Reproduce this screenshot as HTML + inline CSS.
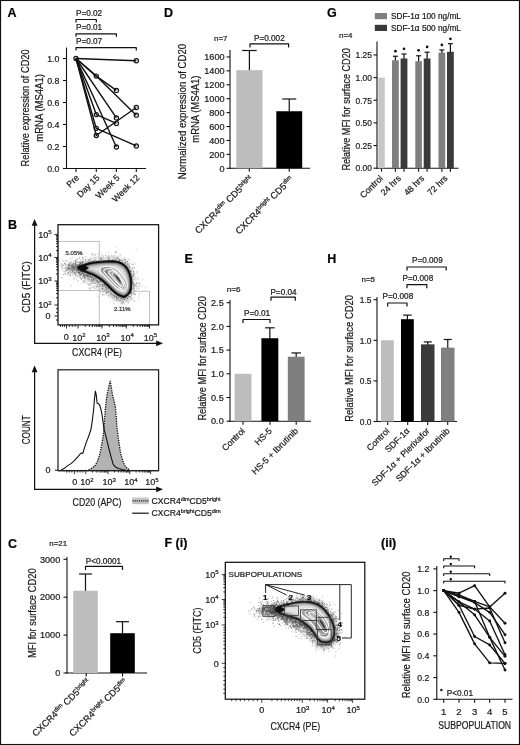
<!DOCTYPE html>
<html><head><meta charset="utf-8"><title>Figure</title>
<style>html,body{margin:0;padding:0;background:#fff;}svg{display:block;font-family:"Liberation Sans",sans-serif;filter:grayscale(1);}text{stroke:#1a1a1a;stroke-width:.22px;}</style>
</head><body>
<svg width="520" height="745" viewBox="0 0 520 745">
<rect x="0" y="0" width="520" height="745" fill="#fff"/>
<rect x="0.55" y="0.5" width="518.9" height="744" fill="none" stroke="#111" stroke-width="1.1"/>
<text transform="translate(7.50,17.20)" font-size="12.5" text-anchor="start" font-weight="bold" fill="#000" >A</text>
<text transform="translate(164.00,16.60)" font-size="12.5" text-anchor="start" font-weight="bold" fill="#000" >D</text>
<text transform="translate(327.00,17.00)" font-size="12.5" text-anchor="start" font-weight="bold" fill="#000" >G</text>
<text transform="translate(8.00,229.00)" font-size="12.5" text-anchor="start" font-weight="bold" fill="#000" >B</text>
<text transform="translate(184.50,263.30)" font-size="12.5" text-anchor="start" font-weight="bold" fill="#000" >E</text>
<text transform="translate(327.30,263.30)" font-size="12.5" text-anchor="start" font-weight="bold" fill="#000" >H</text>
<text transform="translate(8.00,547.50)" font-size="12.5" text-anchor="start" font-weight="bold" fill="#000" >C</text>
<text transform="translate(164.50,547.20)" font-size="12.5" text-anchor="start" font-weight="bold" fill="#000" >F (i)</text>
<text transform="translate(381.00,547.00)" font-size="12.5" text-anchor="start" font-weight="bold" fill="#000" >(ii)</text>
<line x1="66.50" y1="47.50" x2="66.50" y2="169.05" stroke="#111" stroke-width="1.1" stroke-linecap="butt"/>
<line x1="63.00" y1="168.50" x2="66.50" y2="168.50" stroke="#111" stroke-width="1.1" stroke-linecap="butt"/>
<text transform="translate(59.40,171.78) scale(0.97,1)" font-size="9.1" text-anchor="end" font-weight="normal" fill="#1a1a1a" >0.0</text>
<line x1="63.00" y1="146.50" x2="66.50" y2="146.50" stroke="#111" stroke-width="1.1" stroke-linecap="butt"/>
<text transform="translate(59.40,149.78) scale(0.97,1)" font-size="9.1" text-anchor="end" font-weight="normal" fill="#1a1a1a" >0.2</text>
<line x1="63.00" y1="124.50" x2="66.50" y2="124.50" stroke="#111" stroke-width="1.1" stroke-linecap="butt"/>
<text transform="translate(59.40,127.78) scale(0.97,1)" font-size="9.1" text-anchor="end" font-weight="normal" fill="#1a1a1a" >0.4</text>
<line x1="63.00" y1="102.50" x2="66.50" y2="102.50" stroke="#111" stroke-width="1.1" stroke-linecap="butt"/>
<text transform="translate(59.40,105.78) scale(0.97,1)" font-size="9.1" text-anchor="end" font-weight="normal" fill="#1a1a1a" >0.6</text>
<line x1="63.00" y1="80.50" x2="66.50" y2="80.50" stroke="#111" stroke-width="1.1" stroke-linecap="butt"/>
<text transform="translate(59.40,83.78) scale(0.97,1)" font-size="9.1" text-anchor="end" font-weight="normal" fill="#1a1a1a" >0.8</text>
<line x1="63.00" y1="58.50" x2="66.50" y2="58.50" stroke="#111" stroke-width="1.1" stroke-linecap="butt"/>
<text transform="translate(59.40,61.78) scale(0.97,1)" font-size="9.1" text-anchor="end" font-weight="normal" fill="#1a1a1a" >1.0</text>
<line x1="65.85" y1="168.50" x2="146.00" y2="168.50" stroke="#111" stroke-width="1.1" stroke-linecap="butt"/>
<line x1="76.00" y1="168.50" x2="76.00" y2="172.00" stroke="#111" stroke-width="1.1" stroke-linecap="butt"/>
<line x1="96.30" y1="168.50" x2="96.30" y2="172.00" stroke="#111" stroke-width="1.1" stroke-linecap="butt"/>
<line x1="116.40" y1="168.50" x2="116.40" y2="172.00" stroke="#111" stroke-width="1.1" stroke-linecap="butt"/>
<line x1="136.30" y1="168.50" x2="136.30" y2="172.00" stroke="#111" stroke-width="1.1" stroke-linecap="butt"/>
<text transform="translate(29.00,166.40) rotate(-90)" font-size="10.5" text-anchor="start" font-weight="normal" fill="#1a1a1a"  textLength="117" lengthAdjust="spacingAndGlyphs">Relative expression of CD20</text>
<text transform="translate(42.60,141.70) rotate(-90)" font-size="10.5" text-anchor="start" font-weight="normal" fill="#1a1a1a"  textLength="67.6" lengthAdjust="spacingAndGlyphs">mRNA (MS4A1)</text>
<text transform="translate(79.80,178.30) rotate(-45)" font-size="8.8" text-anchor="end" font-weight="normal" fill="#1a1a1a" >Pre</text>
<text transform="translate(100.10,178.30) rotate(-45)" font-size="8.8" text-anchor="end" font-weight="normal" fill="#1a1a1a" >Day 15</text>
<text transform="translate(120.20,178.30) rotate(-45)" font-size="8.8" text-anchor="end" font-weight="normal" fill="#1a1a1a" >Week 5</text>
<text transform="translate(140.10,178.30) rotate(-45)" font-size="8.8" text-anchor="end" font-weight="normal" fill="#1a1a1a" >Week 12</text>
<polyline points="76.00,58.50 136.30,60.70" fill="none" stroke="#111" stroke-width="1.4" stroke-linejoin="round" />
<polyline points="76.00,58.50 96.30,76.10 116.40,90.40" fill="none" stroke="#111" stroke-width="1.4" stroke-linejoin="round" />
<polyline points="76.00,58.50 96.30,76.10 136.30,115.15" fill="none" stroke="#111" stroke-width="1.4" stroke-linejoin="round" />
<polyline points="76.00,58.50 116.40,117.90" fill="none" stroke="#111" stroke-width="1.4" stroke-linejoin="round" />
<polyline points="76.00,58.50 96.30,114.60 116.40,123.40" fill="none" stroke="#111" stroke-width="1.4" stroke-linejoin="round" />
<polyline points="76.00,58.50 96.30,135.50 136.30,107.45" fill="none" stroke="#111" stroke-width="1.4" stroke-linejoin="round" />
<polyline points="76.00,58.50 96.30,128.35 136.30,145.95" fill="none" stroke="#111" stroke-width="1.4" stroke-linejoin="round" />
<polyline points="76.00,58.50 116.40,147.05" fill="none" stroke="#111" stroke-width="1.4" stroke-linejoin="round" />
<circle cx="76.00" cy="58.50" r="2.1" fill="none" stroke="#111" stroke-width="1.2"/>
<circle cx="136.30" cy="60.70" r="2.1" fill="none" stroke="#111" stroke-width="1.2"/>
<circle cx="96.30" cy="76.10" r="2.1" fill="none" stroke="#111" stroke-width="1.2"/>
<circle cx="116.40" cy="90.40" r="2.1" fill="none" stroke="#111" stroke-width="1.2"/>
<circle cx="136.30" cy="115.15" r="2.1" fill="none" stroke="#111" stroke-width="1.2"/>
<circle cx="116.40" cy="117.90" r="2.1" fill="none" stroke="#111" stroke-width="1.2"/>
<circle cx="96.30" cy="114.60" r="2.1" fill="none" stroke="#111" stroke-width="1.2"/>
<circle cx="116.40" cy="123.40" r="2.1" fill="none" stroke="#111" stroke-width="1.2"/>
<circle cx="96.30" cy="135.50" r="2.1" fill="none" stroke="#111" stroke-width="1.2"/>
<circle cx="136.30" cy="107.45" r="2.1" fill="none" stroke="#111" stroke-width="1.2"/>
<circle cx="96.30" cy="128.35" r="2.1" fill="none" stroke="#111" stroke-width="1.2"/>
<circle cx="136.30" cy="145.95" r="2.1" fill="none" stroke="#111" stroke-width="1.2"/>
<circle cx="116.40" cy="147.05" r="2.1" fill="none" stroke="#111" stroke-width="1.2"/>
<polyline points="76.00,22.40 76.00,19.50 96.30,19.50 96.30,22.40" fill="none" stroke="#111" stroke-width="1.2" stroke-linejoin="round" />
<text transform="translate(76.00,15.90)" font-size="8.2" text-anchor="start" font-weight="normal" fill="#1a1a1a" >P=0.02</text>
<polyline points="76.00,36.70 76.00,33.80 116.40,33.80 116.40,36.70" fill="none" stroke="#111" stroke-width="1.2" stroke-linejoin="round" />
<text transform="translate(76.00,30.20)" font-size="8.2" text-anchor="start" font-weight="normal" fill="#1a1a1a" >P=0.01</text>
<polyline points="76.00,50.60 76.00,47.70 136.30,47.70 136.30,50.60" fill="none" stroke="#111" stroke-width="1.2" stroke-linejoin="round" />
<text transform="translate(76.00,44.10)" font-size="8.2" text-anchor="start" font-weight="normal" fill="#1a1a1a" >P=0.07</text>
<line x1="230.00" y1="50.00" x2="230.00" y2="168.85" stroke="#111" stroke-width="1.1" stroke-linecap="butt"/>
<line x1="226.50" y1="168.30" x2="230.00" y2="168.30" stroke="#111" stroke-width="1.1" stroke-linecap="butt"/>
<text transform="translate(224.50,171.58) scale(1.0,1)" font-size="9.1" text-anchor="end" font-weight="normal" fill="#1a1a1a" >0</text>
<line x1="226.50" y1="154.38" x2="230.00" y2="154.38" stroke="#111" stroke-width="1.1" stroke-linecap="butt"/>
<text transform="translate(224.50,157.66) scale(1.0,1)" font-size="9.1" text-anchor="end" font-weight="normal" fill="#1a1a1a" >200</text>
<line x1="226.50" y1="140.46" x2="230.00" y2="140.46" stroke="#111" stroke-width="1.1" stroke-linecap="butt"/>
<text transform="translate(224.50,143.74) scale(1.0,1)" font-size="9.1" text-anchor="end" font-weight="normal" fill="#1a1a1a" >400</text>
<line x1="226.50" y1="126.54" x2="230.00" y2="126.54" stroke="#111" stroke-width="1.1" stroke-linecap="butt"/>
<text transform="translate(224.50,129.82) scale(1.0,1)" font-size="9.1" text-anchor="end" font-weight="normal" fill="#1a1a1a" >600</text>
<line x1="226.50" y1="112.62" x2="230.00" y2="112.62" stroke="#111" stroke-width="1.1" stroke-linecap="butt"/>
<text transform="translate(224.50,115.90) scale(1.0,1)" font-size="9.1" text-anchor="end" font-weight="normal" fill="#1a1a1a" >800</text>
<line x1="226.50" y1="98.70" x2="230.00" y2="98.70" stroke="#111" stroke-width="1.1" stroke-linecap="butt"/>
<text transform="translate(224.50,101.98) scale(1.0,1)" font-size="9.1" text-anchor="end" font-weight="normal" fill="#1a1a1a" >1000</text>
<line x1="226.50" y1="84.78" x2="230.00" y2="84.78" stroke="#111" stroke-width="1.1" stroke-linecap="butt"/>
<text transform="translate(224.50,88.06) scale(1.0,1)" font-size="9.1" text-anchor="end" font-weight="normal" fill="#1a1a1a" >1200</text>
<line x1="226.50" y1="70.86" x2="230.00" y2="70.86" stroke="#111" stroke-width="1.1" stroke-linecap="butt"/>
<text transform="translate(224.50,74.14) scale(1.0,1)" font-size="9.1" text-anchor="end" font-weight="normal" fill="#1a1a1a" >1400</text>
<line x1="226.50" y1="56.94" x2="230.00" y2="56.94" stroke="#111" stroke-width="1.1" stroke-linecap="butt"/>
<text transform="translate(224.50,60.22) scale(1.0,1)" font-size="9.1" text-anchor="end" font-weight="normal" fill="#1a1a1a" >1600</text>
<line x1="229.35" y1="168.30" x2="310.00" y2="168.30" stroke="#111" stroke-width="1.1" stroke-linecap="butt"/>
<line x1="249.30" y1="168.30" x2="249.30" y2="171.80" stroke="#111" stroke-width="1.1" stroke-linecap="butt"/>
<line x1="289.20" y1="168.30" x2="289.20" y2="171.80" stroke="#111" stroke-width="1.1" stroke-linecap="butt"/>
<line x1="249.40" y1="50.50" x2="249.40" y2="71.16" stroke="#111" stroke-width="1.2" stroke-linecap="butt"/>
<line x1="242.15" y1="50.50" x2="256.65" y2="50.50" stroke="#111" stroke-width="1.2" stroke-linecap="butt"/>
<rect x="236.30" y="70.16" width="26.20" height="98.14" fill="#bdbdbd" stroke="none" stroke-width="1"/>
<line x1="289.25" y1="99.00" x2="289.25" y2="112.23" stroke="#111" stroke-width="1.2" stroke-linecap="butt"/>
<line x1="282.25" y1="99.00" x2="296.25" y2="99.00" stroke="#111" stroke-width="1.2" stroke-linecap="butt"/>
<rect x="276.30" y="111.23" width="25.90" height="57.07" fill="#000" stroke="none" stroke-width="1"/>
<text transform="translate(185.80,179.20) rotate(-90)" font-size="10.5" text-anchor="start" font-weight="normal" fill="#1a1a1a"  textLength="135.3" lengthAdjust="spacingAndGlyphs">Normalized expression of CD20</text>
<text transform="translate(198.80,142.70) rotate(-90)" font-size="10.5" text-anchor="start" font-weight="normal" fill="#1a1a1a"  textLength="67.2" lengthAdjust="spacingAndGlyphs">mRNA (MS4A1)</text>
<text transform="translate(214.00,41.00)" font-size="7.9" text-anchor="start" font-weight="normal" fill="#1a1a1a" >n=7</text>
<text transform="translate(254.00,41.00)" font-size="8.2" text-anchor="start" font-weight="normal" fill="#1a1a1a" >P=0.002</text>
<polyline points="250.00,47.40 250.00,43.80 288.60,43.80 288.60,47.40" fill="none" stroke="#111" stroke-width="1.2" stroke-linejoin="round" />
<text transform="translate(253.50,179.50) rotate(-45)" font-size="9.3" text-anchor="end" font-weight="normal" fill="#1a1a1a" >CXCR4<tspan font-size="6" dy="-3.2">dim</tspan><tspan dy="3.2"> CD5</tspan><tspan font-size="6" dy="-3.2">bright</tspan></text>
<text transform="translate(294.00,180.00) rotate(-45)" font-size="9.3" text-anchor="end" font-weight="normal" fill="#1a1a1a" >CXCR4<tspan font-size="6" dy="-3.2">bright</tspan><tspan dy="3.2"> CD5</tspan><tspan font-size="6" dy="-3.2">dim</tspan></text>
<line x1="377.00" y1="41.50" x2="377.00" y2="168.75" stroke="#111" stroke-width="1.1" stroke-linecap="butt"/>
<line x1="373.50" y1="168.20" x2="377.00" y2="168.20" stroke="#111" stroke-width="1.1" stroke-linecap="butt"/>
<text transform="translate(372.00,171.48) scale(0.93,1)" font-size="9.1" text-anchor="end" font-weight="normal" fill="#1a1a1a" >0.00</text>
<line x1="373.50" y1="145.55" x2="377.00" y2="145.55" stroke="#111" stroke-width="1.1" stroke-linecap="butt"/>
<text transform="translate(372.00,148.83) scale(0.93,1)" font-size="9.1" text-anchor="end" font-weight="normal" fill="#1a1a1a" >0.25</text>
<line x1="373.50" y1="122.90" x2="377.00" y2="122.90" stroke="#111" stroke-width="1.1" stroke-linecap="butt"/>
<text transform="translate(372.00,126.18) scale(0.93,1)" font-size="9.1" text-anchor="end" font-weight="normal" fill="#1a1a1a" >0.50</text>
<line x1="373.50" y1="100.25" x2="377.00" y2="100.25" stroke="#111" stroke-width="1.1" stroke-linecap="butt"/>
<text transform="translate(372.00,103.53) scale(0.93,1)" font-size="9.1" text-anchor="end" font-weight="normal" fill="#1a1a1a" >0.75</text>
<line x1="373.50" y1="77.60" x2="377.00" y2="77.60" stroke="#111" stroke-width="1.1" stroke-linecap="butt"/>
<text transform="translate(372.00,80.88) scale(0.93,1)" font-size="9.1" text-anchor="end" font-weight="normal" fill="#1a1a1a" >1.00</text>
<line x1="373.50" y1="54.95" x2="377.00" y2="54.95" stroke="#111" stroke-width="1.1" stroke-linecap="butt"/>
<text transform="translate(372.00,58.23) scale(0.93,1)" font-size="9.1" text-anchor="end" font-weight="normal" fill="#1a1a1a" >1.25</text>
<line x1="376.35" y1="168.20" x2="458.50" y2="168.20" stroke="#111" stroke-width="1.1" stroke-linecap="butt"/>
<line x1="381.50" y1="168.20" x2="381.50" y2="171.70" stroke="#111" stroke-width="1.1" stroke-linecap="butt"/>
<line x1="395.40" y1="168.20" x2="395.40" y2="171.70" stroke="#111" stroke-width="1.1" stroke-linecap="butt"/>
<line x1="404.00" y1="168.20" x2="404.00" y2="171.70" stroke="#111" stroke-width="1.1" stroke-linecap="butt"/>
<line x1="418.60" y1="168.20" x2="418.60" y2="171.70" stroke="#111" stroke-width="1.1" stroke-linecap="butt"/>
<line x1="427.10" y1="168.20" x2="427.10" y2="171.70" stroke="#111" stroke-width="1.1" stroke-linecap="butt"/>
<line x1="441.90" y1="168.20" x2="441.90" y2="171.70" stroke="#111" stroke-width="1.1" stroke-linecap="butt"/>
<line x1="450.40" y1="168.20" x2="450.40" y2="171.70" stroke="#111" stroke-width="1.1" stroke-linecap="butt"/>
<rect x="378.30" y="77.60" width="6.50" height="90.60" fill="#c6c6c6" stroke="none" stroke-width="1"/>
<line x1="395.40" y1="56.25" x2="395.40" y2="61.28" stroke="#111" stroke-width="1.2" stroke-linecap="butt"/>
<line x1="392.90" y1="56.25" x2="397.90" y2="56.25" stroke="#111" stroke-width="1.2" stroke-linecap="butt"/>
<rect x="392.00" y="60.28" width="6.80" height="107.92" fill="#7f7f7f" stroke="none" stroke-width="1"/>
<circle cx="395.40" cy="51.20" r="1.35" fill="#111"/>
<line x1="404.00" y1="54.01" x2="404.00" y2="59.49" stroke="#111" stroke-width="1.2" stroke-linecap="butt"/>
<line x1="401.50" y1="54.01" x2="406.50" y2="54.01" stroke="#111" stroke-width="1.2" stroke-linecap="butt"/>
<rect x="400.60" y="58.49" width="6.80" height="109.71" fill="#3a3a3a" stroke="none" stroke-width="1"/>
<circle cx="404.00" cy="48.80" r="1.35" fill="#111"/>
<line x1="418.60" y1="55.80" x2="418.60" y2="62.18" stroke="#111" stroke-width="1.2" stroke-linecap="butt"/>
<line x1="416.10" y1="55.80" x2="421.10" y2="55.80" stroke="#111" stroke-width="1.2" stroke-linecap="butt"/>
<rect x="415.30" y="61.18" width="6.60" height="107.02" fill="#7f7f7f" stroke="none" stroke-width="1"/>
<circle cx="418.60" cy="50.30" r="1.35" fill="#111"/>
<line x1="427.10" y1="52.22" x2="427.10" y2="59.49" stroke="#111" stroke-width="1.2" stroke-linecap="butt"/>
<line x1="424.60" y1="52.22" x2="429.60" y2="52.22" stroke="#111" stroke-width="1.2" stroke-linecap="butt"/>
<rect x="423.70" y="58.49" width="6.80" height="109.71" fill="#3a3a3a" stroke="none" stroke-width="1"/>
<circle cx="427.10" cy="46.90" r="1.35" fill="#111"/>
<line x1="441.85" y1="49.98" x2="441.85" y2="53.66" stroke="#111" stroke-width="1.2" stroke-linecap="butt"/>
<line x1="439.35" y1="49.98" x2="444.35" y2="49.98" stroke="#111" stroke-width="1.2" stroke-linecap="butt"/>
<rect x="438.50" y="52.66" width="6.70" height="115.54" fill="#7f7f7f" stroke="none" stroke-width="1"/>
<circle cx="441.85" cy="44.90" r="1.35" fill="#111"/>
<line x1="450.40" y1="43.70" x2="450.40" y2="52.77" stroke="#111" stroke-width="1.2" stroke-linecap="butt"/>
<line x1="447.90" y1="43.70" x2="452.90" y2="43.70" stroke="#111" stroke-width="1.2" stroke-linecap="butt"/>
<rect x="447.00" y="51.77" width="6.80" height="116.43" fill="#3a3a3a" stroke="none" stroke-width="1"/>
<circle cx="450.40" cy="38.80" r="1.35" fill="#111"/>
<text transform="translate(350.00,170.60) rotate(-90)" font-size="10.5" text-anchor="start" font-weight="normal" fill="#1a1a1a"  textLength="122.4" lengthAdjust="spacingAndGlyphs">Relative MFI for surface CD20</text>
<text transform="translate(339.00,38.00)" font-size="7.9" text-anchor="start" font-weight="normal" fill="#1a1a1a" >n=4</text>
<rect x="374.80" y="13.00" width="12.20" height="6.20" fill="#7f7f7f" stroke="none" stroke-width="1"/>
<text transform="translate(391.00,19.30)" font-size="8.25" text-anchor="start" font-weight="normal" fill="#1a1a1a" >SDF-1α 100 ng/mL</text>
<rect x="374.80" y="24.80" width="12.20" height="6.20" fill="#3a3a3a" stroke="none" stroke-width="1"/>
<text transform="translate(391.00,31.00)" font-size="8.25" text-anchor="start" font-weight="normal" fill="#1a1a1a" >SDF-1α 500 ng/mL</text>
<text transform="translate(383.50,178.80) rotate(-45)" font-size="8.8" text-anchor="end" font-weight="normal" fill="#1a1a1a" >Control</text>
<text transform="translate(401.50,178.80) rotate(-45)" font-size="8.8" text-anchor="end" font-weight="normal" fill="#1a1a1a" >24 hrs</text>
<text transform="translate(424.80,178.80) rotate(-45)" font-size="8.8" text-anchor="end" font-weight="normal" fill="#1a1a1a" >48 hrs</text>
<text transform="translate(448.10,178.80) rotate(-45)" font-size="8.8" text-anchor="end" font-weight="normal" fill="#1a1a1a" >72 hrs</text>
<line x1="230.00" y1="300.00" x2="230.00" y2="421.75" stroke="#111" stroke-width="1.1" stroke-linecap="butt"/>
<line x1="226.50" y1="421.20" x2="230.00" y2="421.20" stroke="#111" stroke-width="1.1" stroke-linecap="butt"/>
<text transform="translate(223.70,424.48) scale(1.0,1)" font-size="9.1" text-anchor="end" font-weight="normal" fill="#1a1a1a" >0.0</text>
<line x1="226.50" y1="397.50" x2="230.00" y2="397.50" stroke="#111" stroke-width="1.1" stroke-linecap="butt"/>
<text transform="translate(223.70,400.78) scale(1.0,1)" font-size="9.1" text-anchor="end" font-weight="normal" fill="#1a1a1a" >0.5</text>
<line x1="226.50" y1="373.80" x2="230.00" y2="373.80" stroke="#111" stroke-width="1.1" stroke-linecap="butt"/>
<text transform="translate(223.70,377.08) scale(1.0,1)" font-size="9.1" text-anchor="end" font-weight="normal" fill="#1a1a1a" >1.0</text>
<line x1="226.50" y1="350.10" x2="230.00" y2="350.10" stroke="#111" stroke-width="1.1" stroke-linecap="butt"/>
<text transform="translate(223.70,353.38) scale(1.0,1)" font-size="9.1" text-anchor="end" font-weight="normal" fill="#1a1a1a" >1.5</text>
<line x1="226.50" y1="326.40" x2="230.00" y2="326.40" stroke="#111" stroke-width="1.1" stroke-linecap="butt"/>
<text transform="translate(223.70,329.68) scale(1.0,1)" font-size="9.1" text-anchor="end" font-weight="normal" fill="#1a1a1a" >2.0</text>
<line x1="226.50" y1="302.70" x2="230.00" y2="302.70" stroke="#111" stroke-width="1.1" stroke-linecap="butt"/>
<text transform="translate(223.70,305.98) scale(1.0,1)" font-size="9.1" text-anchor="end" font-weight="normal" fill="#1a1a1a" >2.5</text>
<line x1="229.35" y1="421.20" x2="311.00" y2="421.20" stroke="#111" stroke-width="1.1" stroke-linecap="butt"/>
<line x1="243.00" y1="421.20" x2="243.00" y2="424.70" stroke="#111" stroke-width="1.1" stroke-linecap="butt"/>
<line x1="270.00" y1="421.20" x2="270.00" y2="424.70" stroke="#111" stroke-width="1.1" stroke-linecap="butt"/>
<line x1="296.20" y1="421.20" x2="296.20" y2="424.70" stroke="#111" stroke-width="1.1" stroke-linecap="butt"/>
<rect x="234.60" y="373.80" width="16.90" height="47.40" fill="#bdbdbd" stroke="none" stroke-width="1"/>
<line x1="269.85" y1="327.82" x2="269.85" y2="339.25" stroke="#111" stroke-width="1.2" stroke-linecap="butt"/>
<line x1="265.10" y1="327.82" x2="274.60" y2="327.82" stroke="#111" stroke-width="1.2" stroke-linecap="butt"/>
<rect x="261.40" y="338.25" width="16.90" height="82.95" fill="#000" stroke="none" stroke-width="1"/>
<line x1="296.20" y1="352.94" x2="296.20" y2="357.74" stroke="#111" stroke-width="1.2" stroke-linecap="butt"/>
<line x1="291.45" y1="352.94" x2="300.95" y2="352.94" stroke="#111" stroke-width="1.2" stroke-linecap="butt"/>
<rect x="287.80" y="356.74" width="16.80" height="64.46" fill="#7f7f7f" stroke="none" stroke-width="1"/>
<text transform="translate(206.20,420.60) rotate(-90)" font-size="10.5" text-anchor="start" font-weight="normal" fill="#1a1a1a"  textLength="124.5" lengthAdjust="spacingAndGlyphs">Relative MFI for surface CD20</text>
<text transform="translate(226.80,291.50)" font-size="8.1" text-anchor="start" font-weight="normal" fill="#1a1a1a" >n=6</text>
<text transform="translate(270.40,294.50)" font-size="8.2" text-anchor="start" font-weight="normal" fill="#1a1a1a" >P=0.04</text>
<polyline points="271.00,300.80 271.00,297.20 295.30,297.20 295.30,300.80" fill="none" stroke="#111" stroke-width="1.2" stroke-linejoin="round" />
<text transform="translate(244.00,316.20)" font-size="8.2" text-anchor="start" font-weight="normal" fill="#1a1a1a" >P=0.01</text>
<polyline points="243.00,323.10 243.00,319.50 270.00,319.50 270.00,323.10" fill="none" stroke="#111" stroke-width="1.2" stroke-linejoin="round" />
<text transform="translate(245.50,431.50) rotate(-45)" font-size="8.8" text-anchor="end" font-weight="normal" fill="#1a1a1a" >Control</text>
<text transform="translate(272.50,431.50) rotate(-45)" font-size="8.8" text-anchor="end" font-weight="normal" fill="#1a1a1a" >HS-5</text>
<text transform="translate(298.70,431.50) rotate(-45)" font-size="8.8" text-anchor="end" font-weight="normal" fill="#1a1a1a" >HS-5 + Ibrutinib</text>
<line x1="377.00" y1="297.00" x2="377.00" y2="422.05" stroke="#111" stroke-width="1.1" stroke-linecap="butt"/>
<line x1="373.50" y1="421.50" x2="377.00" y2="421.50" stroke="#111" stroke-width="1.1" stroke-linecap="butt"/>
<text transform="translate(371.50,424.78) scale(0.93,1)" font-size="9.1" text-anchor="end" font-weight="normal" fill="#1a1a1a" >0.0</text>
<line x1="373.50" y1="380.90" x2="377.00" y2="380.90" stroke="#111" stroke-width="1.1" stroke-linecap="butt"/>
<text transform="translate(371.50,384.18) scale(0.93,1)" font-size="9.1" text-anchor="end" font-weight="normal" fill="#1a1a1a" >0.5</text>
<line x1="373.50" y1="340.30" x2="377.00" y2="340.30" stroke="#111" stroke-width="1.1" stroke-linecap="butt"/>
<text transform="translate(371.50,343.58) scale(0.93,1)" font-size="9.1" text-anchor="end" font-weight="normal" fill="#1a1a1a" >1.0</text>
<line x1="373.50" y1="299.70" x2="377.00" y2="299.70" stroke="#111" stroke-width="1.1" stroke-linecap="butt"/>
<text transform="translate(371.50,302.98) scale(0.93,1)" font-size="9.1" text-anchor="end" font-weight="normal" fill="#1a1a1a" >1.5</text>
<line x1="376.35" y1="421.50" x2="457.00" y2="421.50" stroke="#111" stroke-width="1.1" stroke-linecap="butt"/>
<line x1="387.70" y1="421.50" x2="387.70" y2="425.00" stroke="#111" stroke-width="1.1" stroke-linecap="butt"/>
<line x1="407.70" y1="421.50" x2="407.70" y2="425.00" stroke="#111" stroke-width="1.1" stroke-linecap="butt"/>
<line x1="427.70" y1="421.50" x2="427.70" y2="425.00" stroke="#111" stroke-width="1.1" stroke-linecap="butt"/>
<line x1="447.70" y1="421.50" x2="447.70" y2="425.00" stroke="#111" stroke-width="1.1" stroke-linecap="butt"/>
<rect x="381.00" y="340.30" width="12.80" height="81.20" fill="#bdbdbd" stroke="none" stroke-width="1"/>
<line x1="407.40" y1="315.13" x2="407.40" y2="320.19" stroke="#111" stroke-width="1.2" stroke-linecap="butt"/>
<line x1="403.15" y1="315.13" x2="411.65" y2="315.13" stroke="#111" stroke-width="1.2" stroke-linecap="butt"/>
<rect x="401.00" y="319.19" width="12.80" height="102.31" fill="#000" stroke="none" stroke-width="1"/>
<line x1="427.75" y1="341.92" x2="427.75" y2="345.36" stroke="#111" stroke-width="1.2" stroke-linecap="butt"/>
<line x1="423.75" y1="341.92" x2="431.75" y2="341.92" stroke="#111" stroke-width="1.2" stroke-linecap="butt"/>
<rect x="421.00" y="344.36" width="13.50" height="77.14" fill="#3a3a3a" stroke="none" stroke-width="1"/>
<line x1="447.75" y1="339.49" x2="447.75" y2="348.61" stroke="#111" stroke-width="1.2" stroke-linecap="butt"/>
<line x1="443.75" y1="339.49" x2="451.75" y2="339.49" stroke="#111" stroke-width="1.2" stroke-linecap="butt"/>
<rect x="441.00" y="347.61" width="13.50" height="73.89" fill="#7f7f7f" stroke="none" stroke-width="1"/>
<text transform="translate(352.50,421.70) rotate(-90)" font-size="10.5" text-anchor="start" font-weight="normal" fill="#1a1a1a"  textLength="126.7" lengthAdjust="spacingAndGlyphs">Relative MFI for surface CD20</text>
<text transform="translate(361.50,282.30)" font-size="7.9" text-anchor="start" font-weight="normal" fill="#1a1a1a" >n=5</text>
<text transform="translate(412.00,262.50)" font-size="8.2" text-anchor="start" font-weight="normal" fill="#1a1a1a" >P=0.009</text>
<polyline points="407.00,270.60 407.00,267.00 446.20,267.00 446.20,270.60" fill="none" stroke="#111" stroke-width="1.2" stroke-linejoin="round" />
<text transform="translate(402.50,280.50)" font-size="8.2" text-anchor="start" font-weight="normal" fill="#1a1a1a" >P=0.008</text>
<polyline points="407.00,288.30 407.00,284.70 426.80,284.70 426.80,288.30" fill="none" stroke="#111" stroke-width="1.2" stroke-linejoin="round" />
<text transform="translate(382.50,299.00)" font-size="8.2" text-anchor="start" font-weight="normal" fill="#1a1a1a" >P=0.008</text>
<polyline points="387.70,306.60 387.70,303.00 407.00,303.00 407.00,306.60" fill="none" stroke="#111" stroke-width="1.2" stroke-linejoin="round" />
<text transform="translate(390.20,431.50) rotate(-45)" font-size="8.8" text-anchor="end" font-weight="normal" fill="#1a1a1a" >Control</text>
<text transform="translate(410.20,431.50) rotate(-45)" font-size="8.8" text-anchor="end" font-weight="normal" fill="#1a1a1a" >SDF-1α</text>
<text transform="translate(430.20,431.50) rotate(-45)" font-size="8.8" text-anchor="end" font-weight="normal" fill="#1a1a1a" >SDF-1α + Plerixafor</text>
<text transform="translate(450.20,431.50) rotate(-45)" font-size="8.8" text-anchor="end" font-weight="normal" fill="#1a1a1a" >SDF-1α + Ibrutinib</text>
<line x1="67.00" y1="557.00" x2="67.00" y2="673.55" stroke="#111" stroke-width="1.1" stroke-linecap="butt"/>
<line x1="63.50" y1="673.00" x2="67.00" y2="673.00" stroke="#111" stroke-width="1.1" stroke-linecap="butt"/>
<text transform="translate(60.20,676.28) scale(1.0,1)" font-size="9.1" text-anchor="end" font-weight="normal" fill="#1a1a1a" >0</text>
<line x1="63.50" y1="635.10" x2="67.00" y2="635.10" stroke="#111" stroke-width="1.1" stroke-linecap="butt"/>
<text transform="translate(60.20,638.38) scale(1.0,1)" font-size="9.1" text-anchor="end" font-weight="normal" fill="#1a1a1a" >1000</text>
<line x1="63.50" y1="597.20" x2="67.00" y2="597.20" stroke="#111" stroke-width="1.1" stroke-linecap="butt"/>
<text transform="translate(60.20,600.48) scale(1.0,1)" font-size="9.1" text-anchor="end" font-weight="normal" fill="#1a1a1a" >2000</text>
<line x1="63.50" y1="559.30" x2="67.00" y2="559.30" stroke="#111" stroke-width="1.1" stroke-linecap="butt"/>
<text transform="translate(60.20,562.58) scale(1.0,1)" font-size="9.1" text-anchor="end" font-weight="normal" fill="#1a1a1a" >3000</text>
<line x1="66.35" y1="673.00" x2="147.00" y2="673.00" stroke="#111" stroke-width="1.1" stroke-linecap="butt"/>
<line x1="86.20" y1="673.00" x2="86.20" y2="676.50" stroke="#111" stroke-width="1.1" stroke-linecap="butt"/>
<line x1="122.50" y1="673.00" x2="122.50" y2="676.50" stroke="#111" stroke-width="1.1" stroke-linecap="butt"/>
<line x1="85.50" y1="574.00" x2="85.50" y2="591.76" stroke="#111" stroke-width="1.2" stroke-linecap="butt"/>
<line x1="79.00" y1="574.00" x2="92.00" y2="574.00" stroke="#111" stroke-width="1.2" stroke-linecap="butt"/>
<rect x="73.20" y="590.76" width="24.60" height="82.24" fill="#bdbdbd" stroke="none" stroke-width="1"/>
<line x1="122.50" y1="621.70" x2="122.50" y2="634.21" stroke="#111" stroke-width="1.2" stroke-linecap="butt"/>
<line x1="116.00" y1="621.70" x2="129.00" y2="621.70" stroke="#111" stroke-width="1.2" stroke-linecap="butt"/>
<rect x="110.20" y="633.21" width="24.60" height="39.79" fill="#000" stroke="none" stroke-width="1"/>
<text transform="translate(36.20,658.10) rotate(-90)" font-size="10.5" text-anchor="start" font-weight="normal" fill="#1a1a1a"  textLength="89.8" lengthAdjust="spacingAndGlyphs">MFI for surface CD20</text>
<text transform="translate(49.30,546.00)" font-size="7.9" text-anchor="start" font-weight="normal" fill="#1a1a1a" >n=21</text>
<text transform="translate(85.80,564.00)" font-size="8.2" text-anchor="start" font-weight="normal" fill="#1a1a1a" >P&lt;0.0001</text>
<polyline points="85.50,569.90 85.50,566.30 122.50,566.30 122.50,569.90" fill="none" stroke="#111" stroke-width="1.2" stroke-linejoin="round" />
<text transform="translate(90.80,682.30) rotate(-45)" font-size="9.3" text-anchor="end" font-weight="normal" fill="#1a1a1a" >CXCR4<tspan font-size="6" dy="-3.2">dim</tspan><tspan dy="3.2"> CD5</tspan><tspan font-size="6" dy="-3.2">bright</tspan></text>
<text transform="translate(127.80,682.30) rotate(-45)" font-size="9.3" text-anchor="end" font-weight="normal" fill="#1a1a1a" >CXCR4<tspan font-size="6" dy="-3.2">bright</tspan><tspan dy="3.2"> CD5</tspan><tspan font-size="6" dy="-3.2">dim</tspan></text>
<line x1="436.80" y1="566.00" x2="436.80" y2="699.85" stroke="#111" stroke-width="1.1" stroke-linecap="butt"/>
<line x1="433.30" y1="699.30" x2="436.80" y2="699.30" stroke="#111" stroke-width="1.1" stroke-linecap="butt"/>
<text transform="translate(429.40,702.58) scale(0.96,1)" font-size="9.1" text-anchor="end" font-weight="normal" fill="#1a1a1a" >0.0</text>
<line x1="433.30" y1="677.56" x2="436.80" y2="677.56" stroke="#111" stroke-width="1.1" stroke-linecap="butt"/>
<text transform="translate(429.40,680.84) scale(0.96,1)" font-size="9.1" text-anchor="end" font-weight="normal" fill="#1a1a1a" >0.2</text>
<line x1="433.30" y1="655.82" x2="436.80" y2="655.82" stroke="#111" stroke-width="1.1" stroke-linecap="butt"/>
<text transform="translate(429.40,659.10) scale(0.96,1)" font-size="9.1" text-anchor="end" font-weight="normal" fill="#1a1a1a" >0.4</text>
<line x1="433.30" y1="634.08" x2="436.80" y2="634.08" stroke="#111" stroke-width="1.1" stroke-linecap="butt"/>
<text transform="translate(429.40,637.36) scale(0.96,1)" font-size="9.1" text-anchor="end" font-weight="normal" fill="#1a1a1a" >0.6</text>
<line x1="433.30" y1="612.34" x2="436.80" y2="612.34" stroke="#111" stroke-width="1.1" stroke-linecap="butt"/>
<text transform="translate(429.40,615.62) scale(0.96,1)" font-size="9.1" text-anchor="end" font-weight="normal" fill="#1a1a1a" >0.8</text>
<line x1="433.30" y1="590.60" x2="436.80" y2="590.60" stroke="#111" stroke-width="1.1" stroke-linecap="butt"/>
<text transform="translate(429.40,593.88) scale(0.96,1)" font-size="9.1" text-anchor="end" font-weight="normal" fill="#1a1a1a" >1.0</text>
<line x1="433.30" y1="568.86" x2="436.80" y2="568.86" stroke="#111" stroke-width="1.1" stroke-linecap="butt"/>
<text transform="translate(429.40,572.14) scale(0.96,1)" font-size="9.1" text-anchor="end" font-weight="normal" fill="#1a1a1a" >1.2</text>
<line x1="436.15" y1="699.30" x2="512.50" y2="699.30" stroke="#111" stroke-width="1.1" stroke-linecap="butt"/>
<line x1="443.70" y1="699.30" x2="443.70" y2="702.80" stroke="#111" stroke-width="1.1" stroke-linecap="butt"/>
<line x1="459.00" y1="699.30" x2="459.00" y2="702.80" stroke="#111" stroke-width="1.1" stroke-linecap="butt"/>
<line x1="474.60" y1="699.30" x2="474.60" y2="702.80" stroke="#111" stroke-width="1.1" stroke-linecap="butt"/>
<line x1="489.70" y1="699.30" x2="489.70" y2="702.80" stroke="#111" stroke-width="1.1" stroke-linecap="butt"/>
<line x1="505.00" y1="699.30" x2="505.00" y2="702.80" stroke="#111" stroke-width="1.1" stroke-linecap="butt"/>
<text transform="translate(443.70,714.80)" font-size="9.5" text-anchor="middle" font-weight="normal" fill="#1a1a1a" >1</text>
<text transform="translate(459.00,714.80)" font-size="9.5" text-anchor="middle" font-weight="normal" fill="#1a1a1a" >2</text>
<text transform="translate(474.60,714.80)" font-size="9.5" text-anchor="middle" font-weight="normal" fill="#1a1a1a" >3</text>
<text transform="translate(489.70,714.80)" font-size="9.5" text-anchor="middle" font-weight="normal" fill="#1a1a1a" >4</text>
<text transform="translate(505.00,714.80)" font-size="9.5" text-anchor="middle" font-weight="normal" fill="#1a1a1a" >5</text>
<text transform="translate(474.70,728.50) scale(0.765,1)" font-size="11.3" text-anchor="middle" font-weight="normal" fill="#1a1a1a" >SUBPOPULATION</text>
<text transform="translate(409.70,698.20) rotate(-90)" font-size="10.5" text-anchor="start" font-weight="normal" fill="#1a1a1a"  textLength="126.7" lengthAdjust="spacingAndGlyphs">Relative MFI for surface CD20</text>
<polyline points="443.70,590.60 459.00,593.21 474.60,585.71 489.70,606.90 505.00,593.21" fill="none" stroke="#111" stroke-width="1.35" stroke-linejoin="round" />
<circle cx="443.70" cy="590.60" r="1.45" fill="#111"/>
<circle cx="459.00" cy="593.21" r="1.45" fill="#111"/>
<circle cx="474.60" cy="585.71" r="1.45" fill="#111"/>
<circle cx="489.70" cy="606.90" r="1.45" fill="#111"/>
<circle cx="505.00" cy="593.21" r="1.45" fill="#111"/>
<polyline points="443.70,590.60 459.00,594.95 474.60,601.47 489.70,606.90 505.00,623.21" fill="none" stroke="#111" stroke-width="1.35" stroke-linejoin="round" />
<circle cx="443.70" cy="590.60" r="1.45" fill="#111"/>
<circle cx="459.00" cy="594.95" r="1.45" fill="#111"/>
<circle cx="474.60" cy="601.47" r="1.45" fill="#111"/>
<circle cx="489.70" cy="606.90" r="1.45" fill="#111"/>
<circle cx="505.00" cy="623.21" r="1.45" fill="#111"/>
<polyline points="443.70,590.60 459.00,596.69 474.60,602.56 489.70,612.34 505.00,634.73" fill="none" stroke="#111" stroke-width="1.35" stroke-linejoin="round" />
<circle cx="443.70" cy="590.60" r="1.45" fill="#111"/>
<circle cx="459.00" cy="596.69" r="1.45" fill="#111"/>
<circle cx="474.60" cy="602.56" r="1.45" fill="#111"/>
<circle cx="489.70" cy="612.34" r="1.45" fill="#111"/>
<circle cx="505.00" cy="634.73" r="1.45" fill="#111"/>
<polyline points="443.70,590.60 459.00,601.90 474.60,609.08 489.70,607.99 505.00,642.78" fill="none" stroke="#111" stroke-width="1.35" stroke-linejoin="round" />
<circle cx="443.70" cy="590.60" r="1.45" fill="#111"/>
<circle cx="459.00" cy="601.90" r="1.45" fill="#111"/>
<circle cx="474.60" cy="609.08" r="1.45" fill="#111"/>
<circle cx="489.70" cy="607.99" r="1.45" fill="#111"/>
<circle cx="505.00" cy="642.78" r="1.45" fill="#111"/>
<polyline points="443.70,590.60 459.00,605.27 474.60,609.08 489.70,621.04 505.00,654.73" fill="none" stroke="#111" stroke-width="1.35" stroke-linejoin="round" />
<circle cx="443.70" cy="590.60" r="1.45" fill="#111"/>
<circle cx="459.00" cy="605.27" r="1.45" fill="#111"/>
<circle cx="474.60" cy="609.08" r="1.45" fill="#111"/>
<circle cx="489.70" cy="621.04" r="1.45" fill="#111"/>
<circle cx="505.00" cy="654.73" r="1.45" fill="#111"/>
<polyline points="443.70,590.60 459.00,601.90 474.60,614.84 489.70,637.34 505.00,656.36" fill="none" stroke="#111" stroke-width="1.35" stroke-linejoin="round" />
<circle cx="443.70" cy="590.60" r="1.45" fill="#111"/>
<circle cx="459.00" cy="601.90" r="1.45" fill="#111"/>
<circle cx="474.60" cy="614.84" r="1.45" fill="#111"/>
<circle cx="489.70" cy="637.34" r="1.45" fill="#111"/>
<circle cx="505.00" cy="656.36" r="1.45" fill="#111"/>
<polyline points="443.70,590.60 459.00,605.27 474.60,636.47 489.70,644.95 505.00,663.43" fill="none" stroke="#111" stroke-width="1.35" stroke-linejoin="round" />
<circle cx="443.70" cy="590.60" r="1.45" fill="#111"/>
<circle cx="459.00" cy="605.27" r="1.45" fill="#111"/>
<circle cx="474.60" cy="636.47" r="1.45" fill="#111"/>
<circle cx="489.70" cy="644.95" r="1.45" fill="#111"/>
<circle cx="505.00" cy="663.43" r="1.45" fill="#111"/>
<polyline points="443.70,590.60 459.00,612.34 474.60,643.86 489.70,662.89 505.00,663.43" fill="none" stroke="#111" stroke-width="1.35" stroke-linejoin="round" />
<circle cx="443.70" cy="590.60" r="1.45" fill="#111"/>
<circle cx="459.00" cy="612.34" r="1.45" fill="#111"/>
<circle cx="474.60" cy="643.86" r="1.45" fill="#111"/>
<circle cx="489.70" cy="662.89" r="1.45" fill="#111"/>
<circle cx="505.00" cy="663.43" r="1.45" fill="#111"/>
<polyline points="443.70,590.60 459.00,596.69 474.60,601.47 489.70,637.34 505.00,669.95" fill="none" stroke="#111" stroke-width="1.35" stroke-linejoin="round" />
<circle cx="443.70" cy="590.60" r="1.45" fill="#111"/>
<circle cx="459.00" cy="596.69" r="1.45" fill="#111"/>
<circle cx="474.60" cy="601.47" r="1.45" fill="#111"/>
<circle cx="489.70" cy="637.34" r="1.45" fill="#111"/>
<circle cx="505.00" cy="669.95" r="1.45" fill="#111"/>
<polyline points="443.70,561.00 443.70,558.80 459.00,558.80 459.00,561.00" fill="none" stroke="#111" stroke-width="1.1" stroke-linejoin="round" />
<circle cx="450.80" cy="556.70" r="1.2" fill="#111"/>
<polyline points="443.70,568.20 443.70,566.00 474.60,566.00 474.60,568.20" fill="none" stroke="#111" stroke-width="1.1" stroke-linejoin="round" />
<circle cx="450.80" cy="563.90" r="1.2" fill="#111"/>
<polyline points="443.70,576.00 443.70,573.80 489.70,573.80 489.70,576.00" fill="none" stroke="#111" stroke-width="1.1" stroke-linejoin="round" />
<circle cx="450.80" cy="571.70" r="1.2" fill="#111"/>
<polyline points="443.70,583.50 443.70,581.30 505.00,581.30 505.00,583.50" fill="none" stroke="#111" stroke-width="1.1" stroke-linejoin="round" />
<circle cx="450.80" cy="579.20" r="1.2" fill="#111"/>
<circle cx="441.40" cy="690.00" r="1.2" fill="#111"/>
<text transform="translate(446.80,696.20)" font-size="8.2" text-anchor="start" font-weight="normal" fill="#1a1a1a" >P&lt;0.01</text>
<defs><filter id="bl3" x="-30%" y="-30%" width="160%" height="160%"><feGaussianBlur stdDeviation="2.2"/></filter></defs>
<line x1="34.60" y1="343.90" x2="34.60" y2="224.00" stroke="#111" stroke-width="1.25" stroke-linecap="butt"/>
<line x1="34.00" y1="343.30" x2="158.00" y2="343.30" stroke="#111" stroke-width="1.25" stroke-linecap="butt"/>
<polygon points="34.6,219 31.700000000000003,225.8 37.5,225.8" fill="#111"/>
<polygon points="163,343.3 156.2,340.40000000000003 156.2,346.2" fill="#111"/>
<g filter="url(#bl3)" opacity="0.5"><ellipse cx="73" cy="267.8" rx="7" ry="3.6" fill="#666"/><path d="M80,271 L92,277.5 L103,285 L112,294 L120,299 L127,298" fill="none" stroke="#888" stroke-width="5"/><path d="M92,260.5 L106,259 L119,259.5 L128,265 L133,276 L134,288" fill="none" stroke="#aaa" stroke-width="3"/></g>
<path d="M80.6,274.0h.7M73.8,264.0h.7M120.6,262.4h.7M131.8,264.5h.7M105.9,288.4h.7M96.8,278.0h.7M124.2,262.8h.7M123.7,296.9h.7M99.9,291.2h.7M133.9,288.1h.7M91.2,262.4h.7M91.7,253.0h.7M129.6,259.8h.7M114.0,297.3h.7M92.8,261.8h.7M122.2,261.0h.7M94.8,276.6h.7M83.3,273.2h.7M78.8,265.0h.7M115.9,293.9h.7M136.1,289.3h.7M121.5,298.4h.7M108.3,258.3h.7M80.3,265.9h.7M82.9,257.4h.7M133.2,271.6h.7M119.0,259.4h.7M80.3,264.0h.7M118.7,296.3h.7M110.8,260.9h.7M104.0,284.6h.7M107.4,288.0h.7M131.5,281.0h.7M69.3,266.0h.7M119.0,260.0h.7M133.4,286.3h.7M75.0,267.6h.7M138.6,278.5h.7M92.6,275.3h.7M89.4,274.4h.7M114.9,251.5h.7M104.1,283.5h.7M132.1,298.7h.7M105.0,287.9h.7M93.8,261.1h.7M112.5,260.8h.7M129.0,268.2h.7M81.2,270.3h.7M91.8,256.1h.7M115.8,296.8h.7M76.4,272.5h.7M122.1,300.8h.7M77.5,265.7h.7M127.7,298.6h.7M127.1,266.3h.7M131.1,278.4h.7M106.2,287.5h.7M118.3,295.2h.7M127.6,295.6h.7M76.6,271.8h.7M102.1,284.2h.7M126.7,259.3h.7M78.5,268.9h.7M99.4,279.5h.7M99.4,281.4h.7M111.2,255.8h.7M117.8,259.0h.7M114.4,257.9h.7M90.2,260.2h.7M95.3,278.5h.7M85.7,264.0h.7M97.1,261.6h.7M92.0,274.9h.7M136.8,286.6h.7M94.7,282.1h.7M122.2,260.9h.7M82.8,261.5h.7M115.6,247.0h.7M101.9,284.5h.7M92.8,260.7h.7M89.9,261.6h.7M122.9,260.6h.7M110.2,289.1h.7M120.1,300.7h.7M131.2,279.6h.7M82.2,273.4h.7M126.9,261.5h.7M117.1,257.7h.7M77.7,266.4h.7M117.0,295.0h.7M89.3,262.8h.7M90.0,276.8h.7M92.8,277.1h.7M92.7,282.7h.7M79.9,273.5h.7M105.7,260.3h.7M93.1,279.0h.7M82.3,271.7h.7M78.2,269.3h.7M133.1,272.7h.7M116.5,296.0h.7M129.9,296.6h.7M118.0,300.2h.7M77.4,265.9h.7M125.3,260.1h.7M85.2,272.3h.7M115.0,293.8h.7M72.6,266.5h.7M112.8,260.7h.7M118.8,261.1h.7M127.1,298.4h.7M131.3,289.5h.7M85.0,256.7h.7M90.0,262.5h.7M120.9,297.7h.7M97.8,256.3h.7M102.3,284.7h.7M99.3,280.5h.7M81.0,273.7h.7M130.8,273.1h.7M132.4,275.8h.7M80.3,263.4h.7M106.6,285.7h.7M118.0,261.5h.7M114.1,293.6h.7M101.8,293.8h.7M81.0,271.5h.7M126.1,297.3h.7M105.0,260.5h.7M134.5,293.8h.7M122.6,297.2h.7M99.1,282.0h.7M133.7,300.6h.7M141.7,286.2h.7M135.2,291.0h.7M124.0,299.5h.7M133.6,276.7h.7M77.5,281.0h.7M83.3,271.4h.7M107.4,257.0h.7M111.0,290.7h.7M79.8,262.6h.7M122.2,299.1h.7M108.0,289.8h.7M124.8,297.6h.7M132.7,274.8h.7M131.2,299.7h.7M127.9,296.8h.7M83.9,264.4h.7M80.2,262.8h.7M77.3,264.3h.7M106.7,289.3h.7M116.7,294.3h.7M123.5,299.6h.7M130.6,274.4h.7M114.9,296.5h.7M72.8,264.3h.7M90.0,275.3h.7M85.2,275.2h.7M136.5,283.2h.7M128.9,267.3h.7M127.1,295.7h.7M86.3,272.8h.7M133.3,293.6h.7M88.7,284.7h.7M137.4,279.3h.7M116.6,299.4h.7M106.7,291.3h.7M114.8,259.3h.7M98.2,289.5h.7M84.3,263.8h.7M80.7,271.4h.7M119.2,262.2h.7M133.5,274.8h.7M95.5,261.5h.7M131.0,291.9h.7M123.4,297.2h.7M94.1,276.8h.7M74.5,272.3h.7M123.7,298.3h.7M108.6,257.2h.7M117.6,295.1h.7M94.5,278.1h.7M123.1,297.0h.7M80.3,265.2h.7M113.8,258.9h.7M108.2,260.5h.7M133.2,271.5h.7M105.5,287.1h.7M110.0,293.9h.7M124.2,299.8h.7M127.1,298.4h.7M78.2,270.0h.7M131.5,289.8h.7M107.5,259.1h.7M95.0,254.3h.7M81.0,270.9h.7M124.6,297.5h.7M127.7,263.3h.7M123.7,297.0h.7M135.4,277.8h.7M76.3,268.4h.7M94.1,258.0h.7M118.0,258.2h.7M130.8,276.1h.7M128.7,265.9h.7M116.3,252.6h.7M123.5,263.7h.7M106.9,286.5h.7M83.5,272.3h.7M142.4,279.7h.7M121.2,297.7h.7M80.6,265.8h.7M120.0,296.6h.7M78.7,265.5h.7M76.1,269.5h.7M89.5,280.9h.7M126.0,265.8h.7M102.1,286.4h.7M81.9,262.9h.7M122.1,297.9h.7M88.1,259.4h.7M78.7,270.5h.7M85.3,277.9h.7M130.5,293.8h.7M77.2,265.1h.7M79.4,269.7h.7M116.0,301.1h.7M94.8,255.4h.7M77.9,270.2h.7M75.0,265.4h.7M92.1,262.2h.7M89.4,262.9h.7M81.8,265.2h.7M108.0,252.2h.7M131.0,275.1h.7M109.9,289.5h.7M114.6,296.0h.7M96.7,280.4h.7M98.5,278.7h.7M103.0,291.9h.7M112.6,294.5h.7M79.4,271.4h.7M81.0,270.8h.7M123.6,296.9h.7M82.3,261.7h.7M134.5,286.4h.7M82.6,264.5h.7M132.0,282.4h.7M77.9,268.1h.7M128.2,259.1h.7M114.8,293.6h.7M100.8,257.1h.7M119.9,255.1h.7M88.6,263.2h.7M77.5,269.3h.7M83.4,275.9h.7M83.2,276.1h.7M131.9,277.0h.7M104.7,286.0h.7M76.2,271.1h.7M102.4,255.5h.7M125.7,265.3h.7M131.9,293.4h.7M86.9,260.8h.7M130.4,271.0h.7M97.5,261.2h.7M99.4,284.5h.7M106.6,285.2h.7M104.4,283.7h.7M76.9,266.8h.7M89.0,259.8h.7M93.1,278.1h.7M109.6,288.5h.7M79.0,264.8h.7M100.2,280.7h.7M120.3,260.6h.7M124.0,299.0h.7M105.1,286.2h.7M107.4,291.8h.7M117.7,259.2h.7M119.7,260.3h.7M129.3,293.3h.7M81.3,270.8h.7M119.8,297.1h.7M129.0,271.3h.7M82.6,258.0h.7M82.7,264.1h.7M92.9,275.4h.7M117.6,295.5h.7M133.6,291.0h.7M121.5,262.4h.7M78.5,270.0h.7M103.9,282.8h.7M121.8,262.3h.7M130.7,272.6h.7M94.6,261.1h.7M126.1,300.3h.7M95.4,259.9h.7M113.1,291.6h.7M80.2,272.0h.7M93.2,279.1h.7M121.6,296.9h.7M108.1,258.6h.7M113.3,295.4h.7M95.0,278.8h.7M116.2,259.1h.7M103.9,260.2h.7M126.9,266.7h.7M110.7,289.7h.7M77.0,270.8h.7M116.0,257.5h.7M126.9,298.2h.7M104.6,260.9h.7M99.6,252.3h.7M100.6,289.9h.7M131.0,288.9h.7M119.7,297.9h.7M81.4,265.4h.7M100.2,281.5h.7M117.7,261.3h.7M92.0,261.3h.7M89.1,262.9h.7M88.1,263.4h.7M88.9,273.8h.7M100.6,280.7h.7M79.2,269.8h.7M111.0,289.5h.7M130.6,292.9h.7M107.6,287.3h.7M119.1,260.0h.7M88.7,259.7h.7M84.5,273.0h.7M90.9,276.6h.7M138.4,284.0h.7M115.3,258.0h.7M96.6,261.2h.7M78.9,269.0h.7M130.7,273.2h.7M116.5,298.9h.7M112.5,291.4h.7M119.5,261.2h.7M74.0,270.0h.7M71.1,285.4h.7M123.9,297.4h.7M86.6,275.7h.7M101.4,281.3h.7M78.8,272.3h.7M123.5,297.0h.7M136.7,272.7h.7M97.4,254.2h.7M90.1,258.1h.7M87.0,280.0h.7M80.7,271.1h.7M131.5,290.7h.7M139.1,285.1h.7M130.5,271.5h.7M84.7,263.0h.7M132.0,279.2h.7M77.4,270.1h.7M79.3,265.7h.7M94.3,260.3h.7M118.0,297.3h.7M78.6,270.3h.7M116.8,260.4h.7M130.4,273.1h.7M89.9,275.5h.7M80.3,270.6h.7M125.2,259.8h.7M97.4,284.7h.7M105.2,295.3h.7M134.1,294.1h.7M127.1,261.6h.7M81.1,265.4h.7M86.7,263.6h.7M131.3,295.1h.7M83.3,273.1h.7M108.0,260.0h.7M82.0,263.3h.7M122.9,296.9h.7M131.0,292.9h.7M89.4,288.0h.7M115.6,294.5h.7M104.4,289.5h.7M132.7,297.2h.7M91.5,277.8h.7M87.6,276.2h.7M76.3,265.1h.7M131.3,277.3h.7M74.8,263.8h.7M85.6,272.5h.7M79.2,274.5h.7M111.4,293.8h.7M92.7,279.5h.7M124.7,298.4h.7M103.2,261.1h.7M78.5,266.6h.7M114.4,260.5h.7M95.8,277.2h.7M101.7,261.1h.7M127.8,302.9h.7M103.6,283.0h.7M108.3,287.9h.7M111.4,294.6h.7M133.3,268.0h.7M116.5,296.5h.7M122.1,262.6h.7M123.2,297.4h.7M101.0,258.4h.7M110.4,291.7h.7M113.7,256.0h.7M78.1,268.2h.7M99.8,260.0h.7M81.6,262.9h.7M118.3,296.4h.7M105.9,287.6h.7M88.0,262.1h.7M105.2,286.7h.7M81.1,260.9h.7M121.9,296.7h.7M134.3,273.6h.7M112.3,259.5h.7M103.3,283.4h.7M129.4,264.0h.7M91.6,274.9h.7M108.2,255.7h.7M78.4,266.5h.7M74.9,268.9h.7M106.4,292.5h.7M78.7,264.7h.7M100.7,281.1h.7M100.1,260.7h.7M100.8,260.0h.7M86.4,263.7h.7M90.1,274.8h.7M91.7,258.7h.7M125.2,262.4h.7M121.5,301.9h.7M119.7,259.9h.7M83.8,264.2h.7M77.7,268.1h.7M77.8,265.5h.7M81.0,271.8h.7M131.0,289.1h.7M120.4,303.9h.7M102.0,281.8h.7M94.6,260.5h.7M114.7,295.7h.7M124.7,263.4h.7M86.4,257.3h.7M127.9,266.9h.7M106.3,290.1h.7M115.0,261.1h.7M75.4,273.5h.7M120.8,299.0h.7M125.8,261.6h.7M118.3,297.6h.7M122.8,296.8h.7M87.5,261.7h.7M129.7,271.2h.7M117.9,298.6h.7M72.7,272.7h.7M97.3,287.8h.7M125.2,298.4h.7M94.5,257.7h.7M82.0,272.5h.7M131.0,274.9h.7M92.7,254.4h.7M108.1,260.2h.7M121.7,303.2h.7M106.2,293.8h.7M130.7,293.3h.7M78.3,270.5h.7M72.9,272.9h.7M129.0,296.3h.7M126.7,302.0h.7M102.4,284.5h.7M91.2,261.2h.7M121.6,260.0h.7M78.0,267.5h.7M92.3,261.6h.7M124.2,304.0h.7M108.8,260.1h.7M116.9,258.8h.7M106.0,257.4h.7M134.0,289.9h.7M134.1,268.1h.7M80.1,265.7h.7M134.9,295.4h.7M88.5,263.1h.7M83.5,259.6h.7M112.9,303.5h.7M121.0,263.1h.7M112.5,294.7h.7M87.2,273.4h.7M137.9,288.1h.7M108.6,291.9h.7M129.8,271.0h.7M87.2,273.2h.7M76.4,267.1h.7M98.2,260.9h.7M87.1,273.4h.7M79.6,264.2h.7M128.2,296.1h.7M110.6,293.3h.7M93.5,262.1h.7M127.7,268.8h.7M120.2,262.0h.7M87.7,274.4h.7M80.5,271.4h.7M90.4,262.3h.7M133.5,288.3h.7M134.3,291.1h.7M84.1,276.8h.7M113.1,293.0h.7M130.3,297.2h.7M115.2,259.8h.7M78.1,267.7h.7M107.2,292.9h.7M130.8,276.3h.7M106.3,288.8h.7M89.1,262.5h.7M139.0,287.0h.7M96.0,261.4h.7M89.4,274.1h.7M113.9,261.0h.7M115.5,298.1h.7M78.2,269.9h.7M110.9,260.6h.7M130.5,271.5h.7M116.1,296.0h.7M98.0,279.4h.7M114.0,300.3h.7M111.9,290.9h.7M97.1,278.1h.7M84.7,263.8h.7M89.5,261.9h.7M82.4,261.9h.7M127.9,266.0h.7M133.9,284.3h.7M124.5,297.9h.7M76.8,268.8h.7M124.4,301.1h.7M75.3,262.8h.7M112.0,260.8h.7M111.7,297.6h.7M100.4,281.6h.7M108.1,291.3h.7M132.3,289.0h.7M79.4,261.4h.7M125.7,265.5h.7M144.7,287.8h.7M101.6,284.2h.7M113.1,255.8h.7M126.1,296.8h.7M133.3,284.0h.7M124.1,259.9h.7M88.7,274.5h.7M113.7,292.8h.7M90.6,259.3h.7M77.0,275.6h.7M133.1,273.5h.7M128.4,268.3h.7M81.8,263.8h.7M90.5,276.5h.7M82.7,264.4h.7M91.2,281.1h.7M80.4,265.7h.7M128.0,295.9h.7M138.8,283.2h.7M132.7,284.0h.7M91.6,281.3h.7M109.7,302.3h.7M96.6,286.8h.7M132.8,283.0h.7M123.3,302.2h.7M81.1,265.5h.7M82.5,260.8h.7M112.7,260.6h.7M132.9,281.6h.7M105.3,255.4h.7M115.2,293.4h.7M110.2,290.9h.7M127.4,261.7h.7M132.8,290.2h.7M80.9,278.2h.7M131.2,269.8h.7M75.7,264.1h.7M104.3,283.8h.7M108.0,292.3h.7M76.7,259.2h.7M128.8,269.6h.7M70.5,272.8h.7M78.7,270.1h.7M128.2,301.8h.7M88.0,260.1h.7M81.3,274.6h.7M128.4,264.5h.7M101.0,254.7h.7M79.3,264.5h.7M133.0,286.6h.7M125.0,297.6h.7M79.6,269.8h.7M132.1,289.2h.7M121.8,263.5h.7M128.2,299.1h.7M118.7,261.2h.7M97.9,261.1h.7M87.1,276.6h.7M90.2,261.5h.7M103.7,285.7h.7M99.1,285.0h.7M91.5,278.6h.7M85.3,274.7h.7M117.8,294.9h.7M131.7,282.0h.7M97.1,281.7h.7M70.8,265.6h.7M129.3,271.3h.7M130.4,269.9h.7M132.3,279.4h.7M89.2,263.0h.7M81.3,263.4h.7M76.9,264.6h.7M131.4,270.9h.7M113.4,292.0h.7M77.6,269.5h.7M83.8,275.6h.7M92.6,261.6h.7M103.3,260.1h.7M83.9,274.4h.7M82.7,262.2h.7M116.6,250.9h.7M73.4,268.8h.7M78.7,264.8h.7M98.3,261.2h.7M87.4,276.1h.7M129.3,266.7h.7M108.0,295.4h.7M127.6,295.3h.7M131.2,273.6h.7M112.5,260.2h.7M130.2,296.6h.7M109.4,257.6h.7M123.2,296.8h.7M131.9,277.7h.7M119.6,254.6h.7M122.0,297.4h.7M79.4,264.6h.7M135.8,249.1h.7M79.8,264.4h.7M125.5,263.2h.7M82.2,271.7h.7M130.6,293.3h.7M102.0,288.5h.7M100.3,281.0h.7M133.3,264.5h.7M96.0,278.1h.7M117.7,257.3h.7M89.5,277.3h.7M95.1,277.7h.7M81.8,262.9h.7M130.4,294.0h.7M130.4,294.1h.7M129.2,299.5h.7M109.7,290.6h.7M136.0,286.2h.7M131.9,292.2h.7M117.6,295.2h.7M114.7,260.9h.7M107.7,287.8h.7M115.7,294.6h.7M80.3,274.6h.7M126.8,297.6h.7M113.5,257.9h.7M135.2,285.5h.7M132.8,275.4h.7M93.0,259.9h.7M88.1,278.2h.7M109.9,290.3h.7M95.7,288.5h.7M113.2,292.4h.7M132.3,280.3h.7M138.8,294.7h.7M117.3,299.4h.7M120.4,262.8h.7M105.6,292.6h.7M79.6,272.2h.7M77.9,272.3h.7M82.6,273.1h.7M123.2,297.3h.7M124.3,259.1h.7M131.2,277.3h.7M103.2,282.6h.7M77.3,265.7h.7M122.7,302.2h.7M76.0,276.8h.7M86.0,262.8h.7M123.9,297.0h.7M108.9,256.5h.7M95.6,257.7h.7M78.7,266.5h.7M91.5,282.3h.7M133.8,291.5h.7M133.4,294.4h.7M119.8,296.9h.7M107.7,260.5h.7M126.5,263.7h.7M127.2,295.6h.7M134.1,301.8h.7M100.6,258.4h.7M121.3,296.7h.7M104.8,284.0h.7M101.6,282.1h.7M123.2,298.7h.7M105.1,260.4h.7M112.6,291.9h.7M74.8,261.1h.7M119.4,260.6h.7M98.5,261.6h.7M92.2,276.6h.7M115.6,293.9h.7M127.5,263.9h.7M110.3,259.1h.7M125.2,262.3h.7M89.3,275.0h.7M75.9,272.1h.7M102.2,286.6h.7M74.2,278.7h.7M103.0,261.1h.7M83.4,263.9h.7M96.7,277.6h.7M108.2,287.4h.7M105.9,284.7h.7M121.2,298.3h.7M80.6,265.0h.7M121.8,262.9h.7M115.7,252.9h.7M133.1,271.1h.7M96.9,284.6h.7M131.4,288.4h.7M87.9,262.5h.7M100.9,258.8h.7M117.4,297.0h.7M126.8,264.8h.7M131.0,292.5h.7M132.5,289.2h.7M91.5,277.9h.7M123.1,299.3h.7M133.0,284.4h.7M92.8,261.7h.7M115.3,293.6h.7M78.7,269.1h.7M98.1,278.9h.7M109.2,260.8h.7M101.7,260.9h.7M131.4,287.9h.7M126.1,300.6h.7M133.3,276.6h.7M135.1,264.0h.7M85.3,259.7h.7M139.6,293.4h.7M133.6,274.7h.7M80.3,260.9h.7M73.0,261.9h.7M104.3,285.3h.7M80.0,271.7h.7M107.5,290.3h.7M78.8,262.4h.7M130.6,271.6h.7M79.2,263.7h.7M105.3,285.8h.7M108.5,287.2h.7M74.1,270.8h.7M78.0,276.4h.7M128.6,267.9h.7M130.4,292.4h.7M104.5,284.2h.7M129.3,293.5h.7M90.4,277.0h.7M133.5,287.3h.7M108.9,296.1h.7M102.0,288.9h.7M129.3,269.8h.7M131.8,283.4h.7M85.4,263.3h.7M121.8,302.6h.7M113.7,296.6h.7M81.8,272.0h.7M120.2,298.8h.7M120.9,306.2h.7M110.5,294.8h.7M116.4,300.3h.7M100.2,260.1h.7M114.8,293.0h.7M84.9,261.2h.7M125.4,262.4h.7M100.8,261.0h.7M77.9,269.5h.7M88.7,261.4h.7M119.5,306.0h.7M89.0,262.9h.7M84.0,272.5h.7M112.2,298.9h.7M121.2,296.7h.7M78.5,271.8h.7M78.4,265.7h.7M92.8,254.7h.7M129.6,271.0h.7M73.7,268.5h.7M90.9,254.4h.7M100.8,258.7h.7M126.8,299.4h.7M130.3,271.5h.7M97.0,280.9h.7M110.8,289.7h.7M83.3,276.1h.7M116.2,298.0h.7M87.5,262.3h.7M103.5,257.9h.7M139.5,282.8h.7M106.5,285.4h.7M99.0,281.7h.7M105.8,285.1h.7M92.8,280.1h.7M130.8,293.5h.7M132.3,267.6h.7M96.9,282.5h.7M74.8,275.9h.7M119.8,300.4h.7M80.3,272.9h.7M134.2,285.8h.7M100.7,258.4h.7M85.6,262.8h.7M76.1,264.7h.7M136.8,271.6h.7M130.2,300.7h.7M80.0,270.0h.7M75.5,262.2h.7M81.8,265.1h.7M119.5,296.9h.7M98.0,278.4h.7M85.1,260.7h.7M136.4,282.8h.7M113.0,260.9h.7M113.9,295.8h.7M138.0,297.3h.7M119.8,262.5h.7M117.8,297.3h.7M78.1,268.0h.7M97.3,261.2h.7M94.0,280.1h.7M74.1,274.6h.7M124.3,257.8h.7M101.6,282.1h.7M88.1,260.8h.7M77.1,259.1h.7M108.6,287.7h.7M88.2,276.5h.7M78.7,269.7h.7M82.5,262.6h.7M136.1,284.0h.7M133.7,284.0h.7M130.9,295.7h.7M123.1,297.0h.7M77.4,268.8h.7M69.3,268.4h.7M118.7,260.0h.7M131.1,291.9h.7M124.7,263.8h.7M80.1,263.8h.7M79.1,258.3h.7M111.6,296.2h.7M132.0,268.3h.7M74.2,265.9h.7M111.7,290.4h.7M109.3,288.2h.7M85.0,272.8h.7M96.9,280.5h.7M126.2,266.6h.7M131.1,299.1h.7M83.0,271.4h.7M113.7,297.7h.7M117.2,256.1h.7M102.5,259.7h.7M76.8,268.9h.7M82.2,259.3h.7M77.9,273.4h.7M79.7,265.9h.7M125.0,297.7h.7M129.2,295.9h.7M129.4,266.8h.7M95.7,260.4h.7M106.7,286.4h.7M81.5,265.2h.7M133.4,286.9h.7M90.1,262.4h.7M124.3,262.3h.7M132.6,283.1h.7M87.6,262.4h.7M107.9,258.7h.7M133.8,279.6h.7M134.2,284.7h.7M75.9,259.0h.7M83.5,281.6h.7M77.6,265.8h.7M84.8,277.5h.7M78.1,267.6h.7M84.0,263.7h.7M101.1,258.8h.7M133.6,288.8h.7M109.3,259.8h.7M80.5,262.5h.7M131.3,297.8h.7M113.6,295.5h.7M121.3,297.5h.7M75.4,265.6h.7M99.1,280.9h.7M126.0,264.9h.7M135.2,293.7h.7M75.5,267.5h.7M126.6,265.1h.7M132.5,262.6h.7M85.0,259.4h.7M111.4,291.0h.7M138.1,288.3h.7M114.9,252.5h.7M91.4,261.6h.7M119.1,261.4h.7M81.5,264.7h.7M131.3,294.9h.7M122.4,263.3h.7M119.3,300.5h.7M129.4,267.8h.7M119.2,262.3h.7M96.5,281.5h.7M86.4,261.7h.7M127.4,296.7h.7M115.5,294.0h.7M107.0,285.8h.7M94.0,283.5h.7M85.5,274.6h.7M103.1,285.5h.7M84.8,261.4h.7M101.0,281.1h.7M122.0,302.3h.7M129.9,297.7h.7M127.2,298.7h.7M111.8,259.5h.7M89.1,279.4h.7M124.1,259.6h.7M111.8,256.9h.7M100.4,258.4h.7M83.1,262.5h.7M85.9,262.9h.7M116.2,297.3h.7M132.1,281.2h.7M116.8,298.0h.7M116.3,260.3h.7M101.0,281.3h.7M133.5,294.0h.7M93.3,261.6h.7M75.4,262.9h.7M102.9,256.9h.7M118.9,261.3h.7M81.0,265.0h.7M129.2,297.6h.7M77.5,267.8h.7M110.8,292.7h.7M132.4,278.0h.7M80.1,270.1h.7M121.2,259.9h.7M89.6,275.6h.7M132.0,275.3h.7M126.8,264.1h.7M96.8,261.5h.7M79.8,271.0h.7M110.4,289.7h.7M122.8,303.2h.7M91.4,277.4h.7M102.6,288.4h.7M116.8,294.4h.7M129.3,296.4h.7M87.9,263.3h.7M79.8,274.5h.7M121.6,297.3h.7M74.8,266.0h.7M129.4,271.1h.7M124.7,265.0h.7M91.3,261.1h.7M120.7,299.7h.7M122.5,296.9h.7M127.9,297.3h.7M133.2,288.4h.7M86.6,274.2h.7M134.7,285.0h.7M83.4,271.7h.7M85.4,276.9h.7M82.6,264.4h.7M133.4,292.7h.7M68.4,273.6h.7M74.1,266.4h.7M72.8,275.8h.7M67.4,268.9h.7M72.4,271.0h.7M68.4,265.4h.7M68.1,267.9h.7M67.7,268.3h.7M61.0,266.9h.7M70.4,268.9h.7M68.9,264.9h.7M74.5,268.6h.7M72.3,257.4h.7M68.7,274.1h.7M80.5,262.2h.7M78.1,269.2h.7M76.2,267.7h.7M83.6,275.2h.7M75.4,268.0h.7M80.7,253.5h.7M63.4,271.7h.7M79.0,262.7h.7M69.2,263.7h.7M85.8,275.2h.7M71.9,271.8h.7M74.1,260.5h.7M71.4,269.2h.7M75.0,273.2h.7M82.3,272.0h.7M71.7,266.3h.7M71.2,263.0h.7M71.7,271.3h.7M64.9,273.8h.7M81.3,273.5h.7M73.6,263.6h.7M69.4,267.8h.7M79.2,273.0h.7M77.8,270.6h.7M64.2,263.6h.7M67.9,268.9h.7M79.7,263.2h.7M75.6,260.5h.7M75.8,261.5h.7M73.9,268.3h.7M71.8,267.0h.7M83.4,274.3h.7M75.3,263.8h.7M65.1,264.8h.7M71.1,272.7h.7M90.5,261.0h.7M78.3,272.4h.7M80.7,262.8h.7M77.8,266.5h.7M66.8,267.8h.7M61.9,277.7h.7M68.6,272.6h.7M75.6,262.7h.7M76.1,274.7h.7M73.7,277.7h.7M66.3,270.8h.7M71.6,266.9h.7M86.7,259.5h.7M79.1,257.7h.7M68.2,266.5h.7M78.3,271.1h.7M72.7,268.4h.7M63.9,268.5h.7M67.2,273.1h.7M68.0,265.2h.7M77.5,270.1h.7M83.0,264.4h.7M71.8,269.9h.7M73.7,270.4h.7M69.5,268.8h.7M84.0,278.9h.7M78.4,273.3h.7M77.6,270.1h.7M71.7,267.2h.7M81.8,262.1h.7M77.6,262.1h.7M64.9,274.2h.7M82.1,276.2h.7M79.7,277.2h.7M74.2,268.6h.7M68.5,268.6h.7M75.1,266.4h.7M74.3,273.6h.7M61.8,269.6h.7M63.5,261.5h.7M64.6,271.4h.7M75.0,266.4h.7M69.7,263.2h.7M82.7,262.4h.7M73.1,266.9h.7M69.6,271.7h.7M65.1,270.6h.7M74.5,266.6h.7M76.2,266.7h.7M72.8,263.2h.7M72.1,264.6h.7M72.6,270.2h.7M67.9,267.8h.7M67.7,273.1h.7M72.4,265.0h.7M62.0,260.6h.7M74.0,268.6h.7M65.0,264.1h.7M66.6,268.6h.7M65.3,274.0h.7M73.6,264.9h.7M70.0,258.6h.7M73.7,265.7h.7M66.0,270.4h.7M77.1,265.7h.7M80.2,270.0h.7M73.2,270.2h.7M79.2,272.9h.7M77.6,267.4h.7M77.3,272.1h.7M77.9,269.9h.7M74.9,272.2h.7M79.9,263.0h.7M62.3,264.3h.7M62.5,265.7h.7M70.0,261.1h.7M68.0,264.7h.7M78.5,266.3h.7M66.3,269.4h.7M82.7,257.8h.7M77.9,266.4h.7M65.0,262.8h.7M76.2,269.2h.7M73.9,264.1h.7M60.8,277.5h.7M83.2,272.0h.7M82.3,273.2h.7M66.0,260.6h.7M68.3,264.1h.7M71.6,265.2h.7M72.1,264.2h.7M81.2,272.1h.7M76.3,264.8h.7M69.9,275.8h.7M74.1,273.1h.7M70.1,264.8h.7M62.2,268.2h.7M79.0,274.6h.7M80.3,264.8h.7M59.3,261.0h.7M68.5,268.2h.7M79.5,272.0h.7M63.1,274.8h.7M78.2,266.3h.7M64.4,272.1h.7M73.3,266.8h.7M70.5,274.3h.7M81.0,273.9h.7M75.6,261.8h.7M77.8,266.6h.7M67.8,264.8h.7M77.2,275.9h.7M70.1,265.7h.7M78.3,262.4h.7M65.3,267.6h.7M74.8,260.4h.7M69.5,265.9h.7M82.8,274.8h.7M72.3,272.0h.7M68.3,272.5h.7M72.1,274.6h.7M70.6,269.7h.7M79.2,269.6h.7M70.1,275.1h.7M62.8,265.5h.7M78.8,272.9h.7M68.0,270.1h.7M80.1,264.0h.7M72.5,265.9h.7M79.5,270.2h.7M85.2,274.3h.7M78.9,264.4h.7M64.2,263.5h.7M70.8,267.5h.7M72.9,269.1h.7M70.8,266.0h.7M71.2,264.6h.7M78.7,272.7h.7M73.0,279.8h.7M70.4,270.3h.7M69.1,270.9h.7M69.3,275.6h.7M73.4,267.8h.7M62.3,267.6h.7M63.6,274.5h.7M71.9,268.8h.7M66.9,267.4h.7M67.5,269.0h.7M72.4,271.4h.7M71.5,268.5h.7M61.3,264.8h.7M66.1,265.2h.7M63.8,254.7h.7M69.3,263.6h.7M63.5,264.9h.7M73.5,266.9h.7M79.9,274.2h.7M77.3,262.5h.7M74.6,269.2h.7M72.0,267.3h.7M67.4,270.6h.7M67.2,275.1h.7M72.8,267.1h.7M70.6,262.2h.7M61.3,266.1h.7M64.7,260.3h.7M78.1,271.9h.7M68.2,264.9h.7M73.0,266.8h.7M76.2,268.3h.7M67.3,261.6h.7M60.6,263.5h.7M88.7,275.1h.7M88.5,276.6h.7M108.3,288.2h.7M84.4,280.0h.7M79.7,270.9h.7M87.4,275.6h.7M93.8,278.3h.7M93.3,280.6h.7M84.6,276.1h.7M86.8,275.8h.7M91.8,276.3h.7M72.8,266.6h.7M99.6,279.9h.7M78.0,280.9h.7M93.4,286.7h.7M99.3,290.1h.7M102.0,289.2h.7M84.2,277.7h.7M83.9,276.4h.7M83.0,280.7h.7M93.1,279.7h.7M88.1,275.7h.7M99.9,284.5h.7M102.9,290.3h.7M99.4,282.1h.7M100.8,288.9h.7M92.4,286.1h.7M104.9,290.1h.7M101.8,288.7h.7M90.6,279.8h.7M83.7,274.6h.7M83.6,275.5h.7M82.1,277.3h.7M96.3,282.7h.7M93.5,278.4h.7M98.4,286.5h.7M91.1,280.1h.7M87.8,284.4h.7M103.6,286.9h.7M87.6,278.2h.7M95.8,279.2h.7M77.7,272.6h.7M86.0,275.5h.7M98.0,282.1h.7M80.7,278.8h.7M105.8,284.8h.7M84.0,281.2h.7M83.1,273.7h.7M96.2,280.1h.7M73.3,267.4h.7M86.7,278.8h.7M108.6,287.6h.7M94.4,287.0h.7M76.3,270.7h.7M74.1,272.6h.7M102.8,294.9h.7M79.6,277.8h.7M103.7,283.6h.7M105.8,293.1h.7M94.5,279.9h.7M75.3,274.9h.7M109.2,288.2h.7M87.0,274.2h.7M94.8,288.4h.7M88.6,283.5h.7M80.1,270.6h.7M104.2,284.5h.7M88.1,279.6h.7M87.8,288.0h.7M83.4,282.4h.7M127.6,301.1h.7M82.2,281.2h.7M87.6,275.6h.7M87.8,279.3h.7M99.5,286.9h.7M90.1,289.9h.7M91.7,287.5h.7M103.6,294.5h.7M75.3,270.7h.7M75.9,274.1h.7M81.7,283.3h.7M95.9,278.8h.7M84.0,277.6h.7M80.4,275.9h.7M95.8,285.7h.7M103.9,285.0h.7M79.9,275.6h.7M76.4,270.3h.7M85.7,283.1h.7M89.1,288.2h.7M84.9,275.9h.7M86.9,275.4h.7M102.1,295.0h.7M65.0,268.9h.7M89.1,274.8h.7M102.4,289.0h.7M90.2,284.0h.7M86.6,277.3h.7M85.3,276.4h.7M97.5,281.2h.7M84.9,273.8h.7M83.6,274.9h.7M80.7,279.8h.7M88.7,285.4h.7M93.3,277.0h.7M92.4,280.1h.7M79.2,273.0h.7M87.7,276.9h.7M91.1,283.9h.7M97.7,286.0h.7M78.0,267.8h.7M96.6,286.8h.7M101.5,286.3h.7M85.3,279.9h.7M90.6,281.5h.7M86.7,274.6h.7M98.4,282.3h.7M99.9,279.8h.7M89.4,281.2h.7M98.4,283.0h.7M86.8,283.2h.7M101.4,286.8h.7M81.3,270.6h.7M90.0,276.2h.7M107.6,289.1h.7M91.6,279.6h.7M93.3,288.1h.7M80.9,278.4h.7M86.4,281.1h.7M80.5,275.4h.7M89.7,288.7h.7M81.1,279.0h.7M88.4,280.9h.7M86.5,275.0h.7M91.7,276.8h.7M91.6,281.4h.7M91.8,283.5h.7M80.9,270.8h.7M89.9,285.8h.7M100.4,285.1h.7M92.8,281.6h.7M93.7,283.0h.7M98.6,282.2h.7M103.2,282.3h.7M83.4,278.2h.7M88.2,273.9h.7M95.6,280.4h.7M88.1,274.6h.7M75.1,263.8h.7M98.5,296.5h.7M79.2,275.5h.7M90.3,278.0h.7M89.1,273.9h.7M102.7,285.0h.7M89.6,283.7h.7M76.5,279.1h.7M82.4,278.0h.7M84.6,282.5h.7M89.4,277.1h.7M92.8,290.6h.7M77.5,268.7h.7M95.3,283.2h.7M95.7,286.9h.7M104.4,290.7h.7M98.4,280.0h.7M81.9,273.1h.7" stroke="#333" stroke-width="0.7" fill="none" opacity="0.6"/>
<rect x="58.00" y="241.30" width="41.20" height="49.20" fill="none" stroke="#aaaaaa" stroke-width="0.75"/>
<rect x="99.20" y="291.20" width="50.40" height="33.70" fill="none" stroke="#aaaaaa" stroke-width="0.75"/>
<defs><filter id="bl" x="-20%" y="-20%" width="140%" height="140%"><feGaussianBlur stdDeviation="0.7"/></filter><filter id="bl2" x="-20%" y="-20%" width="140%" height="140%"><feGaussianBlur stdDeviation="0.45"/></filter></defs>
<path d="M77.70,267.00 C78.52,266.13 82.00,265.10 84.50,264.30 C87.00,263.50 89.15,262.77 92.70,262.20 C96.25,261.63 101.72,261.05 105.80,260.90 C109.88,260.75 113.93,260.55 117.20,261.30 C120.47,262.05 123.22,263.35 125.40,265.40 C127.58,267.45 129.22,270.47 130.30,273.60 C131.38,276.73 131.90,281.07 131.90,284.20 C131.90,287.33 131.38,290.27 130.30,292.40 C129.22,294.53 127.03,296.32 125.40,297.00 C123.77,297.68 122.42,297.27 120.50,296.50 C118.58,295.73 116.08,294.17 113.90,292.40 C111.72,290.63 109.57,287.95 107.40,285.90 C105.23,283.85 103.35,281.88 100.90,280.10 C98.45,278.32 95.43,276.55 92.70,275.20 C89.97,273.85 86.68,272.95 84.50,272.00 C82.32,271.05 80.73,270.33 79.60,269.50 C78.47,268.67 76.88,267.87 77.70,267.00Z" fill="#0a0a0a" stroke="#0a0a0a" stroke-width="0.9"/>
<clipPath id="clipB"><path d="M77.70,267.00 C78.52,266.13 82.00,265.10 84.50,264.30 C87.00,263.50 89.15,262.77 92.70,262.20 C96.25,261.63 101.72,261.05 105.80,260.90 C109.88,260.75 113.93,260.55 117.20,261.30 C120.47,262.05 123.22,263.35 125.40,265.40 C127.58,267.45 129.22,270.47 130.30,273.60 C131.38,276.73 131.90,281.07 131.90,284.20 C131.90,287.33 131.38,290.27 130.30,292.40 C129.22,294.53 127.03,296.32 125.40,297.00 C123.77,297.68 122.42,297.27 120.50,296.50 C118.58,295.73 116.08,294.17 113.90,292.40 C111.72,290.63 109.57,287.95 107.40,285.90 C105.23,283.85 103.35,281.88 100.90,280.10 C98.45,278.32 95.43,276.55 92.70,275.20 C89.97,273.85 86.68,272.95 84.50,272.00 C82.32,271.05 80.73,270.33 79.60,269.50 C78.47,268.67 76.88,267.87 77.70,267.00Z"/></clipPath>
<g clip-path="url(#clipB)"><g filter="url(#bl)">
<path d="M77.70,267.00 C78.52,266.13 82.00,265.10 84.50,264.30 C87.00,263.50 89.15,262.77 92.70,262.20 C96.25,261.63 101.72,261.05 105.80,260.90 C109.88,260.75 113.93,260.55 117.20,261.30 C120.47,262.05 123.22,263.35 125.40,265.40 C127.58,267.45 129.22,270.47 130.30,273.60 C131.38,276.73 131.90,281.07 131.90,284.20 C131.90,287.33 131.38,290.27 130.30,292.40 C129.22,294.53 127.03,296.32 125.40,297.00 C123.77,297.68 122.42,297.27 120.50,296.50 C118.58,295.73 116.08,294.17 113.90,292.40 C111.72,290.63 109.57,287.95 107.40,285.90 C105.23,283.85 103.35,281.88 100.90,280.10 C98.45,278.32 95.43,276.55 92.70,275.20 C89.97,273.85 86.68,272.95 84.50,272.00 C82.32,271.05 80.73,270.33 79.60,269.50 C78.47,268.67 76.88,267.87 77.70,267.00Z" fill="#e4e4e4"/>
<path d="M77.70,267.00 C78.52,266.13 82.00,265.10 84.50,264.30 C87.00,263.50 89.15,262.77 92.70,262.20 C96.25,261.63 101.72,261.05 105.80,260.90 C109.88,260.75 113.93,260.55 117.20,261.30 C120.47,262.05 123.22,263.35 125.40,265.40 C127.58,267.45 129.22,270.47 130.30,273.60 C131.38,276.73 131.90,281.07 131.90,284.20 C131.90,287.33 131.38,290.27 130.30,292.40 C129.22,294.53 127.03,296.32 125.40,297.00 C123.77,297.68 122.42,297.27 120.50,296.50 C118.58,295.73 116.08,294.17 113.90,292.40 C111.72,290.63 109.57,287.95 107.40,285.90 C105.23,283.85 103.35,281.88 100.90,280.10 C98.45,278.32 95.43,276.55 92.70,275.20 C89.97,273.85 86.68,272.95 84.50,272.00 C82.32,271.05 80.73,270.33 79.60,269.50 C78.47,268.67 76.88,267.87 77.70,267.00Z" fill="none" stroke="#dcdcdc" stroke-width="13" stroke-linejoin="round"/>
<path d="M77.70,267.00 C78.52,266.13 82.00,265.10 84.50,264.30 C87.00,263.50 89.15,262.77 92.70,262.20 C96.25,261.63 101.72,261.05 105.80,260.90 C109.88,260.75 113.93,260.55 117.20,261.30 C120.47,262.05 123.22,263.35 125.40,265.40 C127.58,267.45 129.22,270.47 130.30,273.60 C131.38,276.73 131.90,281.07 131.90,284.20 C131.90,287.33 131.38,290.27 130.30,292.40 C129.22,294.53 127.03,296.32 125.40,297.00 C123.77,297.68 122.42,297.27 120.50,296.50 C118.58,295.73 116.08,294.17 113.90,292.40 C111.72,290.63 109.57,287.95 107.40,285.90 C105.23,283.85 103.35,281.88 100.90,280.10 C98.45,278.32 95.43,276.55 92.70,275.20 C89.97,273.85 86.68,272.95 84.50,272.00 C82.32,271.05 80.73,270.33 79.60,269.50 C78.47,268.67 76.88,267.87 77.70,267.00Z" fill="none" stroke="#c8c8c8" stroke-width="10" stroke-linejoin="round"/>
<path d="M77.70,267.00 C78.52,266.13 82.00,265.10 84.50,264.30 C87.00,263.50 89.15,262.77 92.70,262.20 C96.25,261.63 101.72,261.05 105.80,260.90 C109.88,260.75 113.93,260.55 117.20,261.30 C120.47,262.05 123.22,263.35 125.40,265.40 C127.58,267.45 129.22,270.47 130.30,273.60 C131.38,276.73 131.90,281.07 131.90,284.20 C131.90,287.33 131.38,290.27 130.30,292.40 C129.22,294.53 127.03,296.32 125.40,297.00 C123.77,297.68 122.42,297.27 120.50,296.50 C118.58,295.73 116.08,294.17 113.90,292.40 C111.72,290.63 109.57,287.95 107.40,285.90 C105.23,283.85 103.35,281.88 100.90,280.10 C98.45,278.32 95.43,276.55 92.70,275.20 C89.97,273.85 86.68,272.95 84.50,272.00 C82.32,271.05 80.73,270.33 79.60,269.50 C78.47,268.67 76.88,267.87 77.70,267.00Z" fill="none" stroke="#a8a8a8" stroke-width="7.4" stroke-linejoin="round"/>
<path d="M77.70,267.00 C78.52,266.13 82.00,265.10 84.50,264.30 C87.00,263.50 89.15,262.77 92.70,262.20 C96.25,261.63 101.72,261.05 105.80,260.90 C109.88,260.75 113.93,260.55 117.20,261.30 C120.47,262.05 123.22,263.35 125.40,265.40 C127.58,267.45 129.22,270.47 130.30,273.60 C131.38,276.73 131.90,281.07 131.90,284.20 C131.90,287.33 131.38,290.27 130.30,292.40 C129.22,294.53 127.03,296.32 125.40,297.00 C123.77,297.68 122.42,297.27 120.50,296.50 C118.58,295.73 116.08,294.17 113.90,292.40 C111.72,290.63 109.57,287.95 107.40,285.90 C105.23,283.85 103.35,281.88 100.90,280.10 C98.45,278.32 95.43,276.55 92.70,275.20 C89.97,273.85 86.68,272.95 84.50,272.00 C82.32,271.05 80.73,270.33 79.60,269.50 C78.47,268.67 76.88,267.87 77.70,267.00Z" fill="none" stroke="#707070" stroke-width="5.2" stroke-linejoin="round"/>
</g>
<path d="M77.70,267.00 C78.52,266.13 82.00,265.10 84.50,264.30 C87.00,263.50 89.15,262.77 92.70,262.20 C96.25,261.63 101.72,261.05 105.80,260.90 C109.88,260.75 113.93,260.55 117.20,261.30 C120.47,262.05 123.22,263.35 125.40,265.40 C127.58,267.45 129.22,270.47 130.30,273.60 C131.38,276.73 131.90,281.07 131.90,284.20 C131.90,287.33 131.38,290.27 130.30,292.40 C129.22,294.53 127.03,296.32 125.40,297.00 C123.77,297.68 122.42,297.27 120.50,296.50 C118.58,295.73 116.08,294.17 113.90,292.40 C111.72,290.63 109.57,287.95 107.40,285.90 C105.23,283.85 103.35,281.88 100.90,280.10 C98.45,278.32 95.43,276.55 92.70,275.20 C89.97,273.85 86.68,272.95 84.50,272.00 C82.32,271.05 80.73,270.33 79.60,269.50 C78.47,268.67 76.88,267.87 77.70,267.00Z" fill="none" stroke="#0a0a0a" stroke-width="3.2" stroke-linejoin="round"/>
</g>
<g filter="url(#bl2)">
<path d="M100.60,267.90 C101.33,267.28 103.07,266.85 104.50,266.60 C105.93,266.35 107.65,266.20 109.20,266.40 C110.75,266.60 112.35,267.15 113.80,267.80 C115.25,268.45 116.53,269.13 117.90,270.30 C119.27,271.47 120.72,273.20 122.00,274.80 C123.28,276.40 124.73,278.37 125.60,279.90 C126.47,281.43 126.97,282.72 127.20,284.00 C127.43,285.28 127.32,286.62 127.00,287.60 C126.68,288.58 126.02,289.42 125.30,289.90 C124.58,290.38 123.70,290.55 122.70,290.50 C121.70,290.45 120.42,290.08 119.30,289.60 C118.18,289.12 117.13,288.47 116.00,287.60 C114.87,286.73 113.63,285.53 112.50,284.40 C111.37,283.27 110.32,281.97 109.20,280.80 C108.08,279.63 106.92,278.52 105.80,277.40 C104.68,276.28 103.37,275.00 102.50,274.10 C101.63,273.20 101.00,272.63 100.60,272.00 C100.20,271.37 100.10,270.98 100.10,270.30 C100.10,269.62 99.87,268.52 100.60,267.90Z" fill="#9c9c9c" stroke="#ffffff" stroke-width="1.05"/>
<path d="M104.40,269.80 C105.00,269.40 106.37,268.97 107.50,268.80 C108.63,268.63 109.92,268.43 111.20,268.80 C112.48,269.17 113.93,270.12 115.20,271.00 C116.47,271.88 117.70,272.93 118.80,274.10 C119.90,275.27 120.92,276.72 121.80,278.00 C122.68,279.28 123.53,280.67 124.10,281.80 C124.67,282.93 125.03,283.92 125.20,284.80 C125.37,285.68 125.32,286.47 125.10,287.10 C124.88,287.73 124.38,288.28 123.90,288.60 C123.42,288.92 122.93,289.15 122.20,289.00 C121.47,288.85 120.38,288.25 119.50,287.70 C118.62,287.15 117.82,286.50 116.90,285.70 C115.98,284.90 114.95,283.87 114.00,282.90 C113.05,281.93 112.17,280.93 111.20,279.90 C110.23,278.87 109.17,277.75 108.20,276.70 C107.23,275.65 106.07,274.33 105.40,273.60 C104.73,272.87 104.45,272.70 104.20,272.30 C103.95,271.90 103.87,271.62 103.90,271.20 C103.93,270.78 103.80,270.20 104.40,269.80Z" fill="#858585" stroke="#ffffff" stroke-width="1.05"/>
<path d="M108.80,271.20 C109.25,270.93 110.43,270.70 111.30,270.70 C112.17,270.70 113.05,270.68 114.00,271.20 C114.95,271.72 116.03,272.83 117.00,273.80 C117.97,274.77 119.00,275.97 119.80,277.00 C120.60,278.03 121.23,279.03 121.80,280.00 C122.37,280.97 122.85,282.00 123.20,282.80 C123.55,283.60 123.82,284.25 123.90,284.80 C123.98,285.35 123.87,285.75 123.70,286.10 C123.53,286.45 123.23,286.73 122.90,286.90 C122.57,287.07 122.23,287.30 121.70,287.10 C121.17,286.90 120.33,286.27 119.70,285.70 C119.07,285.13 118.60,284.45 117.90,283.70 C117.20,282.95 116.30,282.08 115.50,281.20 C114.70,280.32 113.85,279.27 113.10,278.40 C112.35,277.53 111.65,276.80 111.00,276.00 C110.35,275.20 109.60,274.22 109.20,273.60 C108.80,272.98 108.67,272.70 108.60,272.30 C108.53,271.90 108.35,271.47 108.80,271.20Z" fill="#a8a8a8" stroke="#ffffff" stroke-width="1.05"/>
<path d="M112.60,273.20 C112.87,272.92 113.63,272.83 114.20,272.90 C114.77,272.97 115.32,273.08 116.00,273.60 C116.68,274.12 117.58,275.12 118.30,276.00 C119.02,276.88 119.75,277.98 120.30,278.90 C120.85,279.82 121.28,280.70 121.60,281.50 C121.92,282.30 122.13,283.15 122.20,283.70 C122.27,284.25 122.15,284.55 122.00,284.80 C121.85,285.05 121.63,285.28 121.30,285.20 C120.97,285.12 120.42,284.70 120.00,284.30 C119.58,283.90 119.33,283.43 118.80,282.80 C118.27,282.17 117.43,281.30 116.80,280.50 C116.17,279.70 115.55,278.72 115.00,278.00 C114.45,277.28 113.90,276.77 113.50,276.20 C113.10,275.63 112.75,275.10 112.60,274.60 C112.45,274.10 112.33,273.48 112.60,273.20Z" fill="#7c7c7c" stroke="#ffffff" stroke-width="0.8"/>
<path d="M115.60,275.60 C115.87,275.50 116.63,275.57 117.20,276.00 C117.77,276.43 118.43,277.37 119.00,278.20 C119.57,279.03 120.27,280.27 120.60,281.00 C120.93,281.73 121.07,282.33 121.00,282.60 C120.93,282.87 120.60,282.90 120.20,282.60 C119.80,282.30 119.17,281.50 118.60,280.80 C118.03,280.10 117.30,279.10 116.80,278.40 C116.30,277.70 115.80,277.07 115.60,276.60 C115.40,276.13 115.33,275.70 115.60,275.60Z" fill="#2e2e2e" stroke="#bbb" stroke-width="0.4"/>
</g>
<path d="M77.3,267 L83.5,264.8 L86,266 L89,267.7 L86,270 L83.5,271.2 L79.4,269.6 Z" fill="#0a0a0a" filter="url(#bl2)"/>
<rect x="58.00" y="224.70" width="100.60" height="100.20" fill="none" stroke="#111" stroke-width="1.25"/>
<line x1="66.50" y1="324.90" x2="66.50" y2="328.50" stroke="#111" stroke-width="0.9" stroke-linecap="butt"/>
<line x1="78.00" y1="324.90" x2="78.00" y2="328.50" stroke="#111" stroke-width="0.9" stroke-linecap="butt"/>
<line x1="102.00" y1="324.90" x2="102.00" y2="328.50" stroke="#111" stroke-width="0.9" stroke-linecap="butt"/>
<line x1="126.30" y1="324.90" x2="126.30" y2="328.50" stroke="#111" stroke-width="0.9" stroke-linecap="butt"/>
<line x1="149.50" y1="324.90" x2="149.50" y2="328.50" stroke="#111" stroke-width="0.9" stroke-linecap="butt"/>
<line x1="85.22" y1="324.90" x2="85.22" y2="326.90" stroke="#111" stroke-width="0.9" stroke-linecap="butt"/>
<line x1="89.45" y1="324.90" x2="89.45" y2="326.90" stroke="#111" stroke-width="0.9" stroke-linecap="butt"/>
<line x1="92.45" y1="324.90" x2="92.45" y2="326.90" stroke="#111" stroke-width="0.9" stroke-linecap="butt"/>
<line x1="94.78" y1="324.90" x2="94.78" y2="326.90" stroke="#111" stroke-width="0.9" stroke-linecap="butt"/>
<line x1="96.68" y1="324.90" x2="96.68" y2="326.90" stroke="#111" stroke-width="0.9" stroke-linecap="butt"/>
<line x1="98.28" y1="324.90" x2="98.28" y2="326.90" stroke="#111" stroke-width="0.9" stroke-linecap="butt"/>
<line x1="99.67" y1="324.90" x2="99.67" y2="326.90" stroke="#111" stroke-width="0.9" stroke-linecap="butt"/>
<line x1="100.90" y1="324.90" x2="100.90" y2="326.90" stroke="#111" stroke-width="0.9" stroke-linecap="butt"/>
<line x1="109.32" y1="324.90" x2="109.32" y2="326.90" stroke="#111" stroke-width="0.9" stroke-linecap="butt"/>
<line x1="113.59" y1="324.90" x2="113.59" y2="326.90" stroke="#111" stroke-width="0.9" stroke-linecap="butt"/>
<line x1="116.63" y1="324.90" x2="116.63" y2="326.90" stroke="#111" stroke-width="0.9" stroke-linecap="butt"/>
<line x1="118.98" y1="324.90" x2="118.98" y2="326.90" stroke="#111" stroke-width="0.9" stroke-linecap="butt"/>
<line x1="120.91" y1="324.90" x2="120.91" y2="326.90" stroke="#111" stroke-width="0.9" stroke-linecap="butt"/>
<line x1="122.54" y1="324.90" x2="122.54" y2="326.90" stroke="#111" stroke-width="0.9" stroke-linecap="butt"/>
<line x1="123.95" y1="324.90" x2="123.95" y2="326.90" stroke="#111" stroke-width="0.9" stroke-linecap="butt"/>
<line x1="125.19" y1="324.90" x2="125.19" y2="326.90" stroke="#111" stroke-width="0.9" stroke-linecap="butt"/>
<line x1="133.28" y1="324.90" x2="133.28" y2="326.90" stroke="#111" stroke-width="0.9" stroke-linecap="butt"/>
<line x1="137.37" y1="324.90" x2="137.37" y2="326.90" stroke="#111" stroke-width="0.9" stroke-linecap="butt"/>
<line x1="140.27" y1="324.90" x2="140.27" y2="326.90" stroke="#111" stroke-width="0.9" stroke-linecap="butt"/>
<line x1="142.52" y1="324.90" x2="142.52" y2="326.90" stroke="#111" stroke-width="0.9" stroke-linecap="butt"/>
<line x1="144.35" y1="324.90" x2="144.35" y2="326.90" stroke="#111" stroke-width="0.9" stroke-linecap="butt"/>
<line x1="145.91" y1="324.90" x2="145.91" y2="326.90" stroke="#111" stroke-width="0.9" stroke-linecap="butt"/>
<line x1="147.25" y1="324.90" x2="147.25" y2="326.90" stroke="#111" stroke-width="0.9" stroke-linecap="butt"/>
<line x1="148.44" y1="324.90" x2="148.44" y2="326.90" stroke="#111" stroke-width="0.9" stroke-linecap="butt"/>
<line x1="69.38" y1="324.90" x2="69.38" y2="326.90" stroke="#111" stroke-width="0.9" stroke-linecap="butt"/>
<line x1="64.49" y1="324.90" x2="64.49" y2="326.90" stroke="#111" stroke-width="0.9" stroke-linecap="butt"/>
<line x1="72.25" y1="324.90" x2="72.25" y2="326.90" stroke="#111" stroke-width="0.9" stroke-linecap="butt"/>
<line x1="62.48" y1="324.90" x2="62.48" y2="326.90" stroke="#111" stroke-width="0.9" stroke-linecap="butt"/>
<line x1="75.12" y1="324.90" x2="75.12" y2="326.90" stroke="#111" stroke-width="0.9" stroke-linecap="butt"/>
<line x1="60.46" y1="324.90" x2="60.46" y2="326.90" stroke="#111" stroke-width="0.9" stroke-linecap="butt"/>
<line x1="58.00" y1="234.60" x2="54.40" y2="234.60" stroke="#111" stroke-width="0.9" stroke-linecap="butt"/>
<line x1="58.00" y1="257.50" x2="54.40" y2="257.50" stroke="#111" stroke-width="0.9" stroke-linecap="butt"/>
<line x1="58.00" y1="281.00" x2="54.40" y2="281.00" stroke="#111" stroke-width="0.9" stroke-linecap="butt"/>
<line x1="58.00" y1="305.00" x2="54.40" y2="305.00" stroke="#111" stroke-width="0.9" stroke-linecap="butt"/>
<line x1="58.00" y1="316.00" x2="54.40" y2="316.00" stroke="#111" stroke-width="0.9" stroke-linecap="butt"/>
<line x1="58.00" y1="297.78" x2="56.00" y2="297.78" stroke="#111" stroke-width="0.9" stroke-linecap="butt"/>
<line x1="58.00" y1="293.55" x2="56.00" y2="293.55" stroke="#111" stroke-width="0.9" stroke-linecap="butt"/>
<line x1="58.00" y1="290.55" x2="56.00" y2="290.55" stroke="#111" stroke-width="0.9" stroke-linecap="butt"/>
<line x1="58.00" y1="288.22" x2="56.00" y2="288.22" stroke="#111" stroke-width="0.9" stroke-linecap="butt"/>
<line x1="58.00" y1="286.32" x2="56.00" y2="286.32" stroke="#111" stroke-width="0.9" stroke-linecap="butt"/>
<line x1="58.00" y1="284.72" x2="56.00" y2="284.72" stroke="#111" stroke-width="0.9" stroke-linecap="butt"/>
<line x1="58.00" y1="283.33" x2="56.00" y2="283.33" stroke="#111" stroke-width="0.9" stroke-linecap="butt"/>
<line x1="58.00" y1="282.10" x2="56.00" y2="282.10" stroke="#111" stroke-width="0.9" stroke-linecap="butt"/>
<line x1="58.00" y1="273.93" x2="56.00" y2="273.93" stroke="#111" stroke-width="0.9" stroke-linecap="butt"/>
<line x1="58.00" y1="269.79" x2="56.00" y2="269.79" stroke="#111" stroke-width="0.9" stroke-linecap="butt"/>
<line x1="58.00" y1="266.85" x2="56.00" y2="266.85" stroke="#111" stroke-width="0.9" stroke-linecap="butt"/>
<line x1="58.00" y1="264.57" x2="56.00" y2="264.57" stroke="#111" stroke-width="0.9" stroke-linecap="butt"/>
<line x1="58.00" y1="262.71" x2="56.00" y2="262.71" stroke="#111" stroke-width="0.9" stroke-linecap="butt"/>
<line x1="58.00" y1="261.14" x2="56.00" y2="261.14" stroke="#111" stroke-width="0.9" stroke-linecap="butt"/>
<line x1="58.00" y1="259.78" x2="56.00" y2="259.78" stroke="#111" stroke-width="0.9" stroke-linecap="butt"/>
<line x1="58.00" y1="258.58" x2="56.00" y2="258.58" stroke="#111" stroke-width="0.9" stroke-linecap="butt"/>
<line x1="58.00" y1="250.61" x2="56.00" y2="250.61" stroke="#111" stroke-width="0.9" stroke-linecap="butt"/>
<line x1="58.00" y1="246.57" x2="56.00" y2="246.57" stroke="#111" stroke-width="0.9" stroke-linecap="butt"/>
<line x1="58.00" y1="243.71" x2="56.00" y2="243.71" stroke="#111" stroke-width="0.9" stroke-linecap="butt"/>
<line x1="58.00" y1="241.49" x2="56.00" y2="241.49" stroke="#111" stroke-width="0.9" stroke-linecap="butt"/>
<line x1="58.00" y1="239.68" x2="56.00" y2="239.68" stroke="#111" stroke-width="0.9" stroke-linecap="butt"/>
<line x1="58.00" y1="238.15" x2="56.00" y2="238.15" stroke="#111" stroke-width="0.9" stroke-linecap="butt"/>
<line x1="58.00" y1="236.82" x2="56.00" y2="236.82" stroke="#111" stroke-width="0.9" stroke-linecap="butt"/>
<line x1="58.00" y1="235.65" x2="56.00" y2="235.65" stroke="#111" stroke-width="0.9" stroke-linecap="butt"/>
<line x1="58.00" y1="312.37" x2="56.00" y2="312.37" stroke="#111" stroke-width="0.9" stroke-linecap="butt"/>
<line x1="58.00" y1="308.74" x2="56.00" y2="308.74" stroke="#111" stroke-width="0.9" stroke-linecap="butt"/>
<line x1="58.00" y1="320.00" x2="56.00" y2="320.00" stroke="#111" stroke-width="0.9" stroke-linecap="butt"/>
<text transform="translate(51.60,238.00)" font-size="9" text-anchor="end" fill="#1a1a1a">10<tspan font-size="6" dy="-3.6">5</tspan></text>
<text transform="translate(51.60,260.90)" font-size="9" text-anchor="end" fill="#1a1a1a">10<tspan font-size="6" dy="-3.6">4</tspan></text>
<text transform="translate(51.60,284.40)" font-size="9" text-anchor="end" fill="#1a1a1a">10<tspan font-size="6" dy="-3.6">3</tspan></text>
<text transform="translate(51.60,308.40)" font-size="9" text-anchor="end" fill="#1a1a1a">10<tspan font-size="6" dy="-3.6">2</tspan></text>
<text transform="translate(50.50,319.40)" font-size="9" text-anchor="end" font-weight="normal" fill="#1a1a1a" >0</text>
<text transform="translate(66.30,340.30)" font-size="9" text-anchor="middle" font-weight="normal" fill="#1a1a1a" >0</text>
<text transform="translate(78.90,340.50)" font-size="9" text-anchor="middle" fill="#1a1a1a">10<tspan font-size="6" dy="-3.6">2</tspan></text>
<text transform="translate(102.90,340.50)" font-size="9" text-anchor="middle" fill="#1a1a1a">10<tspan font-size="6" dy="-3.6">3</tspan></text>
<text transform="translate(127.20,340.50)" font-size="9" text-anchor="middle" fill="#1a1a1a">10<tspan font-size="6" dy="-3.6">4</tspan></text>
<text transform="translate(150.40,340.50)" font-size="9" text-anchor="middle" fill="#1a1a1a">10<tspan font-size="6" dy="-3.6">5</tspan></text>
<text transform="translate(30.30,312.70) rotate(-90)" font-size="11" text-anchor="start" font-weight="normal" fill="#1a1a1a"  textLength="51.5" lengthAdjust="spacingAndGlyphs">CD5 (FITC)</text>
<text transform="translate(97.00,356.30) scale(0.8,1)" font-size="11" text-anchor="middle" font-weight="normal" fill="#1a1a1a" >CXCR4 (PE)</text>
<text transform="translate(65.50,255.30)" font-size="6" text-anchor="start" font-weight="normal" fill="#444" stroke="none">5.05%</text>
<text transform="translate(114.00,310.50)" font-size="6" text-anchor="start" font-weight="normal" fill="#444" stroke="none">2.11%</text>
<line x1="34.60" y1="489.90" x2="34.60" y2="370.40" stroke="#111" stroke-width="1.25" stroke-linecap="butt"/>
<line x1="34.00" y1="489.30" x2="158.00" y2="489.30" stroke="#111" stroke-width="1.25" stroke-linecap="butt"/>
<polygon points="34.6,365.4 31.700000000000003,372.2 37.5,372.2" fill="#111"/>
<polygon points="163,489.3 156.2,486.40000000000003 156.2,492.2" fill="#111"/>
<polygon points="88.70,470.00 92.00,468.10 95.40,465.20 97.80,460.60 99.80,454.10 101.50,445.60 103.10,436.40 104.20,423.60 105.30,409.80 106.20,400.60 107.10,394.40 108.60,387.60 110.20,381.10 111.20,386.60 112.40,394.40 114.00,400.60 115.30,406.50 116.20,416.60 117.00,427.60 118.80,441.60 120.80,454.10 123.00,461.60 125.20,466.30 127.50,468.60 129.60,470.00" fill="#b3b3b3" stroke="none" stroke-width="0" stroke-linejoin="round" />
<polyline points="88.70,470.00 92.00,468.10 95.40,465.20 97.80,460.60 99.80,454.10 101.50,445.60 103.10,436.40 104.20,423.60 105.30,409.80 106.20,400.60 107.10,394.40 108.60,387.60 110.20,381.10 111.20,386.60 112.40,394.40 114.00,400.60 115.30,406.50 116.20,416.60 117.00,427.60 118.80,441.60 120.80,454.10 123.00,461.60 125.20,466.30 127.50,468.60 129.60,470.00" fill="none" stroke="#111" stroke-width="1.3" stroke-linejoin="round" stroke-dasharray="1.3,1.1"/>
<polyline points="61.00,470.00 64.00,468.60 67.70,465.60 71.00,463.60 74.30,460.70 78.00,456.60 81.00,453.00 82.70,453.60 84.50,447.60 86.50,441.90 88.50,436.60 90.90,429.80 92.30,420.60 93.60,409.80 94.50,398.60 95.40,391.00 96.20,394.60 97.10,403.20 98.50,403.60 99.80,405.40 101.00,409.60 102.00,414.30 103.00,421.60 104.20,429.80 106.50,438.60 108.60,447.50 111.00,456.60 113.10,464.10 115.50,467.10 118.60,468.50 122.00,469.60 125.20,470.00" fill="none" stroke="#111" stroke-width="1.1" stroke-linejoin="round" />
<line x1="58.00" y1="470.60" x2="158.60" y2="470.60" stroke="#111" stroke-width="1.2" stroke-linecap="butt"/>
<rect x="58.00" y="369.80" width="100.60" height="100.80" fill="none" stroke="#222" stroke-width="1.25"/>
<line x1="74.40" y1="470.60" x2="74.40" y2="474.20" stroke="#111" stroke-width="0.8" stroke-linecap="butt"/>
<line x1="85.80" y1="470.60" x2="85.80" y2="474.20" stroke="#111" stroke-width="0.8" stroke-linecap="butt"/>
<line x1="108.00" y1="470.60" x2="108.00" y2="474.20" stroke="#111" stroke-width="0.8" stroke-linecap="butt"/>
<line x1="129.80" y1="470.60" x2="129.80" y2="474.20" stroke="#111" stroke-width="0.8" stroke-linecap="butt"/>
<line x1="150.60" y1="470.60" x2="150.60" y2="474.20" stroke="#111" stroke-width="0.8" stroke-linecap="butt"/>
<line x1="92.48" y1="470.60" x2="92.48" y2="472.60" stroke="#111" stroke-width="0.8" stroke-linecap="butt"/>
<line x1="96.39" y1="470.60" x2="96.39" y2="472.60" stroke="#111" stroke-width="0.8" stroke-linecap="butt"/>
<line x1="99.17" y1="470.60" x2="99.17" y2="472.60" stroke="#111" stroke-width="0.8" stroke-linecap="butt"/>
<line x1="101.32" y1="470.60" x2="101.32" y2="472.60" stroke="#111" stroke-width="0.8" stroke-linecap="butt"/>
<line x1="103.07" y1="470.60" x2="103.07" y2="472.60" stroke="#111" stroke-width="0.8" stroke-linecap="butt"/>
<line x1="104.56" y1="470.60" x2="104.56" y2="472.60" stroke="#111" stroke-width="0.8" stroke-linecap="butt"/>
<line x1="105.85" y1="470.60" x2="105.85" y2="472.60" stroke="#111" stroke-width="0.8" stroke-linecap="butt"/>
<line x1="106.98" y1="470.60" x2="106.98" y2="472.60" stroke="#111" stroke-width="0.8" stroke-linecap="butt"/>
<line x1="114.56" y1="470.60" x2="114.56" y2="472.60" stroke="#111" stroke-width="0.8" stroke-linecap="butt"/>
<line x1="118.40" y1="470.60" x2="118.40" y2="472.60" stroke="#111" stroke-width="0.8" stroke-linecap="butt"/>
<line x1="121.12" y1="470.60" x2="121.12" y2="472.60" stroke="#111" stroke-width="0.8" stroke-linecap="butt"/>
<line x1="123.24" y1="470.60" x2="123.24" y2="472.60" stroke="#111" stroke-width="0.8" stroke-linecap="butt"/>
<line x1="124.96" y1="470.60" x2="124.96" y2="472.60" stroke="#111" stroke-width="0.8" stroke-linecap="butt"/>
<line x1="126.42" y1="470.60" x2="126.42" y2="472.60" stroke="#111" stroke-width="0.8" stroke-linecap="butt"/>
<line x1="127.69" y1="470.60" x2="127.69" y2="472.60" stroke="#111" stroke-width="0.8" stroke-linecap="butt"/>
<line x1="128.80" y1="470.60" x2="128.80" y2="472.60" stroke="#111" stroke-width="0.8" stroke-linecap="butt"/>
<line x1="136.06" y1="470.60" x2="136.06" y2="472.60" stroke="#111" stroke-width="0.8" stroke-linecap="butt"/>
<line x1="139.72" y1="470.60" x2="139.72" y2="472.60" stroke="#111" stroke-width="0.8" stroke-linecap="butt"/>
<line x1="142.32" y1="470.60" x2="142.32" y2="472.60" stroke="#111" stroke-width="0.8" stroke-linecap="butt"/>
<line x1="144.34" y1="470.60" x2="144.34" y2="472.60" stroke="#111" stroke-width="0.8" stroke-linecap="butt"/>
<line x1="145.99" y1="470.60" x2="145.99" y2="472.60" stroke="#111" stroke-width="0.8" stroke-linecap="butt"/>
<line x1="147.38" y1="470.60" x2="147.38" y2="472.60" stroke="#111" stroke-width="0.8" stroke-linecap="butt"/>
<line x1="148.58" y1="470.60" x2="148.58" y2="472.60" stroke="#111" stroke-width="0.8" stroke-linecap="butt"/>
<line x1="149.65" y1="470.60" x2="149.65" y2="472.60" stroke="#111" stroke-width="0.8" stroke-linecap="butt"/>
<line x1="77.25" y1="470.60" x2="77.25" y2="472.60" stroke="#111" stroke-width="0.8" stroke-linecap="butt"/>
<line x1="71.84" y1="470.60" x2="71.84" y2="472.60" stroke="#111" stroke-width="0.8" stroke-linecap="butt"/>
<line x1="80.10" y1="470.60" x2="80.10" y2="472.60" stroke="#111" stroke-width="0.8" stroke-linecap="butt"/>
<line x1="69.27" y1="470.60" x2="69.27" y2="472.60" stroke="#111" stroke-width="0.8" stroke-linecap="butt"/>
<line x1="82.95" y1="470.60" x2="82.95" y2="472.60" stroke="#111" stroke-width="0.8" stroke-linecap="butt"/>
<line x1="66.71" y1="470.60" x2="66.71" y2="472.60" stroke="#111" stroke-width="0.8" stroke-linecap="butt"/>
<line x1="54.80" y1="470.20" x2="58.00" y2="470.20" stroke="#111" stroke-width="1.0" stroke-linecap="butt"/>
<text transform="translate(50.50,473.40)" font-size="9" text-anchor="end" font-weight="normal" fill="#1a1a1a" >0</text>
<text transform="translate(74.80,485.00)" font-size="9" text-anchor="middle" font-weight="normal" fill="#1a1a1a" >0</text>
<text transform="translate(87.00,485.20)" font-size="9" text-anchor="middle" fill="#1a1a1a">10<tspan font-size="6" dy="-3.6">2</tspan></text>
<text transform="translate(109.20,485.20)" font-size="9" text-anchor="middle" fill="#1a1a1a">10<tspan font-size="6" dy="-3.6">3</tspan></text>
<text transform="translate(131.00,485.20)" font-size="9" text-anchor="middle" fill="#1a1a1a">10<tspan font-size="6" dy="-3.6">4</tspan></text>
<text transform="translate(151.80,485.20)" font-size="9" text-anchor="middle" fill="#1a1a1a">10<tspan font-size="6" dy="-3.6">5</tspan></text>
<text transform="translate(29.70,444.30) rotate(-90)" font-size="11" text-anchor="start" font-weight="normal" fill="#1a1a1a"  textLength="29" lengthAdjust="spacingAndGlyphs">COUNT</text>
<text transform="translate(97.00,506.00) scale(0.8,1)" font-size="11" text-anchor="middle" font-weight="normal" fill="#1a1a1a" >CD20 (APC)</text>
<rect x="132.20" y="497.60" width="16.60" height="6.60" fill="#c4c4c4" stroke="none" stroke-width="1"/>
<line x1="132.60" y1="500.90" x2="148.60" y2="500.90" stroke="#222" stroke-width="1.3" stroke-linecap="butt" stroke-dasharray="1.2,0.9"/>
<line x1="132.20" y1="513.20" x2="148.80" y2="513.20" stroke="#111" stroke-width="1.2" stroke-linecap="butt"/>
<text transform="translate(151.60,504.30)" font-size="8.6" text-anchor="start" font-weight="normal" fill="#1a1a1a" >CXCR4<tspan font-size="5.5" dy="-3.2">dim</tspan><tspan dy="3.2">CD5</tspan><tspan font-size="5.5" dy="-3.2">bright</tspan></text>
<text transform="translate(151.60,516.00)" font-size="8.6" text-anchor="start" font-weight="normal" fill="#1a1a1a" >CXCR4<tspan font-size="5.5" dy="-3.2">bright</tspan><tspan dy="3.2">CD5</tspan><tspan font-size="5.5" dy="-3.2">dim</tspan></text>
<g filter="url(#bl3)" opacity="0.55"><ellipse cx="270" cy="610.5" rx="8" ry="3.6" fill="#555"/><path d="M278,614 L296,621 L308,629 L317,642 L322,646 L330,645" fill="none" stroke="#777" stroke-width="5"/><path d="M290,602 L305,600 L318,602 L328,610 L335,622 L337,634" fill="none" stroke="#999" stroke-width="3"/></g>
<path d="M324.0,644.9h.7M298.1,625.8h.7M272.9,611.2h.7M311.0,633.5h.7M286.6,602.7h.7M282.9,604.4h.7M333.2,640.8h.7M298.6,620.8h.7M307.3,626.5h.7M298.0,620.3h.7M307.2,600.4h.7M335.4,641.2h.7M284.6,604.3h.7M305.9,630.6h.7M277.3,618.8h.7M296.4,597.7h.7M290.0,598.4h.7M287.2,624.2h.7M282.8,617.8h.7M287.9,598.6h.7M322.1,605.6h.7M279.3,615.9h.7M291.3,618.0h.7M328.5,651.3h.7M335.1,637.6h.7M281.3,616.0h.7M309.9,629.1h.7M273.9,616.1h.7M328.8,644.4h.7M316.5,642.4h.7M330.1,641.9h.7M271.6,617.0h.7M279.5,615.0h.7M319.2,603.7h.7M335.8,618.8h.7M326.8,610.1h.7M281.1,604.2h.7M312.2,641.0h.7M274.1,609.2h.7M300.6,599.5h.7M296.7,619.7h.7M310.7,630.7h.7M285.7,622.1h.7M274.6,609.1h.7M312.1,636.2h.7M273.4,611.4h.7M277.5,607.0h.7M309.8,629.3h.7M272.8,611.8h.7M323.1,607.2h.7M327.3,642.5h.7M325.2,644.2h.7M288.1,601.5h.7M274.7,615.6h.7M319.0,603.7h.7M277.0,606.5h.7M337.7,635.6h.7M297.6,600.7h.7M335.3,639.9h.7M272.6,604.8h.7M269.1,612.0h.7M274.3,610.9h.7M303.4,634.7h.7M326.5,610.6h.7M338.7,627.8h.7M271.9,619.6h.7M320.2,642.3h.7M316.9,603.1h.7M275.2,609.1h.7M340.9,629.5h.7M291.6,602.4h.7M278.8,606.0h.7M303.3,601.1h.7M313.3,636.8h.7M285.4,604.4h.7M330.3,614.4h.7M273.8,612.3h.7M276.2,612.3h.7M309.0,634.7h.7M324.1,608.8h.7M306.6,632.6h.7M313.6,602.3h.7M277.0,607.0h.7M289.7,602.5h.7M335.8,640.8h.7M313.2,602.2h.7M274.9,612.2h.7M324.5,605.1h.7M332.4,619.3h.7M288.9,617.1h.7M275.3,609.2h.7M314.5,602.7h.7M311.9,631.2h.7M294.4,618.3h.7M286.3,617.1h.7M323.9,605.1h.7M287.4,616.7h.7M292.5,601.6h.7M334.2,637.3h.7M301.6,622.7h.7M329.6,643.1h.7M335.5,632.0h.7M332.5,643.9h.7M325.6,610.0h.7M339.9,632.1h.7M281.9,604.7h.7M286.1,616.7h.7M270.7,608.6h.7M278.6,606.0h.7M329.1,644.5h.7M321.6,644.3h.7M274.1,608.1h.7M324.8,643.5h.7M293.3,600.0h.7M328.1,612.4h.7M322.6,604.2h.7M273.8,611.0h.7M279.2,613.4h.7M287.5,616.5h.7M275.8,611.4h.7M304.1,626.8h.7M312.7,636.8h.7M321.9,596.8h.7M312.8,602.2h.7M335.9,624.9h.7M294.5,618.4h.7M324.6,609.3h.7M277.6,602.5h.7M336.3,638.1h.7M311.7,631.3h.7M333.8,638.5h.7M318.1,603.7h.7M276.5,604.3h.7M335.6,634.3h.7M283.3,619.1h.7M311.0,631.6h.7M329.1,605.5h.7M321.3,606.2h.7M312.9,599.2h.7M328.3,646.1h.7M277.9,607.0h.7M327.9,613.0h.7M276.4,608.1h.7M308.8,634.0h.7M335.0,640.1h.7M295.2,619.2h.7M285.5,618.3h.7M277.0,607.5h.7M333.1,617.8h.7M317.4,603.8h.7M283.2,601.1h.7M302.2,600.9h.7M324.7,643.5h.7M326.7,607.8h.7M337.0,632.2h.7M332.1,618.6h.7M333.0,613.6h.7M338.0,634.0h.7M293.6,621.4h.7M301.4,600.6h.7M302.2,595.6h.7M283.5,603.6h.7M334.1,636.0h.7M275.1,612.3h.7M278.3,606.0h.7M306.7,627.0h.7M276.9,601.1h.7M336.9,627.5h.7M310.7,634.6h.7M320.3,641.9h.7M275.5,609.7h.7M319.8,605.1h.7M327.0,609.3h.7M277.4,618.5h.7M284.9,617.4h.7M335.3,627.0h.7M308.6,628.2h.7M287.8,616.3h.7M313.5,633.8h.7M285.8,620.3h.7M286.6,617.4h.7M320.5,643.7h.7M275.7,601.5h.7M316.1,647.7h.7M335.2,616.1h.7M322.9,607.8h.7M314.4,635.4h.7M280.8,603.3h.7M311.0,634.7h.7M299.9,621.9h.7M335.4,628.0h.7M332.1,617.1h.7M296.1,624.7h.7M304.8,601.2h.7M300.1,601.7h.7M332.1,640.6h.7M304.2,625.1h.7M286.4,621.4h.7M307.8,598.9h.7M292.1,624.0h.7M331.8,614.1h.7M334.3,640.5h.7M277.4,612.2h.7M334.5,635.7h.7M283.0,600.6h.7M317.7,641.0h.7M334.5,632.6h.7M275.9,607.2h.7M302.5,622.4h.7M321.8,645.9h.7M328.1,612.0h.7M300.8,626.8h.7M300.7,621.8h.7M297.5,625.0h.7M312.1,598.0h.7M337.6,636.4h.7M278.6,613.1h.7M294.8,620.5h.7M325.6,609.1h.7M336.0,633.6h.7M323.9,642.6h.7M335.4,626.6h.7M281.4,616.4h.7M289.8,600.5h.7M303.3,597.2h.7M337.8,633.5h.7M280.1,616.2h.7M334.9,624.9h.7M322.4,605.3h.7M333.7,638.1h.7M311.9,631.5h.7M337.4,637.5h.7M326.4,643.9h.7M321.2,604.9h.7M304.4,624.9h.7M310.3,600.9h.7M290.3,619.4h.7M278.9,616.0h.7M330.1,641.6h.7M314.3,638.3h.7M313.6,600.4h.7M310.1,631.0h.7M335.4,611.8h.7M277.9,617.6h.7M310.2,634.5h.7M330.6,646.8h.7M311.4,600.5h.7M313.8,600.7h.7M283.9,604.0h.7M324.3,608.7h.7M336.6,641.3h.7M290.6,618.5h.7M334.2,641.7h.7M276.4,613.9h.7M306.9,626.8h.7M318.2,602.9h.7M313.5,598.7h.7M304.0,601.4h.7M306.3,627.3h.7M308.8,600.5h.7M319.5,641.8h.7M307.8,600.5h.7M310.6,629.2h.7M323.9,650.0h.7M330.5,643.4h.7M310.2,601.6h.7M311.3,597.8h.7M273.0,608.4h.7M327.6,643.5h.7M271.9,612.2h.7M313.9,636.1h.7M334.8,633.0h.7M335.2,628.7h.7M275.7,614.2h.7M336.4,633.0h.7M288.9,618.2h.7M334.8,620.9h.7M334.1,640.8h.7M319.4,604.5h.7M337.1,628.8h.7M300.5,622.5h.7M276.1,611.4h.7M298.5,630.0h.7M320.2,643.8h.7M311.8,601.6h.7M335.6,621.3h.7M303.7,625.7h.7M301.5,624.0h.7M310.3,635.3h.7M278.3,614.0h.7M292.1,618.2h.7M321.9,602.0h.7M280.4,616.3h.7M317.4,601.8h.7M296.2,619.0h.7M301.6,598.2h.7M342.2,623.2h.7M298.9,599.8h.7M302.8,596.3h.7M331.6,609.0h.7M296.2,593.4h.7M311.6,598.7h.7M278.6,606.3h.7M295.4,601.1h.7M274.7,609.9h.7M333.7,615.2h.7M335.2,629.8h.7M274.7,613.6h.7M276.1,607.6h.7M326.7,643.2h.7M294.8,620.3h.7M326.1,607.9h.7M277.7,602.4h.7M309.3,599.4h.7M334.9,656.0h.7M277.8,614.9h.7M301.5,598.6h.7M298.6,623.1h.7M312.4,643.4h.7M287.2,603.8h.7M313.0,632.6h.7M337.8,627.4h.7M328.6,642.3h.7M279.8,614.1h.7M288.5,617.4h.7M327.6,645.7h.7M337.2,639.2h.7M300.9,630.2h.7M333.9,638.0h.7M307.0,599.8h.7M291.5,622.4h.7M277.2,615.0h.7M334.6,639.3h.7M323.3,644.6h.7M295.1,601.5h.7M321.3,642.2h.7M285.9,617.4h.7M285.3,620.9h.7M276.6,607.8h.7M278.5,613.5h.7M315.2,637.2h.7M324.1,646.0h.7M286.5,603.6h.7M310.0,634.8h.7M317.2,639.6h.7M310.9,630.2h.7M335.2,634.6h.7M338.5,623.8h.7M299.5,628.6h.7M329.6,644.1h.7M317.3,603.0h.7M304.2,626.4h.7M279.3,605.0h.7M286.9,618.5h.7M333.0,619.4h.7M283.4,604.0h.7M310.2,628.8h.7M294.1,621.0h.7M304.9,599.9h.7M312.6,632.4h.7M268.0,615.2h.7M321.3,644.9h.7M322.5,646.7h.7M282.0,616.8h.7M330.3,641.6h.7M305.8,596.8h.7M289.3,617.0h.7M330.0,616.0h.7M320.8,644.8h.7M317.9,602.8h.7M284.4,603.9h.7M338.8,643.1h.7M278.1,607.3h.7M331.9,640.6h.7M302.7,598.6h.7M312.3,642.1h.7M329.6,614.7h.7M305.7,626.4h.7M289.2,617.9h.7M321.5,605.7h.7M334.1,639.7h.7M319.9,603.6h.7M276.1,610.9h.7M301.8,623.5h.7M328.9,615.0h.7M273.4,609.8h.7M269.7,612.7h.7M288.1,603.7h.7M279.1,605.7h.7M320.5,642.2h.7M309.7,601.3h.7M313.0,602.1h.7M279.2,612.9h.7M290.2,618.4h.7M279.6,605.6h.7M301.3,621.6h.7M289.8,601.1h.7M314.0,601.7h.7M322.4,600.9h.7M325.7,645.3h.7M335.5,641.7h.7M337.0,637.1h.7M278.3,605.6h.7M287.1,601.9h.7M327.4,642.6h.7M340.5,633.3h.7M291.0,618.3h.7M333.7,640.0h.7M326.4,610.6h.7M321.4,645.1h.7M308.6,633.4h.7M320.3,605.7h.7M335.6,627.7h.7M277.6,606.6h.7M334.1,618.4h.7M300.4,598.0h.7M333.8,624.4h.7M307.5,601.0h.7M327.1,610.8h.7M316.0,603.0h.7M327.3,612.5h.7M287.2,603.4h.7M316.5,603.6h.7M280.6,615.9h.7M281.4,605.1h.7M270.0,610.7h.7M334.5,633.5h.7M334.7,629.6h.7M332.9,621.5h.7M289.7,616.5h.7M305.8,632.8h.7M342.3,632.2h.7M311.6,634.4h.7M292.9,618.4h.7M327.5,643.1h.7M281.8,618.9h.7M335.3,630.8h.7M339.1,619.3h.7M286.3,598.4h.7M318.7,604.8h.7M288.4,617.4h.7M309.6,598.5h.7M335.6,630.7h.7M329.6,614.6h.7M332.4,642.5h.7M308.2,599.9h.7M281.1,617.6h.7M305.1,601.3h.7M294.6,618.5h.7M279.5,614.7h.7M311.0,600.4h.7M292.2,617.3h.7M310.0,601.5h.7M276.0,612.6h.7M312.9,632.6h.7M312.9,634.8h.7M326.3,607.3h.7M334.8,627.1h.7M332.4,647.0h.7M293.4,618.7h.7M321.7,642.3h.7M334.1,626.3h.7M306.8,625.8h.7M336.9,640.1h.7M333.4,640.1h.7M314.1,636.1h.7M331.4,646.2h.7M297.1,619.9h.7M302.5,597.7h.7M336.0,636.7h.7M333.1,639.0h.7M275.7,610.0h.7M282.1,605.5h.7M337.0,629.3h.7M326.2,610.8h.7M336.6,634.9h.7M286.5,601.9h.7M332.9,639.9h.7M324.0,608.5h.7M273.8,607.3h.7M333.8,626.0h.7M337.2,629.1h.7M328.1,645.3h.7M295.6,619.8h.7M278.0,612.2h.7M337.8,641.8h.7M288.0,603.4h.7M280.6,617.1h.7M302.0,622.6h.7M331.8,641.5h.7M275.9,610.6h.7M329.3,642.2h.7M285.1,599.6h.7M327.4,642.3h.7M332.3,641.1h.7M318.7,602.6h.7M293.8,621.5h.7M335.9,621.2h.7M304.4,597.0h.7M306.1,626.7h.7M275.4,610.6h.7M284.5,615.3h.7M273.3,606.5h.7M311.7,630.9h.7M282.7,602.7h.7M328.4,642.4h.7M304.8,626.7h.7M336.7,642.7h.7M316.8,646.4h.7M330.1,642.3h.7M294.0,618.7h.7M329.9,613.9h.7M340.0,643.1h.7M325.0,643.2h.7M277.2,613.5h.7M285.0,615.6h.7M330.6,647.1h.7M276.9,614.6h.7M284.7,616.8h.7M283.5,616.4h.7M311.2,601.4h.7M309.8,632.1h.7M331.5,616.1h.7M273.9,606.5h.7M300.9,599.9h.7M306.7,629.1h.7M318.6,604.8h.7M333.4,643.2h.7M285.4,616.1h.7M287.1,619.2h.7M334.6,604.7h.7M297.4,601.8h.7M310.1,599.1h.7M334.4,638.8h.7M311.9,634.8h.7M291.4,618.4h.7M332.7,621.1h.7M322.2,642.9h.7M302.3,600.4h.7M318.8,602.1h.7M327.1,612.1h.7M307.4,630.6h.7M279.2,613.5h.7M286.6,622.1h.7M310.0,632.4h.7M317.6,603.5h.7M330.2,616.6h.7M301.8,598.9h.7M330.7,641.9h.7M276.2,611.1h.7M311.7,631.6h.7M329.4,642.8h.7M310.6,631.8h.7M337.8,610.4h.7M297.7,620.6h.7M275.3,607.7h.7M326.2,642.6h.7M298.6,622.6h.7M332.4,641.7h.7M316.4,639.0h.7M296.6,621.5h.7M330.8,641.3h.7M333.2,619.1h.7M331.4,641.1h.7M301.7,599.3h.7M334.1,635.8h.7M319.0,641.9h.7M301.7,601.6h.7M312.9,640.9h.7M336.4,625.4h.7M329.8,642.8h.7M312.1,635.2h.7M282.5,616.8h.7M323.4,642.2h.7M299.5,599.9h.7M319.0,642.9h.7M276.3,611.8h.7M304.1,631.4h.7M304.6,626.1h.7M303.5,623.1h.7M326.1,642.6h.7M318.1,645.6h.7M336.6,618.8h.7M282.7,604.0h.7M332.2,619.6h.7M328.0,648.5h.7M303.7,624.2h.7M276.1,612.3h.7M330.8,645.4h.7M338.2,619.6h.7M287.2,603.1h.7M301.2,622.8h.7M316.5,640.0h.7M306.4,628.2h.7M321.2,646.7h.7M326.1,603.8h.7M323.9,608.4h.7M331.2,615.3h.7M303.3,600.4h.7M290.7,598.6h.7M335.4,618.0h.7M297.7,627.6h.7M314.2,637.3h.7M335.0,636.2h.7M322.5,604.2h.7M290.1,620.2h.7M339.4,620.9h.7M299.0,621.8h.7M308.0,630.2h.7M320.6,643.2h.7M328.2,642.5h.7M298.5,623.2h.7M289.4,597.9h.7M307.4,601.1h.7M324.9,609.5h.7M304.1,601.2h.7M279.6,604.9h.7M281.1,614.9h.7M336.9,632.2h.7M334.4,627.7h.7M279.4,604.1h.7M310.9,596.8h.7M309.4,628.7h.7M310.2,630.2h.7M315.7,637.3h.7M319.4,600.2h.7M319.0,641.2h.7M289.3,616.5h.7M318.6,603.8h.7M278.3,605.8h.7M286.6,619.6h.7M327.7,643.5h.7M282.7,604.0h.7M296.1,595.8h.7M316.2,603.4h.7M311.6,600.3h.7M328.3,609.6h.7M302.6,631.6h.7M316.0,650.1h.7M338.9,644.8h.7M324.3,642.6h.7M286.7,617.3h.7M295.8,601.5h.7M321.0,642.6h.7M285.4,616.6h.7M276.0,604.4h.7M333.6,624.6h.7M292.0,618.1h.7M290.2,616.9h.7M326.9,642.8h.7M304.1,624.3h.7M334.0,638.0h.7M286.8,616.2h.7M289.6,598.1h.7M302.2,624.6h.7M318.0,604.3h.7M284.4,603.0h.7M329.3,643.5h.7M321.6,602.4h.7M277.1,600.9h.7M300.3,623.8h.7M277.2,606.3h.7M292.8,625.3h.7M332.7,616.7h.7M338.9,648.9h.7M331.9,619.3h.7M287.4,603.4h.7M304.5,625.0h.7M334.4,640.0h.7M296.5,623.0h.7M323.4,642.4h.7M316.3,639.1h.7M307.2,629.3h.7M290.6,620.3h.7M327.9,613.6h.7M332.1,618.9h.7M295.4,627.0h.7M306.0,601.0h.7M290.7,620.7h.7M318.9,645.1h.7M317.6,602.9h.7M322.0,643.2h.7M328.6,642.9h.7M332.0,617.0h.7M311.7,601.2h.7M333.5,623.3h.7M320.8,646.8h.7M286.0,604.0h.7M326.0,645.3h.7M328.9,641.9h.7M276.5,611.3h.7M328.9,644.9h.7M307.8,629.1h.7M302.0,597.1h.7M335.5,651.7h.7M280.1,613.9h.7M277.7,613.4h.7M310.8,629.8h.7M329.8,644.5h.7M299.8,601.7h.7M277.0,617.0h.7M304.0,601.3h.7M311.3,601.5h.7M273.8,608.0h.7M313.0,600.2h.7M316.6,644.8h.7M293.8,627.1h.7M321.9,641.9h.7M272.8,610.7h.7M310.2,601.7h.7M314.3,634.5h.7M293.3,617.9h.7M277.2,616.4h.7M310.5,633.8h.7M336.1,634.5h.7M331.4,641.1h.7M283.1,615.4h.7M321.7,645.0h.7M307.6,638.1h.7M285.1,603.2h.7M333.3,622.4h.7M336.5,633.7h.7M333.7,638.1h.7M294.6,618.2h.7M295.3,620.6h.7M308.0,627.0h.7M335.3,618.0h.7M287.1,592.1h.7M285.8,604.3h.7M312.7,602.3h.7M308.2,635.1h.7M286.2,618.8h.7M272.1,608.0h.7M319.7,605.5h.7M318.4,642.3h.7M291.8,600.4h.7M337.6,624.2h.7M316.2,601.7h.7M310.4,641.4h.7M338.8,633.0h.7M332.0,645.4h.7M317.0,602.6h.7M311.4,631.5h.7M339.0,630.2h.7M333.3,640.4h.7M284.3,604.7h.7M286.3,622.3h.7M300.0,595.7h.7M325.3,643.1h.7M298.2,623.5h.7M309.7,598.6h.7M334.5,628.3h.7M273.7,607.2h.7M271.6,612.3h.7M287.4,616.4h.7M272.9,608.7h.7M302.1,622.2h.7M328.0,643.1h.7M333.7,623.8h.7M317.6,639.1h.7M275.3,610.3h.7M291.5,602.1h.7M323.3,643.5h.7M274.9,612.8h.7M303.2,628.8h.7M332.5,619.3h.7M335.2,633.5h.7M323.5,608.1h.7M281.6,618.9h.7M282.1,615.0h.7M331.1,617.5h.7M292.9,621.4h.7M311.7,630.9h.7M334.0,626.6h.7M300.1,624.8h.7M275.7,608.4h.7M327.5,611.8h.7M308.2,627.0h.7M277.5,606.9h.7M339.4,626.6h.7M304.0,627.2h.7M291.5,617.9h.7M286.1,602.3h.7M323.2,606.3h.7M302.8,598.1h.7M328.5,644.0h.7M303.3,597.6h.7M275.7,605.2h.7M326.9,642.6h.7M299.8,630.8h.7M333.1,643.6h.7M331.4,641.6h.7M291.5,600.1h.7M335.8,616.4h.7M276.1,614.6h.7M275.6,614.4h.7M296.6,622.9h.7M276.6,612.7h.7M299.3,600.0h.7M296.7,601.6h.7M320.1,605.8h.7M328.8,643.6h.7M291.4,601.1h.7M333.8,640.1h.7M320.5,604.7h.7M283.9,616.6h.7M335.6,625.6h.7M336.7,636.3h.7M274.4,615.3h.7M336.8,629.9h.7M308.7,632.4h.7M334.4,622.7h.7M300.1,622.5h.7M287.4,601.9h.7M278.8,612.7h.7M283.5,600.3h.7M329.5,643.2h.7M335.9,635.1h.7M338.7,630.0h.7M296.3,627.1h.7M319.6,600.6h.7M332.8,647.8h.7M299.7,598.8h.7M293.4,626.2h.7M334.3,638.5h.7M278.9,606.6h.7M322.4,606.7h.7M313.2,633.2h.7M281.0,600.5h.7M295.4,619.2h.7M327.3,643.9h.7M335.5,635.2h.7M344.9,636.9h.7M338.5,637.9h.7M298.2,620.9h.7M325.1,609.9h.7M297.1,601.9h.7M331.7,641.0h.7M331.1,641.8h.7M315.5,636.8h.7M328.2,613.4h.7M321.3,605.2h.7M307.8,632.0h.7M335.0,618.9h.7M305.6,626.7h.7M287.5,603.8h.7M334.6,625.5h.7M333.4,621.0h.7M273.6,606.4h.7M279.7,605.6h.7M320.2,641.7h.7M290.6,600.2h.7M325.3,607.1h.7M294.6,600.5h.7M296.4,619.9h.7M313.6,635.1h.7M286.0,604.1h.7M308.3,600.1h.7M269.6,607.6h.7M332.4,621.1h.7M339.0,627.6h.7M322.8,602.9h.7M286.9,620.4h.7M286.2,604.0h.7M274.7,615.0h.7M330.6,615.8h.7M325.4,644.9h.7M311.3,630.7h.7M271.6,606.2h.7M273.8,613.2h.7M336.5,617.1h.7M332.4,640.0h.7M333.4,619.0h.7M309.5,639.9h.7M272.9,620.4h.7M301.9,627.6h.7M309.2,600.1h.7M314.9,598.6h.7M324.3,607.8h.7M296.4,600.7h.7M333.1,621.4h.7M274.9,605.3h.7M336.7,629.0h.7M307.5,634.1h.7M311.9,632.8h.7M318.3,640.0h.7M274.1,620.5h.7M276.3,602.0h.7M333.9,640.3h.7M334.0,621.4h.7M291.6,618.1h.7M270.5,613.5h.7M306.0,600.9h.7M270.3,609.5h.7M334.3,640.1h.7M337.7,618.4h.7M292.9,617.7h.7M319.3,604.0h.7M322.9,644.5h.7M277.1,598.8h.7M319.9,641.4h.7M341.5,629.9h.7M304.9,599.6h.7M317.2,640.2h.7M289.0,618.6h.7M302.7,622.6h.7M304.3,624.8h.7M313.2,640.2h.7M312.9,602.5h.7M322.3,603.5h.7M306.2,636.0h.7M315.0,602.9h.7M296.3,619.2h.7M337.6,640.7h.7M280.6,620.0h.7M314.0,602.6h.7M342.3,638.0h.7M290.0,617.7h.7M317.3,603.0h.7M284.0,615.1h.7M278.7,615.0h.7M335.7,618.4h.7M309.3,601.7h.7M287.7,598.8h.7M313.8,634.4h.7M289.2,619.3h.7M303.2,624.9h.7M310.7,596.8h.7M310.5,638.7h.7M334.3,612.7h.7M306.4,631.4h.7M301.8,626.9h.7M334.4,628.9h.7M302.1,625.2h.7M336.9,640.2h.7M291.1,620.7h.7M336.0,636.1h.7M325.9,642.9h.7M283.4,621.5h.7M276.2,604.3h.7M275.3,614.2h.7M276.9,606.7h.7M275.5,610.4h.7M312.2,631.5h.7M278.7,614.0h.7M340.1,637.6h.7M290.1,618.2h.7M302.9,625.0h.7M333.7,640.6h.7M300.0,622.6h.7M298.1,620.1h.7M295.3,599.4h.7M302.1,625.2h.7M305.6,628.1h.7M280.0,605.7h.7M335.7,639.5h.7M290.1,618.8h.7M327.0,642.4h.7M309.0,600.3h.7M281.2,619.5h.7M305.1,599.5h.7M292.4,601.4h.7M330.0,604.6h.7M285.8,603.7h.7M333.2,638.1h.7M326.4,642.5h.7M327.1,612.1h.7M340.7,629.8h.7M300.4,601.0h.7M315.1,645.7h.7M286.3,601.1h.7M326.7,648.0h.7M334.4,628.5h.7M310.3,631.1h.7M333.5,641.3h.7M328.4,611.0h.7M319.1,643.7h.7M310.2,631.3h.7M301.1,623.3h.7M323.8,607.9h.7M335.5,638.5h.7M323.6,646.5h.7M323.7,606.9h.7M311.0,599.8h.7M334.5,633.2h.7M282.5,602.6h.7M314.7,601.5h.7M310.5,636.1h.7M276.2,607.7h.7M276.8,607.1h.7M296.3,622.0h.7M292.6,617.9h.7M325.2,609.3h.7M299.5,620.7h.7M336.2,630.9h.7M281.9,604.9h.7M290.3,619.6h.7M332.7,621.6h.7M329.4,645.0h.7M304.8,625.2h.7M313.1,632.7h.7M283.1,615.5h.7M321.8,642.1h.7M279.2,614.4h.7M276.9,604.7h.7M331.1,616.4h.7M295.5,622.5h.7M316.0,639.3h.7M334.8,634.6h.7M275.2,610.4h.7M306.2,599.7h.7M324.5,643.0h.7M333.1,614.6h.7M283.2,615.7h.7M290.5,618.7h.7M296.2,619.9h.7M312.5,601.5h.7M318.4,604.7h.7M311.8,637.4h.7M303.8,598.9h.7M277.1,604.7h.7M303.4,624.0h.7M315.6,601.6h.7M334.6,629.3h.7M299.4,626.2h.7M289.1,622.0h.7M275.6,614.6h.7M275.1,608.8h.7M323.2,651.1h.7M280.0,614.5h.7M280.0,604.9h.7M273.2,602.9h.7M326.5,643.5h.7M310.2,629.5h.7M288.4,603.4h.7M279.9,601.8h.7M305.9,628.6h.7M299.7,599.6h.7M334.4,634.5h.7M319.2,642.2h.7M336.8,641.3h.7M317.3,602.0h.7M334.9,644.9h.7M333.6,619.5h.7M273.2,607.3h.7M301.7,596.7h.7M331.6,615.2h.7M312.5,634.8h.7M329.5,602.3h.7M273.0,610.2h.7M303.7,623.4h.7M319.2,599.8h.7M306.7,627.8h.7M330.7,615.7h.7M277.9,606.5h.7M324.2,649.5h.7M325.5,607.6h.7M280.7,605.6h.7M329.0,614.4h.7M274.8,603.9h.7M321.9,606.0h.7M296.9,598.6h.7M308.9,599.0h.7M335.5,627.5h.7M322.8,648.9h.7M300.9,621.5h.7M321.8,603.1h.7M336.9,629.1h.7M336.7,629.5h.7M275.0,607.2h.7M309.4,636.8h.7M300.9,638.9h.7M313.3,633.6h.7M322.6,607.2h.7M303.1,627.4h.7M335.7,632.2h.7M321.3,643.3h.7M300.7,601.1h.7M311.8,641.2h.7M333.6,648.5h.7M339.0,630.2h.7M273.0,605.4h.7M326.0,645.3h.7M336.0,639.5h.7M313.2,602.3h.7M278.1,606.9h.7M288.7,600.5h.7M277.9,613.0h.7M332.4,613.0h.7M283.2,604.7h.7M331.1,646.6h.7M334.3,626.5h.7M275.6,609.9h.7M304.5,601.2h.7M303.4,623.7h.7M306.4,625.4h.7M293.4,619.1h.7M280.9,602.1h.7M335.5,628.1h.7M329.4,644.1h.7M270.7,603.7h.7M316.9,638.6h.7M315.2,603.0h.7M316.7,638.3h.7M272.0,608.5h.7M291.9,602.1h.7M334.1,623.0h.7M316.7,599.9h.7M333.6,624.0h.7M334.6,635.0h.7M314.4,634.5h.7M284.0,616.9h.7M330.1,642.6h.7M333.0,638.9h.7M283.8,601.4h.7M320.6,602.5h.7M283.3,618.1h.7M338.2,630.9h.7M270.3,606.2h.7M317.2,640.6h.7M329.0,614.6h.7M319.7,641.2h.7M273.0,610.6h.7M286.2,615.7h.7M289.1,616.5h.7M290.2,603.3h.7M310.9,596.3h.7M286.4,617.8h.7M318.3,604.2h.7M332.5,640.1h.7M296.9,621.5h.7M287.8,603.9h.7M333.5,619.5h.7M318.8,603.8h.7M293.1,618.9h.7M314.9,601.6h.7M333.0,640.3h.7M299.4,601.2h.7M276.5,611.6h.7M273.2,600.3h.7M333.7,637.5h.7M303.2,599.7h.7M292.9,598.9h.7M306.9,638.5h.7M339.5,626.6h.7M314.2,600.7h.7M336.4,642.3h.7M333.9,640.8h.7M331.9,615.3h.7M308.5,600.5h.7M331.7,612.8h.7M305.6,598.4h.7M303.7,623.8h.7M326.5,642.5h.7M275.8,612.3h.7M318.8,641.7h.7M323.9,608.8h.7M298.2,600.1h.7M285.2,604.1h.7M305.6,628.4h.7M335.7,639.3h.7M297.5,601.9h.7M294.8,619.6h.7M320.0,645.3h.7M308.0,627.0h.7M298.7,626.7h.7M322.2,605.7h.7M328.2,612.8h.7M285.3,615.8h.7M334.7,635.7h.7M274.2,609.7h.7M300.2,600.8h.7M280.1,614.7h.7M313.2,596.5h.7M334.1,619.9h.7M308.9,635.3h.7M300.6,631.2h.7M278.3,602.4h.7M331.7,619.8h.7M330.1,612.0h.7M276.5,614.5h.7M329.4,614.5h.7M284.0,621.6h.7M295.1,623.0h.7M296.5,621.4h.7M326.2,610.5h.7M288.2,596.3h.7M308.6,600.9h.7M339.4,628.1h.7M275.2,620.5h.7M283.0,615.1h.7M332.3,642.4h.7M332.1,639.9h.7M274.4,606.4h.7M336.2,630.4h.7M283.8,620.7h.7M337.5,635.0h.7M319.5,604.5h.7M317.7,639.4h.7M278.3,601.7h.7M286.2,604.2h.7M327.1,604.4h.7M291.4,617.9h.7M341.7,613.3h.7M305.7,628.1h.7M332.9,641.5h.7M338.6,635.3h.7M336.3,620.7h.7M285.9,604.1h.7M324.1,603.4h.7M283.2,616.0h.7M313.0,634.1h.7M297.5,597.9h.7M324.5,643.6h.7M281.3,602.8h.7M315.6,637.1h.7M329.9,614.8h.7M317.2,639.9h.7M293.2,623.6h.7M289.6,616.7h.7M317.8,604.1h.7M337.5,634.1h.7M335.6,642.7h.7M283.2,615.7h.7M319.0,641.3h.7M280.7,618.9h.7M278.6,613.0h.7M316.5,603.5h.7M279.4,604.6h.7M288.4,597.4h.7M334.0,625.3h.7M268.2,607.9h.7M322.1,642.1h.7M275.1,610.6h.7M318.3,640.1h.7M287.3,616.3h.7M275.5,608.1h.7M278.9,603.6h.7M317.7,640.8h.7M279.3,617.2h.7M311.8,645.6h.7M292.3,596.1h.7M310.0,598.5h.7M280.9,605.3h.7M286.8,603.4h.7M327.6,643.8h.7M277.5,613.2h.7M326.9,609.8h.7M291.9,618.7h.7M326.2,644.5h.7M322.2,643.1h.7M317.0,639.9h.7M302.8,624.8h.7M275.1,614.2h.7M333.9,639.0h.7M277.6,601.9h.7M280.5,605.8h.7M333.2,621.1h.7M322.0,643.7h.7M333.2,643.2h.7M313.4,633.5h.7M310.3,600.9h.7M331.3,644.8h.7M311.4,636.8h.7M313.3,602.2h.7M332.2,642.3h.7M283.5,602.8h.7M326.0,610.8h.7M314.8,602.0h.7M306.8,630.4h.7M276.2,603.9h.7M277.8,612.1h.7M307.8,627.7h.7M272.1,616.3h.7M334.1,637.3h.7M318.5,643.3h.7M333.6,639.4h.7M277.5,607.4h.7M326.3,610.1h.7M308.8,629.3h.7M271.6,612.7h.7M284.1,593.5h.7M272.6,607.5h.7M324.3,643.8h.7M306.4,625.3h.7M315.2,601.4h.7M331.0,642.3h.7M326.1,645.3h.7M326.1,643.2h.7M316.7,603.3h.7M328.6,642.0h.7M304.3,624.2h.7M306.9,628.1h.7M310.5,630.6h.7M297.2,598.9h.7M293.8,600.7h.7M314.5,640.5h.7M334.5,637.0h.7M291.6,617.6h.7M280.1,615.1h.7M269.5,614.4h.7M264.3,607.2h.7M261.5,610.8h.7M267.7,611.2h.7M261.7,612.4h.7M272.6,612.8h.7M259.8,611.9h.7M268.4,612.1h.7M267.1,611.0h.7M265.8,614.8h.7M272.0,609.5h.7M271.0,609.2h.7M266.7,610.6h.7M272.2,613.1h.7M266.6,618.4h.7M273.0,600.7h.7M278.0,615.8h.7M269.4,611.0h.7M272.8,606.7h.7M266.7,606.8h.7M266.0,611.4h.7M275.7,607.2h.7M256.3,610.3h.7M262.6,608.7h.7M264.2,614.5h.7M273.5,606.0h.7M271.2,611.6h.7M270.3,613.7h.7M277.3,607.0h.7M270.8,612.4h.7M266.4,606.9h.7M262.2,611.1h.7M268.5,615.4h.7M267.5,603.2h.7M262.0,601.6h.7M267.1,613.2h.7M267.9,614.6h.7M254.2,608.4h.7M268.0,598.5h.7M257.8,608.7h.7M259.4,611.0h.7M269.3,607.1h.7M267.7,602.1h.7M260.5,602.8h.7M273.0,616.6h.7M275.3,611.4h.7M280.3,618.5h.7M267.9,607.7h.7M274.7,611.2h.7M259.6,610.8h.7M275.8,611.0h.7M261.8,616.0h.7M271.4,615.6h.7M269.8,608.7h.7M266.6,620.4h.7M279.7,615.1h.7M272.6,617.0h.7M260.5,608.8h.7M275.3,607.5h.7M262.0,609.7h.7M268.5,610.6h.7M263.6,608.1h.7M269.7,607.9h.7M276.1,615.5h.7M271.8,608.9h.7M274.9,612.7h.7M257.8,612.1h.7M271.5,612.3h.7M273.4,605.6h.7M269.1,615.0h.7M271.4,609.9h.7M263.5,609.7h.7M274.2,606.8h.7M274.4,609.1h.7M258.0,610.3h.7M278.8,617.5h.7M265.8,611.9h.7M269.6,617.8h.7M272.1,612.8h.7M259.2,608.6h.7M259.8,610.5h.7M251.0,608.7h.7M266.0,607.0h.7M267.6,605.7h.7M277.6,612.9h.7M272.7,608.8h.7M261.0,603.9h.7M268.8,611.3h.7M270.8,616.5h.7M272.6,616.8h.7M270.4,609.7h.7M264.3,608.8h.7M277.9,605.5h.7M258.2,617.6h.7M260.1,606.3h.7M264.8,607.7h.7M259.6,601.2h.7M268.4,610.3h.7M265.6,613.0h.7M265.5,607.1h.7M269.9,619.1h.7M267.1,611.6h.7M263.7,608.2h.7M265.6,606.8h.7M262.3,608.6h.7M274.5,612.6h.7M268.0,608.9h.7M265.6,612.9h.7M272.6,611.0h.7M272.1,612.9h.7M266.4,611.9h.7M255.9,611.1h.7M272.7,605.8h.7M267.3,614.4h.7M266.0,608.9h.7M275.4,602.7h.7M263.7,612.6h.7M266.3,610.7h.7M280.3,605.3h.7M268.1,606.6h.7M274.0,608.0h.7M266.9,599.1h.7M271.0,604.4h.7M272.1,614.7h.7M270.1,606.6h.7M276.2,615.7h.7M273.9,604.8h.7M264.4,608.1h.7M272.6,603.8h.7M259.4,607.9h.7M273.0,605.4h.7M256.0,611.6h.7M272.3,608.2h.7M269.4,611.9h.7M262.6,609.6h.7M269.8,607.3h.7M254.7,610.0h.7M269.1,616.6h.7M260.8,602.9h.7M272.7,614.4h.7M278.6,606.2h.7M270.9,613.0h.7M274.1,609.5h.7M261.8,611.9h.7M263.3,605.3h.7M256.8,619.3h.7M271.2,605.7h.7M262.2,611.1h.7M270.7,606.7h.7M257.1,608.5h.7M273.4,610.8h.7M274.3,611.3h.7M267.9,619.7h.7M274.7,618.7h.7M263.8,608.3h.7M264.9,612.2h.7M270.2,609.7h.7M249.4,613.9h.7M264.0,610.1h.7M253.4,616.2h.7M258.9,616.0h.7M262.3,614.5h.7M253.3,614.0h.7M261.7,611.0h.7M273.1,611.9h.7M273.3,606.1h.7M256.6,610.1h.7M261.0,611.7h.7M269.6,606.0h.7M273.6,613.9h.7M277.9,607.1h.7M280.6,605.4h.7M261.9,605.8h.7M272.5,608.9h.7M273.6,613.3h.7M249.7,602.6h.7M280.2,614.3h.7M273.5,611.5h.7M267.4,607.8h.7M269.5,606.3h.7M267.6,604.7h.7M274.0,613.9h.7M265.2,606.0h.7M252.9,606.8h.7M268.2,604.4h.7M265.0,616.4h.7M262.0,608.9h.7M274.8,606.5h.7M264.4,607.4h.7M271.7,598.0h.7M260.0,609.3h.7M266.4,607.1h.7M277.1,605.2h.7M272.5,604.0h.7M267.9,613.9h.7M269.3,608.3h.7M271.0,614.3h.7M275.3,607.5h.7M269.4,607.6h.7M273.2,607.8h.7M274.0,612.7h.7M274.0,608.9h.7M273.1,619.9h.7M259.7,616.3h.7M273.2,618.5h.7M267.5,616.4h.7M270.7,613.4h.7M267.2,602.6h.7M266.5,607.0h.7M270.8,607.1h.7M269.9,610.3h.7M261.7,614.5h.7M249.8,610.5h.7M267.7,608.0h.7M261.1,619.4h.7M263.8,610.4h.7M267.0,614.9h.7M267.9,610.3h.7M270.6,605.5h.7M260.8,614.4h.7M277.9,607.2h.7M267.1,608.1h.7M271.0,606.9h.7M275.5,604.8h.7M257.8,612.9h.7M258.6,605.6h.7M272.7,610.8h.7M248.3,611.3h.7M264.4,605.9h.7M266.4,614.0h.7M259.1,612.3h.7M267.5,607.2h.7M265.6,615.4h.7M270.8,607.9h.7M270.0,609.0h.7M264.4,615.0h.7M267.3,603.7h.7M270.2,612.3h.7M272.0,606.2h.7M276.5,597.4h.7M258.0,609.9h.7M275.2,609.1h.7M273.1,610.6h.7M271.0,608.8h.7M264.7,609.5h.7M262.7,605.3h.7M269.5,611.9h.7M276.0,605.9h.7M267.3,610.3h.7M265.9,609.6h.7M265.7,607.8h.7M270.9,610.4h.7M273.7,602.8h.7M264.1,610.5h.7M276.8,607.3h.7M276.8,612.8h.7M265.2,607.2h.7M267.1,607.6h.7M265.0,614.0h.7M274.5,608.2h.7M267.9,610.7h.7M273.0,618.0h.7M261.0,619.0h.7M260.8,612.9h.7M273.4,607.0h.7M265.1,611.5h.7M275.9,615.9h.7M268.5,609.5h.7M264.7,608.9h.7M255.6,616.8h.7M266.9,611.5h.7M261.7,612.4h.7M273.5,615.1h.7M258.1,611.3h.7M264.9,602.4h.7M275.3,609.5h.7M255.8,613.0h.7M268.9,607.5h.7M269.3,610.5h.7M269.5,611.1h.7M277.5,614.0h.7M263.9,609.1h.7M277.6,600.0h.7M262.6,609.7h.7M261.4,613.1h.7M261.2,604.5h.7M274.1,609.2h.7M272.2,605.1h.7M270.4,611.1h.7M259.4,598.2h.7M277.1,607.0h.7M254.5,614.2h.7M252.6,609.8h.7M262.2,606.8h.7M269.7,613.6h.7M278.4,616.9h.7M268.1,617.3h.7M276.0,608.3h.7M277.3,613.2h.7M281.5,617.9h.7M257.4,610.6h.7M275.7,619.0h.7M274.3,605.8h.7M266.0,604.2h.7M270.9,606.7h.7M262.4,607.6h.7M278.0,612.5h.7M262.0,610.5h.7M274.7,610.0h.7M270.8,611.0h.7M258.2,616.3h.7M268.6,615.6h.7M266.6,614.0h.7M271.6,605.9h.7M262.8,611.7h.7M275.3,609.7h.7M267.6,601.6h.7M266.1,613.7h.7M263.4,604.3h.7M268.2,612.9h.7M260.9,607.9h.7M270.8,607.5h.7M271.1,614.1h.7M277.6,607.2h.7M262.5,609.1h.7M267.2,607.2h.7M263.5,609.2h.7M265.3,610.2h.7M268.5,610.2h.7M272.0,607.5h.7M271.8,610.9h.7M275.2,611.7h.7M273.4,605.9h.7M273.6,609.1h.7M274.0,602.9h.7M262.7,622.5h.7M281.2,605.1h.7M271.2,601.3h.7M276.2,612.4h.7M272.9,612.8h.7M271.6,605.6h.7M271.3,605.6h.7M271.9,610.2h.7M259.2,608.6h.7M259.3,613.7h.7M265.2,615.1h.7M254.4,615.2h.7M273.4,609.9h.7M263.0,613.9h.7M276.7,615.8h.7M270.8,612.7h.7M270.6,612.4h.7M258.6,610.0h.7M253.7,607.5h.7M273.8,610.9h.7M282.8,615.8h.7M276.9,617.2h.7M276.0,611.5h.7M263.5,610.4h.7M268.3,608.5h.7M262.2,608.3h.7M272.3,612.1h.7M270.3,611.4h.7M269.5,612.6h.7M260.2,613.7h.7M260.9,609.9h.7M264.8,608.1h.7M269.2,610.8h.7M286.8,622.3h.7M292.1,621.1h.7M299.6,634.7h.7M296.0,624.4h.7M291.1,618.8h.7M311.8,631.4h.7M285.7,619.3h.7M288.2,617.8h.7M278.0,615.2h.7M288.1,617.6h.7M294.8,625.2h.7M307.7,634.9h.7M283.8,615.5h.7M300.4,625.6h.7M295.7,629.2h.7M296.7,624.9h.7M291.9,618.6h.7M299.7,622.3h.7M287.2,617.8h.7M285.1,618.9h.7M296.5,624.5h.7M303.8,632.5h.7M308.4,629.1h.7M309.3,632.5h.7M288.6,618.3h.7M295.7,626.3h.7M294.8,621.2h.7M289.1,620.5h.7M292.0,619.1h.7M308.9,632.7h.7M285.7,623.5h.7M306.1,633.1h.7M303.4,628.3h.7M309.4,630.4h.7M278.6,616.2h.7M295.9,625.3h.7M305.3,626.7h.7M305.1,626.6h.7M300.0,623.7h.7M291.2,627.9h.7M301.0,624.6h.7M311.8,633.7h.7M272.4,614.3h.7M306.4,626.3h.7M282.2,616.6h.7M295.6,621.3h.7M288.2,618.8h.7M290.0,627.0h.7M285.3,617.8h.7M282.2,618.6h.7M284.5,618.3h.7M301.2,624.3h.7M287.0,618.3h.7M292.6,625.1h.7M271.9,613.5h.7M303.5,624.6h.7M280.1,625.7h.7M305.5,627.2h.7M284.3,622.0h.7M307.7,634.0h.7M278.0,614.2h.7M273.7,612.8h.7M299.9,625.9h.7M298.6,628.0h.7M295.8,622.6h.7M298.8,621.8h.7M272.5,597.1h.7M293.7,627.1h.7M276.8,614.2h.7M296.1,628.2h.7M293.7,623.3h.7M297.8,629.1h.7M271.2,612.7h.7M296.9,626.1h.7M276.1,608.1h.7M308.0,627.1h.7M288.4,621.4h.7M290.5,621.0h.7M316.8,639.3h.7M302.3,630.7h.7M297.3,623.0h.7M311.3,638.5h.7M289.4,626.4h.7M298.1,620.3h.7M291.2,619.3h.7M295.8,636.4h.7M293.4,619.7h.7M297.5,625.4h.7M304.9,626.2h.7M268.0,607.5h.7M313.6,636.4h.7M299.6,621.4h.7M304.2,636.1h.7M313.1,635.9h.7M303.7,628.4h.7M274.5,615.7h.7M277.3,614.8h.7M295.7,629.5h.7M312.5,634.3h.7M286.0,619.2h.7M293.6,627.7h.7M286.2,624.0h.7M278.2,618.9h.7M315.0,637.6h.7M283.2,620.1h.7M297.1,626.5h.7M270.6,613.8h.7M295.5,632.1h.7M282.4,623.1h.7M339.3,644.5h.7M297.3,622.2h.7M282.9,618.2h.7M280.9,615.8h.7M305.3,638.3h.7M299.0,624.4h.7M286.5,619.9h.7M298.7,629.9h.7M295.6,621.4h.7M303.3,631.1h.7M305.8,632.1h.7M299.6,622.3h.7M300.4,632.1h.7M300.9,625.4h.7M279.2,624.4h.7M272.0,612.1h.7M308.5,629.3h.7M306.1,637.9h.7M307.3,632.0h.7M299.9,625.3h.7M285.1,618.9h.7M294.4,621.7h.7M292.8,619.5h.7M287.4,616.7h.7M263.0,607.8h.7M302.5,623.0h.7M304.7,628.1h.7M290.4,625.4h.7M296.8,626.4h.7M295.7,636.1h.7M284.5,622.0h.7M301.6,636.3h.7M305.2,626.1h.7M273.8,615.2h.7M295.9,632.3h.7M272.5,611.2h.7M286.2,620.9h.7M294.2,625.4h.7M301.0,626.8h.7M304.7,634.5h.7M285.8,628.1h.7M307.4,628.9h.7M295.1,622.8h.7M295.2,619.8h.7M282.7,616.9h.7M281.0,615.9h.7M301.7,632.5h.7M299.8,623.7h.7M289.6,619.3h.7M291.2,627.8h.7M270.1,608.1h.7M266.2,601.3h.7M306.2,630.5h.7M293.1,626.6h.7M297.6,625.9h.7M274.8,607.4h.7M292.1,623.6h.7M304.1,626.6h.7M290.8,621.1h.7M305.2,629.8h.7M275.0,607.0h.7M293.0,624.2h.7M294.0,627.8h.7M291.9,619.9h.7M303.6,631.3h.7M299.2,623.0h.7M295.0,628.4h.7M273.0,612.0h.7M299.6,631.2h.7M273.1,616.8h.7M292.4,618.2h.7M289.0,621.4h.7M299.3,624.0h.7M282.8,619.2h.7M285.6,622.5h.7M278.9,624.5h.7M306.6,634.1h.7M291.6,628.2h.7M277.6,619.4h.7M294.9,625.2h.7M295.0,625.7h.7M275.9,612.5h.7M300.4,625.6h.7M294.6,622.1h.7M272.2,623.6h.7M276.3,603.6h.7M279.1,617.4h.7M301.1,624.7h.7M284.0,617.0h.7M298.0,622.2h.7M298.8,623.7h.7M290.1,622.8h.7M296.4,629.4h.7M300.4,622.3h.7M279.1,624.1h.7M294.9,622.9h.7M304.6,624.3h.7M289.9,625.9h.7M288.1,628.0h.7M307.5,634.1h.7M298.6,638.2h.7M307.3,633.0h.7M299.2,621.9h.7M277.6,623.7h.7M274.7,609.8h.7M287.6,618.2h.7M280.4,615.5h.7M293.7,620.1h.7M300.1,624.2h.7M278.8,620.2h.7M282.2,614.9h.7M302.1,623.8h.7M303.8,628.7h.7M285.1,623.1h.7M306.2,635.1h.7M287.7,620.5h.7M290.3,617.8h.7M281.8,619.7h.7M291.0,622.8h.7M296.8,625.2h.7M304.2,625.5h.7M301.5,625.3h.7M291.2,624.3h.7M271.9,618.1h.7M258.4,602.5h.7M304.1,625.4h.7M308.2,633.2h.7M306.9,627.4h.7M300.6,624.2h.7M281.8,616.2h.7M287.3,624.4h.7M273.0,622.8h.7M273.1,613.5h.7M275.1,619.0h.7M273.4,607.9h.7M292.4,621.2h.7M287.7,624.9h.7M316.2,638.0h.7M287.0,617.2h.7M287.0,620.3h.7M282.5,617.2h.7M274.7,604.3h.7M298.1,631.0h.7M303.8,628.7h.7M292.7,622.2h.7M287.0,624.8h.7M290.9,622.0h.7M297.5,629.4h.7M302.5,633.8h.7M292.3,626.4h.7M308.8,632.6h.7M291.5,631.8h.7M284.2,619.3h.7M287.2,621.2h.7M285.3,624.8h.7M281.0,614.5h.7M298.4,627.7h.7M295.2,621.1h.7M307.5,627.7h.7M281.2,616.9h.7M310.9,637.5h.7M291.8,618.0h.7M278.1,621.0h.7M292.5,618.9h.7M292.7,626.4h.7M288.9,622.7h.7M308.1,630.8h.7M300.9,632.2h.7M289.5,626.0h.7M297.3,626.0h.7M293.0,622.2h.7M283.8,619.6h.7M285.6,624.2h.7M284.0,620.0h.7M285.1,620.1h.7M288.5,622.7h.7M292.2,622.5h.7M292.5,625.6h.7M287.0,617.0h.7M307.5,636.3h.7M293.5,622.2h.7M296.6,627.1h.7M278.3,621.3h.7M283.0,619.4h.7M287.1,623.4h.7M294.3,622.0h.7M309.0,629.7h.7M281.8,618.7h.7M289.8,626.8h.7M295.3,630.6h.7M276.3,617.9h.7M286.6,619.1h.7M285.1,621.7h.7M285.6,622.2h.7M287.6,623.2h.7M299.0,624.7h.7M294.6,625.9h.7M296.8,628.7h.7M293.2,626.7h.7M299.4,625.6h.7M292.0,622.8h.7M295.2,625.9h.7M273.6,626.3h.7M297.3,626.6h.7M278.9,615.5h.7M284.4,625.2h.7M299.7,627.4h.7M290.9,617.1h.7M287.0,618.1h.7M303.3,625.9h.7M294.7,626.7h.7M299.3,627.7h.7" stroke="#333" stroke-width="0.7" fill="none" opacity="0.8"/>
<path d="M275.10,608.80 C275.73,608.02 278.07,607.07 280.00,606.30 C281.93,605.53 284.20,604.87 286.70,604.20 C289.20,603.53 292.17,602.77 295.00,602.30 C297.83,601.83 301.12,601.47 303.70,601.40 C306.28,601.33 308.40,601.53 310.50,601.90 C312.60,602.27 314.38,602.75 316.30,603.60 C318.22,604.45 320.23,605.60 322.00,607.00 C323.77,608.40 325.43,610.17 326.90,612.00 C328.37,613.83 329.73,616.05 330.80,618.00 C331.87,619.95 332.67,621.70 333.30,623.70 C333.93,625.70 334.43,628.07 334.60,630.00 C334.77,631.93 334.60,633.77 334.30,635.30 C334.00,636.83 333.50,638.15 332.80,639.20 C332.10,640.25 331.32,641.03 330.10,641.60 C328.88,642.17 327.08,642.60 325.50,642.60 C323.92,642.60 322.02,642.28 320.60,641.60 C319.18,640.92 318.07,639.73 317.00,638.50 C315.93,637.27 315.28,635.78 314.20,634.20 C313.12,632.62 311.90,630.58 310.50,629.00 C309.10,627.42 307.47,626.03 305.80,624.70 C304.13,623.37 302.27,622.05 300.50,621.00 C298.73,619.95 296.95,619.13 295.20,618.40 C293.45,617.67 291.77,617.13 290.00,616.60 C288.23,616.07 286.27,615.73 284.60,615.20 C282.93,614.67 281.40,614.10 280.00,613.40 C278.60,612.70 277.02,611.77 276.20,611.00 C275.38,610.23 274.47,609.58 275.10,608.80Z" fill="#0a0a0a" stroke="#0a0a0a" stroke-width="0.9"/>
<clipPath id="clipF"><path d="M275.10,608.80 C275.73,608.02 278.07,607.07 280.00,606.30 C281.93,605.53 284.20,604.87 286.70,604.20 C289.20,603.53 292.17,602.77 295.00,602.30 C297.83,601.83 301.12,601.47 303.70,601.40 C306.28,601.33 308.40,601.53 310.50,601.90 C312.60,602.27 314.38,602.75 316.30,603.60 C318.22,604.45 320.23,605.60 322.00,607.00 C323.77,608.40 325.43,610.17 326.90,612.00 C328.37,613.83 329.73,616.05 330.80,618.00 C331.87,619.95 332.67,621.70 333.30,623.70 C333.93,625.70 334.43,628.07 334.60,630.00 C334.77,631.93 334.60,633.77 334.30,635.30 C334.00,636.83 333.50,638.15 332.80,639.20 C332.10,640.25 331.32,641.03 330.10,641.60 C328.88,642.17 327.08,642.60 325.50,642.60 C323.92,642.60 322.02,642.28 320.60,641.60 C319.18,640.92 318.07,639.73 317.00,638.50 C315.93,637.27 315.28,635.78 314.20,634.20 C313.12,632.62 311.90,630.58 310.50,629.00 C309.10,627.42 307.47,626.03 305.80,624.70 C304.13,623.37 302.27,622.05 300.50,621.00 C298.73,619.95 296.95,619.13 295.20,618.40 C293.45,617.67 291.77,617.13 290.00,616.60 C288.23,616.07 286.27,615.73 284.60,615.20 C282.93,614.67 281.40,614.10 280.00,613.40 C278.60,612.70 277.02,611.77 276.20,611.00 C275.38,610.23 274.47,609.58 275.10,608.80Z"/></clipPath>
<g clip-path="url(#clipF)"><g filter="url(#bl)">
<path d="M275.10,608.80 C275.73,608.02 278.07,607.07 280.00,606.30 C281.93,605.53 284.20,604.87 286.70,604.20 C289.20,603.53 292.17,602.77 295.00,602.30 C297.83,601.83 301.12,601.47 303.70,601.40 C306.28,601.33 308.40,601.53 310.50,601.90 C312.60,602.27 314.38,602.75 316.30,603.60 C318.22,604.45 320.23,605.60 322.00,607.00 C323.77,608.40 325.43,610.17 326.90,612.00 C328.37,613.83 329.73,616.05 330.80,618.00 C331.87,619.95 332.67,621.70 333.30,623.70 C333.93,625.70 334.43,628.07 334.60,630.00 C334.77,631.93 334.60,633.77 334.30,635.30 C334.00,636.83 333.50,638.15 332.80,639.20 C332.10,640.25 331.32,641.03 330.10,641.60 C328.88,642.17 327.08,642.60 325.50,642.60 C323.92,642.60 322.02,642.28 320.60,641.60 C319.18,640.92 318.07,639.73 317.00,638.50 C315.93,637.27 315.28,635.78 314.20,634.20 C313.12,632.62 311.90,630.58 310.50,629.00 C309.10,627.42 307.47,626.03 305.80,624.70 C304.13,623.37 302.27,622.05 300.50,621.00 C298.73,619.95 296.95,619.13 295.20,618.40 C293.45,617.67 291.77,617.13 290.00,616.60 C288.23,616.07 286.27,615.73 284.60,615.20 C282.93,614.67 281.40,614.10 280.00,613.40 C278.60,612.70 277.02,611.77 276.20,611.00 C275.38,610.23 274.47,609.58 275.10,608.80Z" fill="#e4e4e4"/>
<path d="M275.10,608.80 C275.73,608.02 278.07,607.07 280.00,606.30 C281.93,605.53 284.20,604.87 286.70,604.20 C289.20,603.53 292.17,602.77 295.00,602.30 C297.83,601.83 301.12,601.47 303.70,601.40 C306.28,601.33 308.40,601.53 310.50,601.90 C312.60,602.27 314.38,602.75 316.30,603.60 C318.22,604.45 320.23,605.60 322.00,607.00 C323.77,608.40 325.43,610.17 326.90,612.00 C328.37,613.83 329.73,616.05 330.80,618.00 C331.87,619.95 332.67,621.70 333.30,623.70 C333.93,625.70 334.43,628.07 334.60,630.00 C334.77,631.93 334.60,633.77 334.30,635.30 C334.00,636.83 333.50,638.15 332.80,639.20 C332.10,640.25 331.32,641.03 330.10,641.60 C328.88,642.17 327.08,642.60 325.50,642.60 C323.92,642.60 322.02,642.28 320.60,641.60 C319.18,640.92 318.07,639.73 317.00,638.50 C315.93,637.27 315.28,635.78 314.20,634.20 C313.12,632.62 311.90,630.58 310.50,629.00 C309.10,627.42 307.47,626.03 305.80,624.70 C304.13,623.37 302.27,622.05 300.50,621.00 C298.73,619.95 296.95,619.13 295.20,618.40 C293.45,617.67 291.77,617.13 290.00,616.60 C288.23,616.07 286.27,615.73 284.60,615.20 C282.93,614.67 281.40,614.10 280.00,613.40 C278.60,612.70 277.02,611.77 276.20,611.00 C275.38,610.23 274.47,609.58 275.10,608.80Z" fill="none" stroke="#dcdcdc" stroke-width="11" stroke-linejoin="round"/>
<path d="M275.10,608.80 C275.73,608.02 278.07,607.07 280.00,606.30 C281.93,605.53 284.20,604.87 286.70,604.20 C289.20,603.53 292.17,602.77 295.00,602.30 C297.83,601.83 301.12,601.47 303.70,601.40 C306.28,601.33 308.40,601.53 310.50,601.90 C312.60,602.27 314.38,602.75 316.30,603.60 C318.22,604.45 320.23,605.60 322.00,607.00 C323.77,608.40 325.43,610.17 326.90,612.00 C328.37,613.83 329.73,616.05 330.80,618.00 C331.87,619.95 332.67,621.70 333.30,623.70 C333.93,625.70 334.43,628.07 334.60,630.00 C334.77,631.93 334.60,633.77 334.30,635.30 C334.00,636.83 333.50,638.15 332.80,639.20 C332.10,640.25 331.32,641.03 330.10,641.60 C328.88,642.17 327.08,642.60 325.50,642.60 C323.92,642.60 322.02,642.28 320.60,641.60 C319.18,640.92 318.07,639.73 317.00,638.50 C315.93,637.27 315.28,635.78 314.20,634.20 C313.12,632.62 311.90,630.58 310.50,629.00 C309.10,627.42 307.47,626.03 305.80,624.70 C304.13,623.37 302.27,622.05 300.50,621.00 C298.73,619.95 296.95,619.13 295.20,618.40 C293.45,617.67 291.77,617.13 290.00,616.60 C288.23,616.07 286.27,615.73 284.60,615.20 C282.93,614.67 281.40,614.10 280.00,613.40 C278.60,612.70 277.02,611.77 276.20,611.00 C275.38,610.23 274.47,609.58 275.10,608.80Z" fill="none" stroke="#c4c4c4" stroke-width="8" stroke-linejoin="round"/>
<path d="M275.10,608.80 C275.73,608.02 278.07,607.07 280.00,606.30 C281.93,605.53 284.20,604.87 286.70,604.20 C289.20,603.53 292.17,602.77 295.00,602.30 C297.83,601.83 301.12,601.47 303.70,601.40 C306.28,601.33 308.40,601.53 310.50,601.90 C312.60,602.27 314.38,602.75 316.30,603.60 C318.22,604.45 320.23,605.60 322.00,607.00 C323.77,608.40 325.43,610.17 326.90,612.00 C328.37,613.83 329.73,616.05 330.80,618.00 C331.87,619.95 332.67,621.70 333.30,623.70 C333.93,625.70 334.43,628.07 334.60,630.00 C334.77,631.93 334.60,633.77 334.30,635.30 C334.00,636.83 333.50,638.15 332.80,639.20 C332.10,640.25 331.32,641.03 330.10,641.60 C328.88,642.17 327.08,642.60 325.50,642.60 C323.92,642.60 322.02,642.28 320.60,641.60 C319.18,640.92 318.07,639.73 317.00,638.50 C315.93,637.27 315.28,635.78 314.20,634.20 C313.12,632.62 311.90,630.58 310.50,629.00 C309.10,627.42 307.47,626.03 305.80,624.70 C304.13,623.37 302.27,622.05 300.50,621.00 C298.73,619.95 296.95,619.13 295.20,618.40 C293.45,617.67 291.77,617.13 290.00,616.60 C288.23,616.07 286.27,615.73 284.60,615.20 C282.93,614.67 281.40,614.10 280.00,613.40 C278.60,612.70 277.02,611.77 276.20,611.00 C275.38,610.23 274.47,609.58 275.10,608.80Z" fill="none" stroke="#a0a0a0" stroke-width="5.6" stroke-linejoin="round"/>
<path d="M275.10,608.80 C275.73,608.02 278.07,607.07 280.00,606.30 C281.93,605.53 284.20,604.87 286.70,604.20 C289.20,603.53 292.17,602.77 295.00,602.30 C297.83,601.83 301.12,601.47 303.70,601.40 C306.28,601.33 308.40,601.53 310.50,601.90 C312.60,602.27 314.38,602.75 316.30,603.60 C318.22,604.45 320.23,605.60 322.00,607.00 C323.77,608.40 325.43,610.17 326.90,612.00 C328.37,613.83 329.73,616.05 330.80,618.00 C331.87,619.95 332.67,621.70 333.30,623.70 C333.93,625.70 334.43,628.07 334.60,630.00 C334.77,631.93 334.60,633.77 334.30,635.30 C334.00,636.83 333.50,638.15 332.80,639.20 C332.10,640.25 331.32,641.03 330.10,641.60 C328.88,642.17 327.08,642.60 325.50,642.60 C323.92,642.60 322.02,642.28 320.60,641.60 C319.18,640.92 318.07,639.73 317.00,638.50 C315.93,637.27 315.28,635.78 314.20,634.20 C313.12,632.62 311.90,630.58 310.50,629.00 C309.10,627.42 307.47,626.03 305.80,624.70 C304.13,623.37 302.27,622.05 300.50,621.00 C298.73,619.95 296.95,619.13 295.20,618.40 C293.45,617.67 291.77,617.13 290.00,616.60 C288.23,616.07 286.27,615.73 284.60,615.20 C282.93,614.67 281.40,614.10 280.00,613.40 C278.60,612.70 277.02,611.77 276.20,611.00 C275.38,610.23 274.47,609.58 275.10,608.80Z" fill="none" stroke="#686868" stroke-width="3.6" stroke-linejoin="round"/>
</g>
<path d="M275.10,608.80 C275.73,608.02 278.07,607.07 280.00,606.30 C281.93,605.53 284.20,604.87 286.70,604.20 C289.20,603.53 292.17,602.77 295.00,602.30 C297.83,601.83 301.12,601.47 303.70,601.40 C306.28,601.33 308.40,601.53 310.50,601.90 C312.60,602.27 314.38,602.75 316.30,603.60 C318.22,604.45 320.23,605.60 322.00,607.00 C323.77,608.40 325.43,610.17 326.90,612.00 C328.37,613.83 329.73,616.05 330.80,618.00 C331.87,619.95 332.67,621.70 333.30,623.70 C333.93,625.70 334.43,628.07 334.60,630.00 C334.77,631.93 334.60,633.77 334.30,635.30 C334.00,636.83 333.50,638.15 332.80,639.20 C332.10,640.25 331.32,641.03 330.10,641.60 C328.88,642.17 327.08,642.60 325.50,642.60 C323.92,642.60 322.02,642.28 320.60,641.60 C319.18,640.92 318.07,639.73 317.00,638.50 C315.93,637.27 315.28,635.78 314.20,634.20 C313.12,632.62 311.90,630.58 310.50,629.00 C309.10,627.42 307.47,626.03 305.80,624.70 C304.13,623.37 302.27,622.05 300.50,621.00 C298.73,619.95 296.95,619.13 295.20,618.40 C293.45,617.67 291.77,617.13 290.00,616.60 C288.23,616.07 286.27,615.73 284.60,615.20 C282.93,614.67 281.40,614.10 280.00,613.40 C278.60,612.70 277.02,611.77 276.20,611.00 C275.38,610.23 274.47,609.58 275.10,608.80Z" fill="none" stroke="#0a0a0a" stroke-width="2.0" stroke-linejoin="round"/>
</g>
<g filter="url(#bl2)">
<path d="M302.00,610.40 C302.72,609.87 304.30,609.32 305.50,609.00 C306.70,608.68 307.92,608.45 309.20,608.50 C310.48,608.55 311.92,608.90 313.20,609.30 C314.48,609.70 315.68,610.15 316.90,610.90 C318.12,611.65 319.37,612.77 320.50,613.80 C321.63,614.83 322.72,615.93 323.70,617.10 C324.68,618.27 325.60,619.52 326.40,620.80 C327.20,622.08 327.98,623.40 328.50,624.80 C329.02,626.20 329.35,627.75 329.50,629.20 C329.65,630.65 329.58,632.38 329.40,633.50 C329.22,634.62 328.88,635.27 328.40,635.90 C327.92,636.53 327.30,637.05 326.50,637.30 C325.70,637.55 324.55,637.57 323.60,637.40 C322.65,637.23 321.62,636.92 320.80,636.30 C319.98,635.68 319.35,634.65 318.70,633.70 C318.05,632.75 317.58,631.70 316.90,630.60 C316.22,629.50 315.40,628.23 314.60,627.10 C313.80,625.97 312.98,624.85 312.10,623.80 C311.22,622.75 310.27,621.75 309.30,620.80 C308.33,619.85 307.27,618.87 306.30,618.10 C305.33,617.33 304.30,616.85 303.50,616.20 C302.70,615.55 301.88,614.87 301.50,614.20 C301.12,613.53 301.12,612.83 301.20,612.20 C301.28,611.57 301.28,610.93 302.00,610.40Z" fill="#9c9c9c" stroke="#ffffff" stroke-width="1.05"/>
<path d="M305.30,611.60 C305.97,611.07 308.05,610.65 309.50,610.60 C310.95,610.55 312.53,610.68 314.00,611.30 C315.47,611.92 316.97,613.13 318.30,614.30 C319.63,615.47 320.88,616.92 322.00,618.30 C323.12,619.68 324.17,621.15 325.00,622.60 C325.83,624.05 326.57,625.60 327.00,627.00 C327.43,628.40 327.70,630.08 327.60,631.00 C327.50,631.92 327.08,632.42 326.40,632.50 C325.72,632.58 324.40,632.25 323.50,631.50 C322.60,630.75 321.92,629.30 321.00,628.00 C320.08,626.70 319.08,624.95 318.00,623.70 C316.92,622.45 315.67,621.40 314.50,620.50 C313.33,619.60 312.12,619.05 311.00,618.30 C309.88,617.55 308.72,616.75 307.80,616.00 C306.88,615.25 305.92,614.53 305.50,613.80 C305.08,613.07 304.63,612.13 305.30,611.60Z" fill="#858585" stroke="#ffffff" stroke-width="1.05"/>
<path d="M308.60,612.60 C309.17,612.30 310.83,611.93 312.00,612.20 C313.17,612.47 314.60,613.32 315.60,614.20 C316.60,615.08 317.85,616.65 318.00,617.50 C318.15,618.35 317.27,619.17 316.50,619.30 C315.73,619.43 314.40,618.85 313.40,618.30 C312.40,617.75 311.30,616.72 310.50,616.00 C309.70,615.28 308.92,614.57 308.60,614.00 C308.28,613.43 308.03,612.90 308.60,612.60Z" fill="#b5b5b5" stroke="#ffffff" stroke-width="1.05"/>
<path d="M319.00,619.00 C319.30,618.72 320.77,619.77 321.60,620.60 C322.43,621.43 323.33,622.82 324.00,624.00 C324.67,625.18 325.33,626.77 325.60,627.70 C325.87,628.63 325.87,629.45 325.60,629.60 C325.33,629.75 324.60,629.28 324.00,628.60 C323.40,627.92 322.70,626.55 322.00,625.50 C321.30,624.45 320.30,623.38 319.80,622.30 C319.30,621.22 318.70,619.28 319.00,619.00Z" fill="#3a3a3a" stroke="#ccc" stroke-width="0.5"/>
<path d="M319.30,632.60 C319.43,632.45 320.28,633.90 321.00,634.30 C321.72,634.70 322.73,635.02 323.60,635.00 C324.47,634.98 325.42,634.67 326.20,634.20 C326.98,633.73 327.97,632.07 328.30,632.20 C328.63,632.33 328.58,634.27 328.20,635.00 C327.82,635.73 326.90,636.33 326.00,636.60 C325.10,636.87 323.77,636.83 322.80,636.60 C321.83,636.37 320.78,635.87 320.20,635.20 C319.62,634.53 319.17,632.75 319.30,632.60Z" fill="#666" stroke="#f4f4f4" stroke-width="0.8"/>
</g>
<path d="M274.8,608.8 L280,606.8 L282.5,607.8 L285.5,609.6 L282.5,611.6 L280,612.6 L276.5,611 Z" fill="#0a0a0a" filter="url(#bl2)"/>
<rect x="263.00" y="605.70" width="12.10" height="10.60" fill="none" stroke="#3a3a3a" stroke-width="0.9"/>
<rect x="284.60" y="606.00" width="13.80" height="9.40" fill="none" stroke="#3a3a3a" stroke-width="0.8"/>
<rect x="300.50" y="609.90" width="15.80" height="10.60" fill="none" stroke="#3a3a3a" stroke-width="0.9"/>
<rect x="316.30" y="617.30" width="13.80" height="12.30" fill="none" stroke="#3a3a3a" stroke-width="0.9"/>
<rect x="317.40" y="629.60" width="13.80" height="15.20" fill="none" stroke="#3a3a3a" stroke-width="0.9"/>
<polyline points="265.60,593.00 265.60,584.60 351.30,584.60 351.30,638.00 342.00,638.00" fill="none" stroke="#111" stroke-width="0.9" stroke-linejoin="round" />
<line x1="339.80" y1="584.60" x2="339.80" y2="620.00" stroke="#111" stroke-width="0.9" stroke-linecap="butt"/>
<line x1="265.60" y1="584.60" x2="286.70" y2="595.10" stroke="#111" stroke-width="0.9" stroke-linecap="butt"/>
<line x1="265.60" y1="584.60" x2="304.70" y2="595.10" stroke="#111" stroke-width="0.9" stroke-linecap="butt"/>
<text transform="translate(265.20,600.20)" font-size="8" text-anchor="middle" font-weight="bold" fill="#000" >1</text>
<text transform="translate(290.60,600.20)" font-size="8" text-anchor="middle" font-weight="bold" fill="#000" >2</text>
<text transform="translate(309.00,600.20)" font-size="8" text-anchor="middle" font-weight="bold" fill="#000" >3</text>
<text transform="translate(339.80,626.60)" font-size="8" text-anchor="middle" font-weight="bold" fill="#000" >4</text>
<text transform="translate(338.60,641.00)" font-size="8" text-anchor="middle" font-weight="bold" fill="#000" >5</text>
<text transform="translate(228.60,577.40)" font-size="8.1" text-anchor="start" font-weight="normal" fill="#1a1a1a" stroke-width="0.1">SUBPOPULATIONS</text>
<rect x="225.30" y="562.30" width="139.50" height="136.90" fill="none" stroke="#111" stroke-width="1.25"/>
<line x1="261.80" y1="699.20" x2="261.80" y2="702.80" stroke="#111" stroke-width="0.8" stroke-linecap="butt"/>
<line x1="302.20" y1="699.20" x2="302.20" y2="702.80" stroke="#111" stroke-width="0.8" stroke-linecap="butt"/>
<line x1="327.60" y1="699.20" x2="327.60" y2="702.80" stroke="#111" stroke-width="0.8" stroke-linecap="butt"/>
<line x1="352.60" y1="699.20" x2="352.60" y2="702.80" stroke="#111" stroke-width="0.8" stroke-linecap="butt"/>
<line x1="309.85" y1="699.20" x2="309.85" y2="701.20" stroke="#111" stroke-width="0.8" stroke-linecap="butt"/>
<line x1="314.32" y1="699.20" x2="314.32" y2="701.20" stroke="#111" stroke-width="0.8" stroke-linecap="butt"/>
<line x1="317.49" y1="699.20" x2="317.49" y2="701.20" stroke="#111" stroke-width="0.8" stroke-linecap="butt"/>
<line x1="319.95" y1="699.20" x2="319.95" y2="701.20" stroke="#111" stroke-width="0.8" stroke-linecap="butt"/>
<line x1="321.97" y1="699.20" x2="321.97" y2="701.20" stroke="#111" stroke-width="0.8" stroke-linecap="butt"/>
<line x1="323.67" y1="699.20" x2="323.67" y2="701.20" stroke="#111" stroke-width="0.8" stroke-linecap="butt"/>
<line x1="325.14" y1="699.20" x2="325.14" y2="701.20" stroke="#111" stroke-width="0.8" stroke-linecap="butt"/>
<line x1="326.44" y1="699.20" x2="326.44" y2="701.20" stroke="#111" stroke-width="0.8" stroke-linecap="butt"/>
<line x1="335.13" y1="699.20" x2="335.13" y2="701.20" stroke="#111" stroke-width="0.8" stroke-linecap="butt"/>
<line x1="339.53" y1="699.20" x2="339.53" y2="701.20" stroke="#111" stroke-width="0.8" stroke-linecap="butt"/>
<line x1="342.65" y1="699.20" x2="342.65" y2="701.20" stroke="#111" stroke-width="0.8" stroke-linecap="butt"/>
<line x1="345.07" y1="699.20" x2="345.07" y2="701.20" stroke="#111" stroke-width="0.8" stroke-linecap="butt"/>
<line x1="347.05" y1="699.20" x2="347.05" y2="701.20" stroke="#111" stroke-width="0.8" stroke-linecap="butt"/>
<line x1="348.73" y1="699.20" x2="348.73" y2="701.20" stroke="#111" stroke-width="0.8" stroke-linecap="butt"/>
<line x1="350.18" y1="699.20" x2="350.18" y2="701.20" stroke="#111" stroke-width="0.8" stroke-linecap="butt"/>
<line x1="351.46" y1="699.20" x2="351.46" y2="701.20" stroke="#111" stroke-width="0.8" stroke-linecap="butt"/>
<line x1="271.94" y1="699.20" x2="271.94" y2="701.20" stroke="#111" stroke-width="0.8" stroke-linecap="butt"/>
<line x1="277.17" y1="699.20" x2="277.17" y2="701.20" stroke="#111" stroke-width="0.8" stroke-linecap="butt"/>
<line x1="281.40" y1="699.20" x2="281.40" y2="701.20" stroke="#111" stroke-width="0.8" stroke-linecap="butt"/>
<line x1="285.09" y1="699.20" x2="285.09" y2="701.20" stroke="#111" stroke-width="0.8" stroke-linecap="butt"/>
<line x1="288.43" y1="699.20" x2="288.43" y2="701.20" stroke="#111" stroke-width="0.8" stroke-linecap="butt"/>
<line x1="291.51" y1="699.20" x2="291.51" y2="701.20" stroke="#111" stroke-width="0.8" stroke-linecap="butt"/>
<line x1="294.38" y1="699.20" x2="294.38" y2="701.20" stroke="#111" stroke-width="0.8" stroke-linecap="butt"/>
<line x1="297.10" y1="699.20" x2="297.10" y2="701.20" stroke="#111" stroke-width="0.8" stroke-linecap="butt"/>
<line x1="299.69" y1="699.20" x2="299.69" y2="701.20" stroke="#111" stroke-width="0.8" stroke-linecap="butt"/>
<line x1="257.50" y1="699.20" x2="257.50" y2="701.20" stroke="#111" stroke-width="0.8" stroke-linecap="butt"/>
<line x1="253.20" y1="699.20" x2="253.20" y2="701.20" stroke="#111" stroke-width="0.8" stroke-linecap="butt"/>
<line x1="248.90" y1="699.20" x2="248.90" y2="701.20" stroke="#111" stroke-width="0.8" stroke-linecap="butt"/>
<line x1="244.60" y1="699.20" x2="244.60" y2="701.20" stroke="#111" stroke-width="0.8" stroke-linecap="butt"/>
<line x1="240.30" y1="699.20" x2="240.30" y2="701.20" stroke="#111" stroke-width="0.8" stroke-linecap="butt"/>
<line x1="236.00" y1="699.20" x2="236.00" y2="701.20" stroke="#111" stroke-width="0.8" stroke-linecap="butt"/>
<line x1="231.70" y1="699.20" x2="231.70" y2="701.20" stroke="#111" stroke-width="0.8" stroke-linecap="butt"/>
<line x1="225.30" y1="574.40" x2="221.70" y2="574.40" stroke="#111" stroke-width="0.8" stroke-linecap="butt"/>
<line x1="225.30" y1="599.50" x2="221.70" y2="599.50" stroke="#111" stroke-width="0.8" stroke-linecap="butt"/>
<line x1="225.30" y1="625.00" x2="221.70" y2="625.00" stroke="#111" stroke-width="0.8" stroke-linecap="butt"/>
<line x1="225.30" y1="663.30" x2="221.70" y2="663.30" stroke="#111" stroke-width="0.8" stroke-linecap="butt"/>
<line x1="225.30" y1="617.32" x2="223.30" y2="617.32" stroke="#111" stroke-width="0.8" stroke-linecap="butt"/>
<line x1="225.30" y1="612.83" x2="223.30" y2="612.83" stroke="#111" stroke-width="0.8" stroke-linecap="butt"/>
<line x1="225.30" y1="609.65" x2="223.30" y2="609.65" stroke="#111" stroke-width="0.8" stroke-linecap="butt"/>
<line x1="225.30" y1="607.18" x2="223.30" y2="607.18" stroke="#111" stroke-width="0.8" stroke-linecap="butt"/>
<line x1="225.30" y1="605.16" x2="223.30" y2="605.16" stroke="#111" stroke-width="0.8" stroke-linecap="butt"/>
<line x1="225.30" y1="603.45" x2="223.30" y2="603.45" stroke="#111" stroke-width="0.8" stroke-linecap="butt"/>
<line x1="225.30" y1="601.97" x2="223.30" y2="601.97" stroke="#111" stroke-width="0.8" stroke-linecap="butt"/>
<line x1="225.30" y1="600.67" x2="223.30" y2="600.67" stroke="#111" stroke-width="0.8" stroke-linecap="butt"/>
<line x1="225.30" y1="591.94" x2="223.30" y2="591.94" stroke="#111" stroke-width="0.8" stroke-linecap="butt"/>
<line x1="225.30" y1="587.52" x2="223.30" y2="587.52" stroke="#111" stroke-width="0.8" stroke-linecap="butt"/>
<line x1="225.30" y1="584.39" x2="223.30" y2="584.39" stroke="#111" stroke-width="0.8" stroke-linecap="butt"/>
<line x1="225.30" y1="581.96" x2="223.30" y2="581.96" stroke="#111" stroke-width="0.8" stroke-linecap="butt"/>
<line x1="225.30" y1="579.97" x2="223.30" y2="579.97" stroke="#111" stroke-width="0.8" stroke-linecap="butt"/>
<line x1="225.30" y1="578.29" x2="223.30" y2="578.29" stroke="#111" stroke-width="0.8" stroke-linecap="butt"/>
<line x1="225.30" y1="576.83" x2="223.30" y2="576.83" stroke="#111" stroke-width="0.8" stroke-linecap="butt"/>
<line x1="225.30" y1="575.55" x2="223.30" y2="575.55" stroke="#111" stroke-width="0.8" stroke-linecap="butt"/>
<line x1="225.30" y1="653.69" x2="223.30" y2="653.69" stroke="#111" stroke-width="0.8" stroke-linecap="butt"/>
<line x1="225.30" y1="648.73" x2="223.30" y2="648.73" stroke="#111" stroke-width="0.8" stroke-linecap="butt"/>
<line x1="225.30" y1="644.72" x2="223.30" y2="644.72" stroke="#111" stroke-width="0.8" stroke-linecap="butt"/>
<line x1="225.30" y1="641.22" x2="223.30" y2="641.22" stroke="#111" stroke-width="0.8" stroke-linecap="butt"/>
<line x1="225.30" y1="638.06" x2="223.30" y2="638.06" stroke="#111" stroke-width="0.8" stroke-linecap="butt"/>
<line x1="225.30" y1="635.14" x2="223.30" y2="635.14" stroke="#111" stroke-width="0.8" stroke-linecap="butt"/>
<line x1="225.30" y1="632.41" x2="223.30" y2="632.41" stroke="#111" stroke-width="0.8" stroke-linecap="butt"/>
<line x1="225.30" y1="629.83" x2="223.30" y2="629.83" stroke="#111" stroke-width="0.8" stroke-linecap="butt"/>
<line x1="225.30" y1="627.38" x2="223.30" y2="627.38" stroke="#111" stroke-width="0.8" stroke-linecap="butt"/>
<line x1="225.30" y1="667.60" x2="223.30" y2="667.60" stroke="#111" stroke-width="0.8" stroke-linecap="butt"/>
<line x1="225.30" y1="671.90" x2="223.30" y2="671.90" stroke="#111" stroke-width="0.8" stroke-linecap="butt"/>
<line x1="225.30" y1="676.20" x2="223.30" y2="676.20" stroke="#111" stroke-width="0.8" stroke-linecap="butt"/>
<line x1="225.30" y1="680.50" x2="223.30" y2="680.50" stroke="#111" stroke-width="0.8" stroke-linecap="butt"/>
<line x1="225.30" y1="684.80" x2="223.30" y2="684.80" stroke="#111" stroke-width="0.8" stroke-linecap="butt"/>
<line x1="225.30" y1="689.10" x2="223.30" y2="689.10" stroke="#111" stroke-width="0.8" stroke-linecap="butt"/>
<line x1="225.30" y1="693.40" x2="223.30" y2="693.40" stroke="#111" stroke-width="0.8" stroke-linecap="butt"/>
<text transform="translate(218.70,577.80)" font-size="9" text-anchor="end" fill="#1a1a1a">10<tspan font-size="6" dy="-3.6">5</tspan></text>
<text transform="translate(218.70,602.90)" font-size="9" text-anchor="end" fill="#1a1a1a">10<tspan font-size="6" dy="-3.6">4</tspan></text>
<text transform="translate(218.70,628.40)" font-size="9" text-anchor="end" fill="#1a1a1a">10<tspan font-size="6" dy="-3.6">3</tspan></text>
<text transform="translate(218.70,666.60)" font-size="9" text-anchor="end" font-weight="normal" fill="#1a1a1a" >0</text>
<text transform="translate(261.80,713.00)" font-size="9" text-anchor="middle" font-weight="normal" fill="#1a1a1a" >0</text>
<text transform="translate(302.70,713.30)" font-size="9" text-anchor="middle" fill="#1a1a1a">10<tspan font-size="6" dy="-3.6">3</tspan></text>
<text transform="translate(328.10,713.30)" font-size="9" text-anchor="middle" fill="#1a1a1a">10<tspan font-size="6" dy="-3.6">4</tspan></text>
<text transform="translate(353.10,713.30)" font-size="9" text-anchor="middle" fill="#1a1a1a">10<tspan font-size="6" dy="-3.6">5</tspan></text>
<text transform="translate(200.80,653.80) rotate(-90)" font-size="11" text-anchor="start" font-weight="normal" fill="#1a1a1a"  textLength="46.2" lengthAdjust="spacingAndGlyphs">CD5 (FITC)</text>
<text transform="translate(295.30,729.80) scale(0.8,1)" font-size="11" text-anchor="middle" font-weight="normal" fill="#1a1a1a" >CXCR4 (PE)</text>
</svg>
</body></html>
